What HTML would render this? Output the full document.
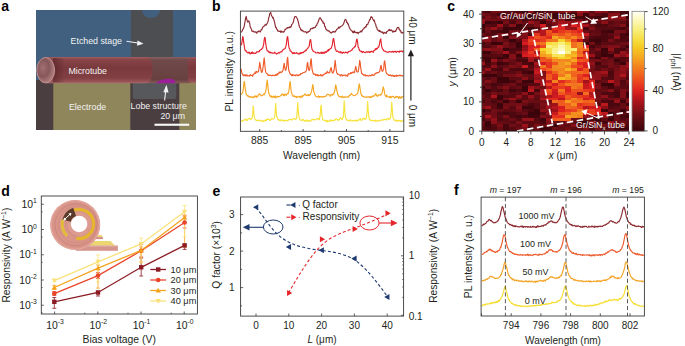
<!DOCTYPE html><html><head><meta charset="utf-8"><style>html,body{margin:0;padding:0;background:#fff;width:685px;height:346px;overflow:hidden}svg{display:block}text{font-family:"Liberation Sans",sans-serif}</style></head><body><svg width="685" height="346" viewBox="0 0 685 346" font-family='"Liberation Sans", sans-serif'>
<rect width="685" height="346" fill="#fff"/>
<text x="1.2" y="10.5" font-size="14" font-weight="bold" fill="#000">a</text>
<text x="212.0" y="10.5" font-size="14" font-weight="bold" fill="#000">b</text>
<text x="447.3" y="10.6" font-size="14" font-weight="bold" fill="#000">c</text>
<text x="1.2" y="196.1" font-size="14" font-weight="bold" fill="#000">d</text>
<text x="212.4" y="195.6" font-size="14" font-weight="bold" fill="#000">e</text>
<text x="454.1" y="195.2" font-size="14" font-weight="bold" fill="#000">f</text>
<defs><clipPath id="cpa"><rect x="36" y="10" width="160" height="120"/></clipPath></defs>
<g id="pa" clip-path="url(#cpa)">
<defs><linearGradient id="tg" x1="0" y1="0" x2="0" y2="1"><stop offset="0" stop-color="#a25e60"/><stop offset="0.1" stop-color="#874548"/><stop offset="0.4" stop-color="#7a393d"/><stop offset="0.8" stop-color="#834044"/><stop offset="0.95" stop-color="#9a5658"/><stop offset="1" stop-color="#b07074"/></linearGradient><linearGradient id="tg2" x1="0" y1="0" x2="0" y2="1"><stop offset="0" stop-color="#8a6062"/><stop offset="0.12" stop-color="#70494b"/><stop offset="0.85" stop-color="#67403f"/><stop offset="1" stop-color="#885a5a"/></linearGradient><radialGradient id="cap" cx="0.35" cy="0.4" r="0.7"><stop offset="0" stop-color="#a07072"/><stop offset="0.5" stop-color="#86575a"/><stop offset="1" stop-color="#b98788"/></radialGradient><linearGradient id="shd" x1="0" y1="0" x2="1" y2="0"><stop offset="0" stop-color="#4a1c20" stop-opacity="0.55"/><stop offset="1" stop-color="#4a1c20" stop-opacity="0"/></linearGradient></defs>
<rect x="36" y="10" width="160" height="120" fill="#41607f"/>
<path d="M131,10 L142,10 C143,15 145.5,17.8 151,17.8 C156.5,17.8 159,15 160,10 L173,10 L173,60 L131,60 Z" fill="#4d4e51"/>
<rect x="36" y="80" width="160" height="50" fill="#4a3e41"/>
<rect x="53.3" y="82" width="77" height="48" fill="#8f865c"/>
<rect x="179.3" y="82" width="16.7" height="48" fill="#8f865c"/>
<path d="M132.8,82 L176.3,82 L176.3,97 Q176.3,99 174.3,99 L134.8,99 Q132.8,99 132.8,97 Z" fill="#56585c"/>
<rect x="143" y="57" width="51" height="26.3" rx="5" fill="url(#tg2)"/>
<path d="M45.7,57 L146,57 C151,57 152.5,63 152.5,70 C152.5,77 151,83.3 146,83.3 L45.7,83.3 Z" fill="url(#tg)"/>
<rect x="187.8" y="57" width="12" height="26.3" rx="5" fill="url(#tg)"/>
<rect x="53" y="58" width="12" height="24.5" fill="url(#shd)"/>
<ellipse cx="45.7" cy="70.2" rx="8.9" ry="12.7" fill="url(#cap)" stroke="#c09090" stroke-width="1"/>
<path d="M155.3,83.3 C158,81 162,79.5 166,78.9 C170,78.3 173.5,78.8 174.8,80.5 C175.5,81.8 175.2,83 174.8,83.3 Z" fill="#9b1f98"/>
<text x="70.6" y="44.3" font-size="8.8" text-anchor="start" fill="#f2f2f2" >Etched stage</text>
<text x="68.4" y="74.2" font-size="8.8" text-anchor="start" fill="#f2f2f2" >Microtube</text>
<text x="69.0" y="109.6" font-size="8.8" text-anchor="start" fill="#f2f2f2" >Electrode</text>
<text x="130.6" y="109.4" font-size="8.8" text-anchor="start" fill="#f2f2f2" >Lobe structure</text>
<text x="160.4" y="119.0" font-size="8.8" text-anchor="start" fill="#f2f2f2" >20 μm</text>
<line x1="126.5" y1="41.2" x2="139.5" y2="43.2" stroke="#f2f2f2" stroke-width="1.1"/>
<path d="M143.5,43.8 L137.5,40.4 L137.0,45.8 Z" fill="#f2f2f2"/>
<line x1="164.6" y1="100.5" x2="165.7" y2="91" stroke="#f2f2f2" stroke-width="1.1"/>
<path d="M166.4,84.8 L163.3,92.3 L168.6,92.6 Z" fill="#f2f2f2"/>
<rect x="154.5" y="123.7" width="34.7" height="2.1" fill="#f8f8f8"/>
</g>
<polyline points="241.20,32.53 241.70,31.49 242.20,30.85 242.70,29.22 243.20,29.12 243.70,27.82 244.20,26.16 244.70,23.38 245.20,20.58 245.70,17.62 246.20,16.45 246.70,18.93 247.20,20.75 247.70,22.11 248.20,21.23 248.70,20.84 249.20,21.80 249.70,23.48 250.20,26.96 250.70,27.63 251.20,28.78 251.70,30.10 252.20,31.53 252.70,31.32 253.20,31.00 253.70,31.38 254.20,32.22 254.70,31.95 255.20,31.75 255.70,32.09 256.20,32.62 256.70,33.27 257.20,31.67 257.70,31.97 258.20,31.84 258.70,30.95 259.20,31.56 259.70,31.28 260.20,32.00 260.70,30.88 261.20,29.49 261.70,29.88 262.20,28.57 262.70,27.08 263.20,26.95 263.70,26.39 264.20,25.81 264.70,25.91 265.20,24.42 265.70,24.99 266.20,25.07 266.70,24.24 267.20,23.40 267.70,22.18 268.20,20.85 268.70,17.74 269.20,16.74 269.70,13.57 270.20,13.06 270.70,12.34 271.20,14.71 271.70,16.09 272.20,16.37 272.70,18.04 273.20,17.51 273.70,19.15 274.20,21.04 274.70,22.58 275.20,25.29 275.70,27.63 276.20,27.38 276.70,29.27 277.20,29.46 277.70,30.97 278.20,30.76 278.70,31.20 279.20,31.45 279.70,31.47 280.20,30.83 280.70,32.36 281.20,31.09 281.70,31.98 282.20,32.21 282.70,31.48 283.20,31.90 283.70,32.26 284.20,31.39 284.70,30.55 285.20,29.01 285.70,29.37 286.20,28.93 286.70,28.38 287.20,27.70 287.70,28.06 288.20,27.40 288.70,27.52 289.20,27.80 289.70,26.83 290.20,26.79 290.70,27.56 291.20,26.32 291.70,24.50 292.20,24.22 292.70,23.48 293.20,22.51 293.70,20.42 294.20,18.37 294.70,16.76 295.20,16.63 295.70,16.54 296.20,16.79 296.70,17.74 297.20,18.46 297.70,20.26 298.20,21.34 298.70,23.97 299.20,26.05 299.70,27.41 300.20,27.94 300.70,29.93 301.20,29.59 301.70,30.67 302.20,30.48 302.70,30.29 303.20,31.52 303.70,31.75 304.20,31.73 304.70,32.03 305.20,31.67 305.70,31.70 306.20,32.04 306.70,33.11 307.20,32.55 307.70,31.82 308.20,32.22 308.70,31.47 309.20,31.12 309.70,31.29 310.20,30.01 310.70,28.81 311.20,28.59 311.70,28.58 312.20,28.25 312.70,28.59 313.20,27.50 313.70,28.13 314.20,27.83 314.70,27.28 315.20,27.37 315.70,26.65 316.20,25.30 316.70,25.48 317.20,23.42 317.70,23.00 318.20,21.73 318.70,20.57 319.20,18.66 319.70,18.03 320.20,17.75 320.70,18.92 321.20,19.09 321.70,20.57 322.20,21.11 322.70,20.96 323.20,23.32 323.70,22.76 324.20,23.41 324.70,26.43 325.20,26.65 325.70,28.55 326.20,29.71 326.70,29.65 327.20,30.29 327.70,30.65 328.20,31.17 328.70,30.68 329.20,31.08 329.70,31.79 330.20,32.51 330.70,32.41 331.20,33.05 331.70,32.60 332.20,32.05 332.70,32.27 333.20,31.32 333.70,31.81 334.20,31.68 334.70,32.14 335.20,32.02 335.70,30.98 336.20,30.38 336.70,29.21 337.20,29.18 337.70,28.66 338.20,28.15 338.70,27.09 339.20,28.18 339.70,27.60 340.20,26.82 340.70,26.44 341.20,26.30 341.70,26.18 342.20,25.60 342.70,25.17 343.20,24.42 343.70,23.56 344.20,22.06 344.70,20.09 345.20,19.59 345.70,19.42 346.20,20.25 346.70,22.51 347.20,22.09 347.70,24.00 348.20,23.78 348.70,25.41 349.20,27.29 349.70,28.07 350.20,29.31 350.70,29.79 351.20,30.28 351.70,30.89 352.20,30.99 352.70,32.40 353.20,31.70 353.70,32.81 354.20,30.73 354.70,32.18 355.20,32.53 355.70,32.16 356.20,32.90 356.70,32.71 357.20,32.27 357.70,32.63 358.20,33.81 358.70,32.50 359.20,32.46 359.70,31.97 360.20,32.06 360.70,31.04 361.20,31.15 361.70,31.90 362.20,30.52 362.70,29.55 363.20,29.04 363.70,28.77 364.20,27.61 364.70,27.96 365.20,27.17 365.70,26.46 366.20,26.92 366.70,24.47 367.20,24.79 367.70,24.49 368.20,23.00 368.70,22.31 369.20,20.82 369.70,19.41 370.20,19.68 370.70,17.48 371.20,16.56 371.70,17.42 372.20,17.43 372.70,18.99 373.20,19.60 373.70,20.92 374.20,20.10 374.70,22.22 375.20,23.33 375.70,24.29 376.20,26.91 376.70,27.22 377.20,29.48 377.70,29.72 378.20,30.44 378.70,30.63 379.20,31.43 379.70,30.36 380.20,31.59 380.70,31.45 381.20,32.08 381.70,32.06 382.20,32.52 382.70,31.90 383.20,33.33 383.70,33.64 384.20,32.44 384.70,32.57 385.20,32.73 385.70,33.18 386.20,33.40 386.70,31.66 387.20,31.65 387.70,31.03 388.20,30.54 388.70,29.79 389.20,30.39 389.70,29.38 390.20,30.67 390.70,30.54 391.20,29.90 391.70,30.32 392.20,30.94 392.70,32.27 393.20,31.35 393.70,31.09 394.20,31.72 394.70,31.70 395.20,30.79 395.70,31.36 396.20,29.92 396.70,29.13 397.20,27.62 397.70,27.58 398.20,27.74 398.70,27.43 399.20,29.65 399.70,29.45 400.20,31.01 400.70,30.79 401.20,32.92 401.70,32.36 402.20,32.85 402.70,33.04 403.20,32.05" fill="none" stroke="#8f2d35" stroke-width="1.15" stroke-linejoin="round"/>
<polyline points="241.20,45.28 241.70,43.84 242.20,40.65 242.70,36.54 243.20,37.74 243.70,42.47 244.20,45.37 244.70,48.69 245.20,50.98 245.70,50.81 246.20,50.79 246.70,52.04 247.20,52.24 247.70,52.85 248.20,52.42 248.70,52.98 249.20,52.02 249.70,53.47 250.20,53.85 250.70,53.76 251.20,52.52 251.70,53.36 252.20,51.89 252.70,53.36 253.20,53.20 253.70,52.77 254.20,53.34 254.70,53.19 255.20,53.48 255.70,53.01 256.20,52.92 256.70,51.75 257.20,51.87 257.70,51.90 258.20,51.93 258.70,51.43 259.20,51.72 259.70,50.24 260.20,50.12 260.70,49.92 261.20,49.28 261.70,49.15 262.20,48.08 262.70,48.12 263.20,45.91 263.70,44.06 264.20,39.69 264.70,37.30 265.20,37.96 265.70,43.46 266.20,46.61 266.70,49.13 267.20,50.92 267.70,50.74 268.20,51.23 268.70,51.78 269.20,52.62 269.70,51.85 270.20,52.89 270.70,52.38 271.20,52.52 271.70,52.93 272.20,53.31 272.70,52.90 273.20,52.98 273.70,53.21 274.20,53.12 274.70,52.05 275.20,53.06 275.70,53.29 276.20,53.73 276.70,54.12 277.20,53.46 277.70,53.13 278.20,52.57 278.70,52.91 279.20,53.05 279.70,53.06 280.20,51.83 280.70,52.02 281.20,51.94 281.70,52.02 282.20,50.90 282.70,50.12 283.20,49.64 283.70,49.36 284.20,48.78 284.70,48.90 285.20,48.27 285.70,46.92 286.20,45.06 286.70,40.86 287.20,37.17 287.70,36.54 288.20,41.07 288.70,45.90 289.20,48.12 289.70,48.98 290.20,50.77 290.70,51.26 291.20,51.37 291.70,52.03 292.20,53.05 292.70,53.54 293.20,52.69 293.70,53.45 294.20,53.60 294.70,52.61 295.20,53.15 295.70,53.19 296.20,53.31 296.70,52.53 297.20,53.11 297.70,53.75 298.20,53.84 298.70,54.10 299.20,53.10 299.70,54.07 300.20,53.48 300.70,52.49 301.20,53.34 301.70,52.70 302.20,52.91 302.70,52.41 303.20,52.72 303.70,51.98 304.20,51.39 304.70,51.57 305.20,50.86 305.70,50.16 306.20,50.53 306.70,49.39 307.20,48.90 307.70,48.49 308.20,47.44 308.70,46.84 309.20,46.14 309.70,42.00 310.20,39.52 310.70,39.77 311.20,43.72 311.70,47.88 312.20,49.62 312.70,50.18 313.20,51.25 313.70,51.39 314.20,51.76 314.70,51.95 315.20,52.12 315.70,52.80 316.20,53.00 316.70,53.02 317.20,52.77 317.70,52.26 318.20,52.87 318.70,52.49 319.20,53.32 319.70,53.17 320.20,53.26 320.70,52.76 321.20,52.09 321.70,53.32 322.20,53.42 322.70,52.16 323.20,52.84 323.70,53.24 324.20,52.11 324.70,53.26 325.20,52.13 325.70,51.58 326.20,52.42 326.70,51.63 327.20,50.85 327.70,51.16 328.20,49.49 328.70,50.79 329.20,49.21 329.70,49.31 330.20,48.60 330.70,48.52 331.20,48.12 331.70,46.38 332.20,45.43 332.70,42.13 333.20,38.64 333.70,38.66 334.20,41.93 334.70,45.60 335.20,48.71 335.70,49.64 336.20,51.11 336.70,51.38 337.20,51.12 337.70,51.00 338.20,51.73 338.70,52.29 339.20,52.28 339.70,51.97 340.20,52.85 340.70,51.64 341.20,51.89 341.70,52.53 342.20,53.47 342.70,52.68 343.20,52.04 343.70,52.76 344.20,52.79 344.70,52.90 345.20,52.27 345.70,52.07 346.20,52.44 346.70,52.52 347.20,52.98 347.70,53.09 348.20,51.68 348.70,51.59 349.20,51.58 349.70,51.22 350.20,51.24 350.70,50.89 351.20,50.41 351.70,50.51 352.20,49.45 352.70,48.67 353.20,48.07 353.70,47.94 354.20,47.50 354.70,46.54 355.20,46.74 355.70,44.87 356.20,41.89 356.70,38.98 357.20,39.40 357.70,43.21 358.20,47.47 358.70,47.56 359.20,49.79 359.70,50.81 360.20,51.03 360.70,51.16 361.20,51.88 361.70,51.20 362.20,52.07 362.70,52.54 363.20,51.49 363.70,51.63 364.20,52.09 364.70,52.49 365.20,52.67 365.70,52.38 366.20,51.78 366.70,51.58 367.20,52.19 367.70,52.25 368.20,51.56 368.70,52.07 369.20,52.16 369.70,52.45 370.20,51.48 370.70,52.10 371.20,51.23 371.70,51.43 372.20,51.41 372.70,51.92 373.20,52.46 373.70,50.78 374.20,50.55 374.70,50.41 375.20,48.96 375.70,49.53 376.20,48.26 376.70,49.19 377.20,48.75 377.70,47.93 378.20,46.82 378.70,47.13 379.20,45.09 379.70,42.64 380.20,40.04 380.70,38.89 381.20,43.01 381.70,46.38 382.20,48.12 382.70,49.28 383.20,49.57 383.70,50.81 384.20,50.96 384.70,51.12 385.20,51.03 385.70,51.79 386.20,52.05 386.70,51.73 387.20,52.00 387.70,52.23 388.20,52.37 388.70,51.78 389.20,51.59 389.70,51.51 390.20,51.71 390.70,51.96 391.20,52.13 391.70,51.52 392.20,51.78 392.70,51.26 393.20,52.28 393.70,51.53 394.20,51.86 394.70,51.38 395.20,51.56 395.70,51.38 396.20,52.45 396.70,51.84 397.20,51.60 397.70,51.24 398.20,51.38 398.70,51.91 399.20,52.39 399.70,50.99 400.20,51.22 400.70,51.54 401.20,51.33 401.70,50.86 402.20,51.61 402.70,51.93 403.20,50.87" fill="none" stroke="#e3242f" stroke-width="1.15" stroke-linejoin="round"/>
<polyline points="241.20,68.81 241.70,72.34 242.20,73.91 242.70,74.07 243.20,75.74 243.70,75.22 244.20,74.77 244.70,75.70 245.20,74.83 245.70,75.79 246.20,74.86 246.70,75.82 247.20,75.22 247.70,76.01 248.20,75.84 248.70,75.71 249.20,75.53 249.70,75.97 250.20,74.63 250.70,75.57 251.20,75.45 251.70,75.35 252.20,75.24 252.70,76.24 253.20,74.27 253.70,74.18 254.20,73.48 254.70,73.75 255.20,71.84 255.70,73.31 256.20,72.15 256.70,71.41 257.20,71.93 257.70,72.18 258.20,71.82 258.70,70.27 259.20,67.20 259.70,62.26 260.20,64.81 260.70,68.39 261.20,71.64 261.70,72.46 262.20,71.44 262.70,69.32 263.20,66.22 263.70,61.61 264.20,57.73 264.70,63.37 265.20,68.52 265.70,71.93 266.20,72.78 266.70,73.45 267.20,73.65 267.70,74.60 268.20,75.31 268.70,74.94 269.20,75.52 269.70,75.28 270.20,75.33 270.70,75.39 271.20,75.37 271.70,75.84 272.20,75.62 272.70,75.15 273.20,75.48 273.70,75.38 274.20,75.61 274.70,75.42 275.20,75.45 275.70,74.47 276.20,75.12 276.70,75.29 277.20,73.77 277.70,74.72 278.20,73.73 278.70,73.11 279.20,72.05 279.70,73.10 280.20,72.02 280.70,72.17 281.20,72.64 281.70,71.89 282.20,71.68 282.70,70.88 283.20,69.43 283.70,65.67 284.20,63.23 284.70,67.20 285.20,69.63 285.70,70.35 286.20,68.66 286.70,66.15 287.20,59.13 287.70,57.27 288.20,64.11 288.70,70.09 289.20,71.22 289.70,72.94 290.20,74.07 290.70,73.85 291.20,75.12 291.70,75.61 292.20,74.63 292.70,75.62 293.20,74.79 293.70,74.80 294.20,75.41 294.70,75.45 295.20,75.10 295.70,75.77 296.20,74.74 296.70,75.02 297.20,74.91 297.70,75.71 298.20,75.68 298.70,75.53 299.20,74.51 299.70,74.95 300.20,74.83 300.70,73.57 301.20,73.54 301.70,73.80 302.20,73.44 302.70,72.90 303.20,72.79 303.70,72.55 304.20,72.42 304.70,72.29 305.20,71.85 305.70,71.78 306.20,70.70 306.70,69.39 307.20,63.61 307.70,62.55 308.20,67.22 308.70,69.94 309.20,70.36 309.70,69.51 310.20,65.76 310.70,60.30 311.20,58.80 311.70,65.35 312.20,70.10 312.70,71.52 313.20,73.34 313.70,74.09 314.20,74.26 314.70,74.48 315.20,74.06 315.70,75.55 316.20,74.72 316.70,74.66 317.20,75.58 317.70,74.51 318.20,75.80 318.70,75.60 319.20,75.69 319.70,75.36 320.20,74.90 320.70,74.59 321.20,76.07 321.70,75.16 322.20,75.05 322.70,75.86 323.20,74.68 323.70,74.59 324.20,74.27 324.70,73.95 325.20,73.15 325.70,73.00 326.20,73.53 326.70,73.09 327.20,71.31 327.70,71.79 328.20,72.90 328.70,72.77 329.20,72.58 329.70,72.74 330.20,70.04 330.70,68.51 331.20,67.55 331.70,70.78 332.20,72.42 332.70,73.23 333.20,72.50 333.70,71.32 334.20,69.51 334.70,64.61 335.20,60.28 335.70,65.25 336.20,69.95 336.70,72.66 337.20,73.38 337.70,74.24 338.20,74.35 338.70,74.36 339.20,75.02 339.70,75.20 340.20,74.92 340.70,76.11 341.20,74.62 341.70,75.02 342.20,75.12 342.70,76.03 343.20,75.35 343.70,75.33 344.20,75.09 344.70,75.15 345.20,74.90 345.70,75.92 346.20,75.70 346.70,75.80 347.20,74.94 347.70,76.19 348.20,74.38 348.70,73.60 349.20,74.03 349.70,73.84 350.20,73.73 350.70,72.59 351.20,73.06 351.70,73.41 352.20,72.22 352.70,72.31 353.20,71.93 353.70,72.76 354.20,72.67 354.70,71.48 355.20,68.77 355.70,66.41 356.20,68.53 356.70,71.68 357.20,71.89 357.70,71.98 358.20,71.57 358.70,68.88 359.20,65.00 359.70,60.40 360.20,62.68 360.70,67.71 361.20,70.94 361.70,73.54 362.20,73.46 362.70,74.39 363.20,74.56 363.70,74.92 364.20,75.55 364.70,74.93 365.20,74.62 365.70,75.97 366.20,75.47 366.70,75.73 367.20,75.43 367.70,75.81 368.20,76.05 368.70,76.11 369.20,75.38 369.70,75.35 370.20,75.68 370.70,75.58 371.20,75.71 371.70,75.09 372.20,74.27 372.70,75.38 373.20,75.33 373.70,75.00 374.20,75.13 374.70,74.39 375.20,73.43 375.70,73.67 376.20,72.87 376.70,73.25 377.20,72.68 377.70,72.76 378.20,72.68 378.70,72.60 379.20,71.68 379.70,71.64 380.20,68.61 380.70,66.01 381.20,65.51 381.70,69.84 382.20,71.25 382.70,71.17 383.20,69.86 383.70,68.74 384.20,62.18 384.70,60.82 385.20,64.29 385.70,69.81 386.20,72.51 386.70,73.58 387.20,74.11 387.70,74.18 388.20,74.42 388.70,75.48 389.20,75.35 389.70,75.19 390.20,75.43 390.70,74.98 391.20,75.90 391.70,76.05 392.20,75.16 392.70,75.58 393.20,76.03 393.70,75.29 394.20,76.51 394.70,76.29 395.20,75.50 395.70,76.07 396.20,76.39 396.70,75.09 397.20,75.94 397.70,75.60 398.20,75.57 398.70,76.00 399.20,75.47 399.70,75.06 400.20,75.05 400.70,75.69 401.20,75.98 401.70,75.69 402.20,75.64 402.70,75.69 403.20,76.29" fill="none" stroke="#ef5b2b" stroke-width="1.15" stroke-linejoin="round"/>
<polyline points="241.20,94.66 241.70,93.64 242.20,93.15 242.70,92.57 243.20,89.39 243.70,85.26 244.20,81.42 244.70,83.26 245.20,89.22 245.70,91.19 246.20,94.69 246.70,94.90 247.20,95.17 247.70,96.27 248.20,95.64 248.70,96.84 249.20,97.07 249.70,96.56 250.20,96.71 250.70,97.36 251.20,96.67 251.70,97.01 252.20,97.17 252.70,97.72 253.20,96.79 253.70,97.02 254.20,97.49 254.70,95.80 255.20,96.77 255.70,95.96 256.20,95.88 256.70,97.41 257.20,96.36 257.70,96.52 258.20,95.12 258.70,94.70 259.20,93.79 259.70,94.00 260.20,94.77 260.70,95.26 261.20,96.06 261.70,95.28 262.20,95.42 262.70,94.95 263.20,94.90 263.70,93.97 264.20,94.69 264.70,93.45 265.20,92.85 265.70,91.21 266.20,88.82 266.70,83.72 267.20,80.11 267.70,83.92 268.20,89.23 268.70,92.63 269.20,94.29 269.70,95.66 270.20,96.43 270.70,96.38 271.20,95.78 271.70,97.35 272.20,97.66 272.70,96.62 273.20,96.67 273.70,95.98 274.20,97.30 274.70,96.52 275.20,97.81 275.70,95.88 276.20,97.03 276.70,97.29 277.20,96.78 277.70,96.57 278.20,96.98 278.70,96.55 279.20,96.52 279.70,96.47 280.20,95.95 280.70,95.65 281.20,95.43 281.70,94.15 282.20,94.07 282.70,94.03 283.20,95.34 283.70,94.70 284.20,95.84 284.70,94.03 285.20,94.87 285.70,94.39 286.20,95.34 286.70,94.74 287.20,93.69 287.70,93.53 288.20,93.57 288.70,91.40 289.20,88.77 289.70,83.31 290.20,81.46 290.70,86.56 291.20,91.69 291.70,92.96 292.20,94.88 292.70,95.01 293.20,96.51 293.70,96.07 294.20,96.30 294.70,95.80 295.20,96.58 295.70,96.92 296.20,97.52 296.70,96.41 297.20,97.41 297.70,96.83 298.20,96.87 298.70,96.57 299.20,96.23 299.70,96.43 300.20,97.68 300.70,96.36 301.20,96.63 301.70,97.22 302.20,95.62 302.70,96.53 303.20,95.73 303.70,95.46 304.20,95.01 304.70,93.98 305.20,94.09 305.70,95.07 306.20,95.48 306.70,95.09 307.20,95.38 307.70,94.79 308.20,95.84 308.70,94.53 309.20,94.95 309.70,95.40 310.20,94.64 310.70,93.61 311.20,92.45 311.70,90.64 312.20,88.02 312.70,84.61 313.20,86.33 313.70,91.59 314.20,92.75 314.70,94.40 315.20,95.31 315.70,96.10 316.20,96.48 316.70,96.43 317.20,97.04 317.70,97.06 318.20,96.75 318.70,95.84 319.20,97.34 319.70,96.58 320.20,96.73 320.70,96.97 321.20,96.48 321.70,96.67 322.20,97.05 322.70,96.84 323.20,97.11 323.70,96.53 324.20,96.75 324.70,96.28 325.20,96.48 325.70,96.52 326.20,95.93 326.70,94.87 327.20,94.69 327.70,94.18 328.20,94.60 328.70,94.60 329.20,94.93 329.70,94.85 330.20,96.35 330.70,94.97 331.20,94.76 331.70,95.03 332.20,94.07 332.70,95.13 333.20,94.40 333.70,94.05 334.20,92.51 334.70,91.05 335.20,88.58 335.70,84.93 336.20,86.58 336.70,90.00 337.20,91.74 337.70,94.36 338.20,95.13 338.70,96.37 339.20,96.21 339.70,96.72 340.20,96.52 340.70,97.06 341.20,97.52 341.70,96.65 342.20,96.05 342.70,96.54 343.20,97.73 343.70,97.14 344.20,96.92 344.70,96.62 345.20,97.52 345.70,97.16 346.20,96.96 346.70,96.73 347.20,96.86 347.70,96.71 348.20,97.01 348.70,97.17 349.20,95.47 349.70,95.32 350.20,95.35 350.70,94.67 351.20,93.36 351.70,93.91 352.20,94.57 352.70,95.00 353.20,95.21 353.70,95.42 354.20,95.79 354.70,95.58 355.20,95.32 355.70,94.96 356.20,94.25 356.70,93.99 357.20,93.94 357.70,92.65 358.20,90.97 358.70,87.19 359.20,83.74 359.70,85.89 360.20,89.33 360.70,92.82 361.20,94.22 361.70,95.78 362.20,95.64 362.70,96.40 363.20,96.34 363.70,96.91 364.20,97.13 364.70,96.80 365.20,97.00 365.70,97.07 366.20,97.38 366.70,96.90 367.20,97.09 367.70,96.89 368.20,96.65 368.70,97.16 369.20,97.27 369.70,96.70 370.20,97.75 370.70,96.68 371.20,97.30 371.70,97.07 372.20,96.04 372.70,96.65 373.20,95.74 373.70,96.05 374.20,95.88 374.70,95.67 375.20,94.53 375.70,93.48 376.20,94.54 376.70,95.87 377.20,95.55 377.70,96.35 378.20,95.19 378.70,95.15 379.20,94.64 379.70,94.90 380.20,95.44 380.70,94.20 381.20,94.61 381.70,93.76 382.20,92.58 382.70,89.64 383.20,86.82 383.70,88.44 384.20,90.36 384.70,93.80 385.20,95.57 385.70,95.90 386.20,96.93 386.70,95.16 387.20,96.56 387.70,96.32 388.20,96.76 388.70,96.97 389.20,97.29 389.70,96.73 390.20,97.54 390.70,96.47 391.20,97.63 391.70,97.10 392.20,96.43 392.70,96.44 393.20,96.45 393.70,96.82 394.20,97.32 394.70,97.87 395.20,97.64 395.70,96.69 396.20,96.26 396.70,97.16 397.20,96.66 397.70,97.23 398.20,97.00 398.70,98.47 399.20,96.54 399.70,97.46 400.20,98.15 400.70,97.13 401.20,96.97 401.70,98.08 402.20,96.37 402.70,96.55 403.20,96.77" fill="none" stroke="#f5a623" stroke-width="1.15" stroke-linejoin="round"/>
<polyline points="241.20,120.79 241.70,120.91 242.20,120.50 242.70,121.37 243.20,120.31 243.70,120.23 244.20,119.82 244.70,119.98 245.20,119.06 245.70,119.06 246.20,120.32 246.70,120.41 247.20,120.35 247.70,119.32 248.20,119.08 248.70,118.83 249.20,118.27 249.70,118.41 250.20,119.03 250.70,119.65 251.20,118.91 251.70,118.93 252.20,117.33 252.70,113.45 253.20,105.78 253.70,111.00 254.20,116.66 254.70,118.35 255.20,119.67 255.70,120.02 256.20,120.37 256.70,120.24 257.20,120.84 257.70,120.66 258.20,120.09 258.70,120.07 259.20,120.05 259.70,120.79 260.20,120.36 260.70,120.51 261.20,120.63 261.70,121.15 262.20,121.53 262.70,120.60 263.20,121.43 263.70,120.84 264.20,121.07 264.70,120.43 265.20,119.98 265.70,120.57 266.20,120.71 266.70,119.25 267.20,119.36 267.70,119.13 268.20,119.55 268.70,119.27 269.20,119.69 269.70,120.30 270.20,120.50 270.70,119.44 271.20,119.16 271.70,118.38 272.20,118.82 272.70,118.98 273.20,119.21 273.70,118.87 274.20,118.42 274.70,116.89 275.20,111.00 275.70,103.21 276.20,110.73 276.70,116.87 277.20,117.35 277.70,118.91 278.20,119.78 278.70,119.43 279.20,120.54 279.70,120.50 280.20,120.12 280.70,120.57 281.20,119.96 281.70,120.23 282.20,120.46 282.70,119.98 283.20,121.05 283.70,120.37 284.20,121.05 284.70,120.57 285.20,120.74 285.70,120.24 286.20,120.45 286.70,120.37 287.20,120.57 287.70,120.93 288.20,119.99 288.70,119.87 289.20,119.62 289.70,119.40 290.20,119.16 290.70,119.48 291.20,119.64 291.70,119.93 292.20,119.91 292.70,119.21 293.20,118.77 293.70,118.63 294.20,118.50 294.70,118.79 295.20,119.53 295.70,119.39 296.20,118.72 296.70,117.07 297.20,111.89 297.70,102.58 298.20,108.54 298.70,115.65 299.20,117.50 299.70,119.27 300.20,119.94 300.70,120.29 301.20,120.15 301.70,120.40 302.20,119.74 302.70,119.92 303.20,119.37 303.70,120.50 304.20,121.26 304.70,121.33 305.20,120.19 305.70,120.91 306.20,121.16 306.70,120.53 307.20,119.87 307.70,121.22 308.20,120.50 308.70,120.47 309.20,121.29 309.70,120.76 310.20,120.85 310.70,121.08 311.20,120.25 311.70,119.69 312.20,120.01 312.70,119.19 313.20,119.38 313.70,119.65 314.20,119.52 314.70,119.96 315.20,119.77 315.70,119.57 316.20,119.17 316.70,118.66 317.20,118.46 317.70,118.37 318.20,119.51 318.70,118.71 319.20,119.80 319.70,117.54 320.20,114.90 320.70,107.54 321.20,104.96 321.70,113.44 322.20,117.08 322.70,119.17 323.20,119.87 323.70,120.38 324.20,120.36 324.70,120.19 325.20,120.66 325.70,121.11 326.20,120.25 326.70,122.04 327.20,120.46 327.70,121.15 328.20,121.42 328.70,121.04 329.20,120.80 329.70,120.97 330.20,121.21 330.70,119.61 331.20,120.85 331.70,120.49 332.20,120.35 332.70,120.65 333.20,120.63 333.70,120.70 334.20,120.17 334.70,120.69 335.20,119.12 335.70,119.10 336.20,118.57 336.70,119.26 337.20,119.44 337.70,120.09 338.20,119.61 338.70,120.32 339.20,119.78 339.70,118.68 340.20,117.64 340.70,118.02 341.20,118.38 341.70,119.72 342.20,119.37 342.70,117.89 343.20,117.41 343.70,111.60 344.20,100.90 344.70,108.38 345.20,115.93 345.70,118.11 346.20,118.86 346.70,120.26 347.20,119.86 347.70,120.24 348.20,120.56 348.70,120.58 349.20,120.33 349.70,120.14 350.20,120.89 350.70,119.73 351.20,120.76 351.70,120.75 352.20,120.86 352.70,120.51 353.20,120.75 353.70,120.98 354.20,120.24 354.70,120.67 355.20,120.78 355.70,120.11 356.20,120.20 356.70,121.17 357.20,120.89 357.70,120.07 358.20,120.48 358.70,120.03 359.20,119.94 359.70,119.49 360.20,118.33 360.70,119.58 361.20,120.46 361.70,120.58 362.20,119.52 362.70,118.90 363.20,118.86 363.70,118.04 364.20,118.62 364.70,118.64 365.20,119.56 365.70,119.26 366.20,118.45 366.70,115.78 367.20,109.69 367.70,101.40 368.20,110.62 368.70,115.64 369.20,118.77 369.70,120.13 370.20,119.63 370.70,120.07 371.20,120.70 371.70,120.78 372.20,120.24 372.70,120.47 373.20,120.63 373.70,120.50 374.20,120.86 374.70,120.78 375.20,121.19 375.70,119.99 376.20,121.15 376.70,121.01 377.20,120.63 377.70,120.85 378.20,121.07 378.70,120.79 379.20,120.55 379.70,120.75 380.20,120.33 380.70,120.04 381.20,120.15 381.70,120.10 382.20,120.32 382.70,120.28 383.20,119.60 383.70,119.66 384.20,119.19 384.70,119.39 385.20,119.61 385.70,119.59 386.20,119.71 386.70,120.05 387.20,118.32 387.70,118.56 388.20,118.52 388.70,119.37 389.20,119.06 389.70,119.39 390.20,118.24 390.70,116.95 391.20,110.98 391.70,102.04 392.20,108.28 392.70,114.81 393.20,118.50 393.70,118.82 394.20,120.21 394.70,120.12 395.20,120.58 395.70,120.58 396.20,120.04 396.70,121.20 397.20,121.11 397.70,120.26 398.20,120.92 398.70,120.90 399.20,120.46 399.70,120.33 400.20,121.28 400.70,120.62 401.20,121.15 401.70,121.55 402.20,120.99 402.70,120.45 403.20,121.21" fill="none" stroke="#f7e33c" stroke-width="1.15" stroke-linejoin="round"/>
<rect x="240.4" y="11.1" width="163.4" height="120.20000000000002" fill="none" stroke="#3a3a3a" stroke-width="0.9"/>
<line x1="259.70" y1="131.3" x2="259.70" y2="129.10000000000002" stroke="#3a3a3a" stroke-width="0.9"/>
<text x="259.70" y="144.3" font-size="10.4" text-anchor="middle" fill="#231f20" >885</text>
<line x1="281.40" y1="131.3" x2="281.40" y2="130.10000000000002" stroke="#3a3a3a" stroke-width="0.9"/>
<line x1="303.10" y1="131.3" x2="303.10" y2="129.10000000000002" stroke="#3a3a3a" stroke-width="0.9"/>
<text x="303.10" y="144.3" font-size="10.4" text-anchor="middle" fill="#231f20" >895</text>
<line x1="324.80" y1="131.3" x2="324.80" y2="130.10000000000002" stroke="#3a3a3a" stroke-width="0.9"/>
<line x1="346.50" y1="131.3" x2="346.50" y2="129.10000000000002" stroke="#3a3a3a" stroke-width="0.9"/>
<text x="346.50" y="144.3" font-size="10.4" text-anchor="middle" fill="#231f20" >905</text>
<line x1="368.20" y1="131.3" x2="368.20" y2="130.10000000000002" stroke="#3a3a3a" stroke-width="0.9"/>
<line x1="389.90" y1="131.3" x2="389.90" y2="129.10000000000002" stroke="#3a3a3a" stroke-width="0.9"/>
<text x="389.90" y="144.3" font-size="10.4" text-anchor="middle" fill="#231f20" >915</text>
<text x="321.6" y="158.7" font-size="10.2" text-anchor="middle" fill="#231f20" >Wavelength (nm)</text>
<text transform="translate(233.4,71.35) rotate(-90)" font-size="10.4" text-anchor="middle" fill="#231f20">PL intensity (a.u.)</text>
<text transform="translate(409.2,16.6) rotate(90)" font-size="10" fill="#231f20">40 μm</text>
<text transform="translate(409.2,104.7) rotate(90)" font-size="10" fill="#231f20">0 μm</text>
<line x1="410.9" y1="55" x2="410.9" y2="100.4" stroke="#231f20" stroke-width="1.2"/>
<path d="M410.9,49.6 L407.8,56.2 L414.0,56.2 Z" fill="#231f20"/>
<g shape-rendering="crispEdges">
<rect x="481.8" y="10.8" width="147.2" height="120.50000000000001" fill="#4a0a0e"/>
<rect x="481.80" y="129.64" width="3.12" height="1.71" fill="rgb(151,18,26)"/>
<rect x="481.80" y="126.71" width="3.12" height="2.97" fill="rgb(81,8,15)"/>
<rect x="481.80" y="123.79" width="3.12" height="2.97" fill="rgb(95,10,18)"/>
<rect x="481.80" y="120.86" width="3.12" height="2.97" fill="rgb(105,12,20)"/>
<rect x="481.80" y="117.94" width="3.12" height="2.97" fill="rgb(72,6,13)"/>
<rect x="481.80" y="115.01" width="3.12" height="2.97" fill="rgb(94,10,18)"/>
<rect x="481.80" y="112.09" width="3.12" height="2.97" fill="rgb(94,10,18)"/>
<rect x="481.80" y="109.16" width="3.12" height="2.97" fill="rgb(58,4,10)"/>
<rect x="481.80" y="106.24" width="3.12" height="2.97" fill="rgb(127,15,23)"/>
<rect x="481.80" y="103.31" width="3.12" height="2.97" fill="rgb(112,13,21)"/>
<rect x="481.80" y="100.39" width="3.12" height="2.97" fill="rgb(77,7,14)"/>
<rect x="481.80" y="97.46" width="3.12" height="2.97" fill="rgb(89,9,17)"/>
<rect x="481.80" y="94.54" width="3.12" height="2.97" fill="rgb(109,12,20)"/>
<rect x="481.80" y="91.61" width="3.12" height="2.97" fill="rgb(87,9,16)"/>
<rect x="481.80" y="88.69" width="3.12" height="2.97" fill="rgb(87,9,16)"/>
<rect x="481.80" y="85.76" width="3.12" height="2.97" fill="rgb(58,4,10)"/>
<rect x="481.80" y="82.84" width="3.12" height="2.97" fill="rgb(110,13,21)"/>
<rect x="481.80" y="79.91" width="3.12" height="2.97" fill="rgb(97,11,18)"/>
<rect x="481.80" y="76.99" width="3.12" height="2.97" fill="rgb(102,11,19)"/>
<rect x="481.80" y="74.06" width="3.12" height="2.97" fill="rgb(58,4,10)"/>
<rect x="481.80" y="71.14" width="3.12" height="2.97" fill="rgb(149,17,25)"/>
<rect x="481.80" y="68.21" width="3.12" height="2.97" fill="rgb(98,11,19)"/>
<rect x="481.80" y="65.29" width="3.12" height="2.97" fill="rgb(83,8,15)"/>
<rect x="481.80" y="62.36" width="3.12" height="2.97" fill="rgb(163,19,27)"/>
<rect x="481.80" y="59.44" width="3.12" height="2.97" fill="rgb(93,10,17)"/>
<rect x="481.80" y="56.51" width="3.12" height="2.97" fill="rgb(58,4,10)"/>
<rect x="481.80" y="53.59" width="3.12" height="2.97" fill="rgb(83,8,15)"/>
<rect x="481.80" y="50.66" width="3.12" height="2.97" fill="rgb(58,4,10)"/>
<rect x="481.80" y="47.74" width="3.12" height="2.97" fill="rgb(128,15,23)"/>
<rect x="481.80" y="44.81" width="3.12" height="2.97" fill="rgb(82,8,15)"/>
<rect x="481.80" y="41.89" width="3.12" height="2.97" fill="rgb(73,7,13)"/>
<rect x="481.80" y="38.96" width="3.12" height="2.97" fill="rgb(129,15,23)"/>
<rect x="481.80" y="36.04" width="3.12" height="2.97" fill="rgb(58,4,10)"/>
<rect x="481.80" y="33.11" width="3.12" height="2.97" fill="rgb(110,13,21)"/>
<rect x="481.80" y="30.19" width="3.12" height="2.97" fill="rgb(58,4,10)"/>
<rect x="481.80" y="27.26" width="3.12" height="2.97" fill="rgb(76,7,14)"/>
<rect x="481.80" y="24.34" width="3.12" height="2.97" fill="rgb(60,4,11)"/>
<rect x="481.80" y="21.41" width="3.12" height="2.97" fill="rgb(143,17,25)"/>
<rect x="481.80" y="18.49" width="3.12" height="2.97" fill="rgb(153,18,26)"/>
<rect x="481.80" y="15.56" width="3.12" height="2.97" fill="rgb(85,9,16)"/>
<rect x="481.80" y="12.64" width="3.12" height="2.97" fill="rgb(121,14,22)"/>
<rect x="481.80" y="10.80" width="3.12" height="1.89" fill="rgb(89,9,17)"/>
<rect x="484.87" y="129.64" width="6.18" height="1.71" fill="rgb(111,13,21)"/>
<rect x="484.87" y="126.71" width="6.18" height="2.97" fill="rgb(73,7,13)"/>
<rect x="484.87" y="123.79" width="6.18" height="2.97" fill="rgb(58,4,10)"/>
<rect x="484.87" y="120.86" width="6.18" height="2.97" fill="rgb(58,4,10)"/>
<rect x="484.87" y="117.94" width="6.18" height="2.97" fill="rgb(105,12,20)"/>
<rect x="484.87" y="115.01" width="6.18" height="2.97" fill="rgb(171,20,28)"/>
<rect x="484.87" y="112.09" width="6.18" height="2.97" fill="rgb(101,11,19)"/>
<rect x="484.87" y="109.16" width="6.18" height="2.97" fill="rgb(79,8,15)"/>
<rect x="484.87" y="106.24" width="6.18" height="2.97" fill="rgb(159,19,27)"/>
<rect x="484.87" y="103.31" width="6.18" height="2.97" fill="rgb(100,11,19)"/>
<rect x="484.87" y="100.39" width="6.18" height="2.97" fill="rgb(97,11,18)"/>
<rect x="484.87" y="97.46" width="6.18" height="2.97" fill="rgb(101,11,19)"/>
<rect x="484.87" y="94.54" width="6.18" height="2.97" fill="rgb(90,9,17)"/>
<rect x="484.87" y="91.61" width="6.18" height="2.97" fill="rgb(85,9,16)"/>
<rect x="484.87" y="88.69" width="6.18" height="2.97" fill="rgb(58,4,10)"/>
<rect x="484.87" y="85.76" width="6.18" height="2.97" fill="rgb(109,12,20)"/>
<rect x="484.87" y="82.84" width="6.18" height="2.97" fill="rgb(91,10,17)"/>
<rect x="484.87" y="79.91" width="6.18" height="2.97" fill="rgb(133,15,23)"/>
<rect x="484.87" y="76.99" width="6.18" height="2.97" fill="rgb(84,8,15)"/>
<rect x="484.87" y="74.06" width="6.18" height="2.97" fill="rgb(58,4,10)"/>
<rect x="484.87" y="71.14" width="6.18" height="2.97" fill="rgb(91,10,17)"/>
<rect x="484.87" y="68.21" width="6.18" height="2.97" fill="rgb(151,18,26)"/>
<rect x="484.87" y="65.29" width="6.18" height="2.97" fill="rgb(83,8,15)"/>
<rect x="484.87" y="62.36" width="6.18" height="2.97" fill="rgb(69,6,12)"/>
<rect x="484.87" y="59.44" width="6.18" height="2.97" fill="rgb(61,4,11)"/>
<rect x="484.87" y="56.51" width="6.18" height="2.97" fill="rgb(65,5,11)"/>
<rect x="484.87" y="53.59" width="6.18" height="2.97" fill="rgb(86,9,16)"/>
<rect x="484.87" y="50.66" width="6.18" height="2.97" fill="rgb(61,5,11)"/>
<rect x="484.87" y="47.74" width="6.18" height="2.97" fill="rgb(144,17,25)"/>
<rect x="484.87" y="44.81" width="6.18" height="2.97" fill="rgb(86,9,16)"/>
<rect x="484.87" y="41.89" width="6.18" height="2.97" fill="rgb(97,11,18)"/>
<rect x="484.87" y="38.96" width="6.18" height="2.97" fill="rgb(142,17,25)"/>
<rect x="484.87" y="36.04" width="6.18" height="2.97" fill="rgb(144,17,25)"/>
<rect x="484.87" y="33.11" width="6.18" height="2.97" fill="rgb(88,9,16)"/>
<rect x="484.87" y="30.19" width="6.18" height="2.97" fill="rgb(103,12,20)"/>
<rect x="484.87" y="27.26" width="6.18" height="2.97" fill="rgb(117,13,21)"/>
<rect x="484.87" y="24.34" width="6.18" height="2.97" fill="rgb(89,9,17)"/>
<rect x="484.87" y="21.41" width="6.18" height="2.97" fill="rgb(58,4,10)"/>
<rect x="484.87" y="18.49" width="6.18" height="2.97" fill="rgb(114,13,21)"/>
<rect x="484.87" y="15.56" width="6.18" height="2.97" fill="rgb(123,14,22)"/>
<rect x="484.87" y="12.64" width="6.18" height="2.97" fill="rgb(106,12,20)"/>
<rect x="484.87" y="10.80" width="6.18" height="1.89" fill="rgb(68,6,12)"/>
<rect x="491.00" y="129.64" width="6.18" height="1.71" fill="rgb(88,9,16)"/>
<rect x="491.00" y="126.71" width="6.18" height="2.97" fill="rgb(78,7,14)"/>
<rect x="491.00" y="123.79" width="6.18" height="2.97" fill="rgb(86,9,16)"/>
<rect x="491.00" y="120.86" width="6.18" height="2.97" fill="rgb(137,16,24)"/>
<rect x="491.00" y="117.94" width="6.18" height="2.97" fill="rgb(145,17,25)"/>
<rect x="491.00" y="115.01" width="6.18" height="2.97" fill="rgb(115,13,21)"/>
<rect x="491.00" y="112.09" width="6.18" height="2.97" fill="rgb(110,13,21)"/>
<rect x="491.00" y="109.16" width="6.18" height="2.97" fill="rgb(115,13,21)"/>
<rect x="491.00" y="106.24" width="6.18" height="2.97" fill="rgb(94,10,18)"/>
<rect x="491.00" y="103.31" width="6.18" height="2.97" fill="rgb(92,10,17)"/>
<rect x="491.00" y="100.39" width="6.18" height="2.97" fill="rgb(75,7,14)"/>
<rect x="491.00" y="97.46" width="6.18" height="2.97" fill="rgb(92,10,17)"/>
<rect x="491.00" y="94.54" width="6.18" height="2.97" fill="rgb(171,20,28)"/>
<rect x="491.00" y="91.61" width="6.18" height="2.97" fill="rgb(122,14,22)"/>
<rect x="491.00" y="88.69" width="6.18" height="2.97" fill="rgb(84,8,16)"/>
<rect x="491.00" y="85.76" width="6.18" height="2.97" fill="rgb(81,8,15)"/>
<rect x="491.00" y="82.84" width="6.18" height="2.97" fill="rgb(70,6,13)"/>
<rect x="491.00" y="79.91" width="6.18" height="2.97" fill="rgb(104,12,20)"/>
<rect x="491.00" y="76.99" width="6.18" height="2.97" fill="rgb(105,12,20)"/>
<rect x="491.00" y="74.06" width="6.18" height="2.97" fill="rgb(58,4,10)"/>
<rect x="491.00" y="71.14" width="6.18" height="2.97" fill="rgb(108,12,20)"/>
<rect x="491.00" y="68.21" width="6.18" height="2.97" fill="rgb(78,7,14)"/>
<rect x="491.00" y="65.29" width="6.18" height="2.97" fill="rgb(141,16,24)"/>
<rect x="491.00" y="62.36" width="6.18" height="2.97" fill="rgb(98,11,19)"/>
<rect x="491.00" y="59.44" width="6.18" height="2.97" fill="rgb(152,18,26)"/>
<rect x="491.00" y="56.51" width="6.18" height="2.97" fill="rgb(81,8,15)"/>
<rect x="491.00" y="53.59" width="6.18" height="2.97" fill="rgb(86,9,16)"/>
<rect x="491.00" y="50.66" width="6.18" height="2.97" fill="rgb(102,12,19)"/>
<rect x="491.00" y="47.74" width="6.18" height="2.97" fill="rgb(128,15,23)"/>
<rect x="491.00" y="44.81" width="6.18" height="2.97" fill="rgb(111,13,21)"/>
<rect x="491.00" y="41.89" width="6.18" height="2.97" fill="rgb(60,4,10)"/>
<rect x="491.00" y="38.96" width="6.18" height="2.97" fill="rgb(99,11,19)"/>
<rect x="491.00" y="36.04" width="6.18" height="2.97" fill="rgb(95,10,18)"/>
<rect x="491.00" y="33.11" width="6.18" height="2.97" fill="rgb(82,8,15)"/>
<rect x="491.00" y="30.19" width="6.18" height="2.97" fill="rgb(76,7,14)"/>
<rect x="491.00" y="27.26" width="6.18" height="2.97" fill="rgb(153,18,26)"/>
<rect x="491.00" y="24.34" width="6.18" height="2.97" fill="rgb(83,8,15)"/>
<rect x="491.00" y="21.41" width="6.18" height="2.97" fill="rgb(70,6,13)"/>
<rect x="491.00" y="18.49" width="6.18" height="2.97" fill="rgb(113,13,21)"/>
<rect x="491.00" y="15.56" width="6.18" height="2.97" fill="rgb(98,11,18)"/>
<rect x="491.00" y="12.64" width="6.18" height="2.97" fill="rgb(92,10,17)"/>
<rect x="491.00" y="10.80" width="6.18" height="1.89" fill="rgb(119,14,22)"/>
<rect x="497.13" y="129.64" width="6.18" height="1.71" fill="rgb(108,12,20)"/>
<rect x="497.13" y="126.71" width="6.18" height="2.97" fill="rgb(104,12,20)"/>
<rect x="497.13" y="123.79" width="6.18" height="2.97" fill="rgb(125,14,22)"/>
<rect x="497.13" y="120.86" width="6.18" height="2.97" fill="rgb(102,11,19)"/>
<rect x="497.13" y="117.94" width="6.18" height="2.97" fill="rgb(77,7,14)"/>
<rect x="497.13" y="115.01" width="6.18" height="2.97" fill="rgb(84,8,16)"/>
<rect x="497.13" y="112.09" width="6.18" height="2.97" fill="rgb(79,8,15)"/>
<rect x="497.13" y="109.16" width="6.18" height="2.97" fill="rgb(100,11,19)"/>
<rect x="497.13" y="106.24" width="6.18" height="2.97" fill="rgb(64,5,11)"/>
<rect x="497.13" y="103.31" width="6.18" height="2.97" fill="rgb(58,4,10)"/>
<rect x="497.13" y="100.39" width="6.18" height="2.97" fill="rgb(96,11,18)"/>
<rect x="497.13" y="97.46" width="6.18" height="2.97" fill="rgb(58,4,10)"/>
<rect x="497.13" y="94.54" width="6.18" height="2.97" fill="rgb(58,4,10)"/>
<rect x="497.13" y="91.61" width="6.18" height="2.97" fill="rgb(104,12,20)"/>
<rect x="497.13" y="88.69" width="6.18" height="2.97" fill="rgb(74,7,13)"/>
<rect x="497.13" y="85.76" width="6.18" height="2.97" fill="rgb(108,12,20)"/>
<rect x="497.13" y="82.84" width="6.18" height="2.97" fill="rgb(79,8,15)"/>
<rect x="497.13" y="79.91" width="6.18" height="2.97" fill="rgb(63,5,11)"/>
<rect x="497.13" y="76.99" width="6.18" height="2.97" fill="rgb(59,4,10)"/>
<rect x="497.13" y="74.06" width="6.18" height="2.97" fill="rgb(80,8,15)"/>
<rect x="497.13" y="71.14" width="6.18" height="2.97" fill="rgb(86,9,16)"/>
<rect x="497.13" y="68.21" width="6.18" height="2.97" fill="rgb(71,6,13)"/>
<rect x="497.13" y="65.29" width="6.18" height="2.97" fill="rgb(86,9,16)"/>
<rect x="497.13" y="62.36" width="6.18" height="2.97" fill="rgb(58,4,10)"/>
<rect x="497.13" y="59.44" width="6.18" height="2.97" fill="rgb(94,10,18)"/>
<rect x="497.13" y="56.51" width="6.18" height="2.97" fill="rgb(58,4,10)"/>
<rect x="497.13" y="53.59" width="6.18" height="2.97" fill="rgb(89,9,16)"/>
<rect x="497.13" y="50.66" width="6.18" height="2.97" fill="rgb(116,13,21)"/>
<rect x="497.13" y="47.74" width="6.18" height="2.97" fill="rgb(130,15,23)"/>
<rect x="497.13" y="44.81" width="6.18" height="2.97" fill="rgb(152,18,26)"/>
<rect x="497.13" y="41.89" width="6.18" height="2.97" fill="rgb(58,4,10)"/>
<rect x="497.13" y="38.96" width="6.18" height="2.97" fill="rgb(118,14,22)"/>
<rect x="497.13" y="36.04" width="6.18" height="2.97" fill="rgb(134,16,24)"/>
<rect x="497.13" y="33.11" width="6.18" height="2.97" fill="rgb(126,15,23)"/>
<rect x="497.13" y="30.19" width="6.18" height="2.97" fill="rgb(68,6,12)"/>
<rect x="497.13" y="27.26" width="6.18" height="2.97" fill="rgb(105,12,20)"/>
<rect x="497.13" y="24.34" width="6.18" height="2.97" fill="rgb(157,18,26)"/>
<rect x="497.13" y="21.41" width="6.18" height="2.97" fill="rgb(58,4,10)"/>
<rect x="497.13" y="18.49" width="6.18" height="2.97" fill="rgb(108,12,20)"/>
<rect x="497.13" y="15.56" width="6.18" height="2.97" fill="rgb(130,15,23)"/>
<rect x="497.13" y="12.64" width="6.18" height="2.97" fill="rgb(75,7,14)"/>
<rect x="497.13" y="10.80" width="6.18" height="1.89" fill="rgb(111,13,21)"/>
<rect x="503.27" y="129.64" width="6.18" height="1.71" fill="rgb(64,5,11)"/>
<rect x="503.27" y="126.71" width="6.18" height="2.97" fill="rgb(71,6,13)"/>
<rect x="503.27" y="123.79" width="6.18" height="2.97" fill="rgb(71,6,13)"/>
<rect x="503.27" y="120.86" width="6.18" height="2.97" fill="rgb(99,11,19)"/>
<rect x="503.27" y="117.94" width="6.18" height="2.97" fill="rgb(91,10,17)"/>
<rect x="503.27" y="115.01" width="6.18" height="2.97" fill="rgb(125,14,22)"/>
<rect x="503.27" y="112.09" width="6.18" height="2.97" fill="rgb(68,6,12)"/>
<rect x="503.27" y="109.16" width="6.18" height="2.97" fill="rgb(90,9,17)"/>
<rect x="503.27" y="106.24" width="6.18" height="2.97" fill="rgb(125,14,22)"/>
<rect x="503.27" y="103.31" width="6.18" height="2.97" fill="rgb(111,13,21)"/>
<rect x="503.27" y="100.39" width="6.18" height="2.97" fill="rgb(58,4,10)"/>
<rect x="503.27" y="97.46" width="6.18" height="2.97" fill="rgb(114,13,21)"/>
<rect x="503.27" y="94.54" width="6.18" height="2.97" fill="rgb(81,8,15)"/>
<rect x="503.27" y="91.61" width="6.18" height="2.97" fill="rgb(105,12,20)"/>
<rect x="503.27" y="88.69" width="6.18" height="2.97" fill="rgb(102,12,19)"/>
<rect x="503.27" y="85.76" width="6.18" height="2.97" fill="rgb(134,16,24)"/>
<rect x="503.27" y="82.84" width="6.18" height="2.97" fill="rgb(97,11,18)"/>
<rect x="503.27" y="79.91" width="6.18" height="2.97" fill="rgb(58,4,10)"/>
<rect x="503.27" y="76.99" width="6.18" height="2.97" fill="rgb(58,4,10)"/>
<rect x="503.27" y="74.06" width="6.18" height="2.97" fill="rgb(117,13,21)"/>
<rect x="503.27" y="71.14" width="6.18" height="2.97" fill="rgb(87,9,16)"/>
<rect x="503.27" y="68.21" width="6.18" height="2.97" fill="rgb(131,15,23)"/>
<rect x="503.27" y="65.29" width="6.18" height="2.97" fill="rgb(101,11,19)"/>
<rect x="503.27" y="62.36" width="6.18" height="2.97" fill="rgb(73,7,13)"/>
<rect x="503.27" y="59.44" width="6.18" height="2.97" fill="rgb(129,15,23)"/>
<rect x="503.27" y="56.51" width="6.18" height="2.97" fill="rgb(72,6,13)"/>
<rect x="503.27" y="53.59" width="6.18" height="2.97" fill="rgb(58,4,10)"/>
<rect x="503.27" y="50.66" width="6.18" height="2.97" fill="rgb(164,19,27)"/>
<rect x="503.27" y="47.74" width="6.18" height="2.97" fill="rgb(58,4,10)"/>
<rect x="503.27" y="44.81" width="6.18" height="2.97" fill="rgb(113,13,21)"/>
<rect x="503.27" y="41.89" width="6.18" height="2.97" fill="rgb(124,14,22)"/>
<rect x="503.27" y="38.96" width="6.18" height="2.97" fill="rgb(98,11,19)"/>
<rect x="503.27" y="36.04" width="6.18" height="2.97" fill="rgb(58,4,10)"/>
<rect x="503.27" y="33.11" width="6.18" height="2.97" fill="rgb(127,15,23)"/>
<rect x="503.27" y="30.19" width="6.18" height="2.97" fill="rgb(58,4,10)"/>
<rect x="503.27" y="27.26" width="6.18" height="2.97" fill="rgb(58,4,10)"/>
<rect x="503.27" y="24.34" width="6.18" height="2.97" fill="rgb(84,8,16)"/>
<rect x="503.27" y="21.41" width="6.18" height="2.97" fill="rgb(119,14,22)"/>
<rect x="503.27" y="18.49" width="6.18" height="2.97" fill="rgb(102,12,19)"/>
<rect x="503.27" y="15.56" width="6.18" height="2.97" fill="rgb(120,14,22)"/>
<rect x="503.27" y="12.64" width="6.18" height="2.97" fill="rgb(82,8,15)"/>
<rect x="503.27" y="10.80" width="6.18" height="1.89" fill="rgb(89,9,17)"/>
<rect x="509.40" y="129.64" width="6.18" height="1.71" fill="rgb(62,5,11)"/>
<rect x="509.40" y="126.71" width="6.18" height="2.97" fill="rgb(85,9,16)"/>
<rect x="509.40" y="123.79" width="6.18" height="2.97" fill="rgb(112,13,21)"/>
<rect x="509.40" y="120.86" width="6.18" height="2.97" fill="rgb(86,9,16)"/>
<rect x="509.40" y="117.94" width="6.18" height="2.97" fill="rgb(108,12,20)"/>
<rect x="509.40" y="115.01" width="6.18" height="2.97" fill="rgb(78,7,14)"/>
<rect x="509.40" y="112.09" width="6.18" height="2.97" fill="rgb(77,7,14)"/>
<rect x="509.40" y="109.16" width="6.18" height="2.97" fill="rgb(95,10,18)"/>
<rect x="509.40" y="106.24" width="6.18" height="2.97" fill="rgb(88,9,16)"/>
<rect x="509.40" y="103.31" width="6.18" height="2.97" fill="rgb(112,13,21)"/>
<rect x="509.40" y="100.39" width="6.18" height="2.97" fill="rgb(99,11,19)"/>
<rect x="509.40" y="97.46" width="6.18" height="2.97" fill="rgb(152,18,26)"/>
<rect x="509.40" y="94.54" width="6.18" height="2.97" fill="rgb(88,9,16)"/>
<rect x="509.40" y="91.61" width="6.18" height="2.97" fill="rgb(88,9,16)"/>
<rect x="509.40" y="88.69" width="6.18" height="2.97" fill="rgb(65,5,11)"/>
<rect x="509.40" y="85.76" width="6.18" height="2.97" fill="rgb(95,10,18)"/>
<rect x="509.40" y="82.84" width="6.18" height="2.97" fill="rgb(115,13,21)"/>
<rect x="509.40" y="79.91" width="6.18" height="2.97" fill="rgb(73,7,13)"/>
<rect x="509.40" y="76.99" width="6.18" height="2.97" fill="rgb(93,10,17)"/>
<rect x="509.40" y="74.06" width="6.18" height="2.97" fill="rgb(116,13,21)"/>
<rect x="509.40" y="71.14" width="6.18" height="2.97" fill="rgb(90,10,17)"/>
<rect x="509.40" y="68.21" width="6.18" height="2.97" fill="rgb(80,8,15)"/>
<rect x="509.40" y="65.29" width="6.18" height="2.97" fill="rgb(125,14,22)"/>
<rect x="509.40" y="62.36" width="6.18" height="2.97" fill="rgb(97,11,18)"/>
<rect x="509.40" y="59.44" width="6.18" height="2.97" fill="rgb(105,12,20)"/>
<rect x="509.40" y="56.51" width="6.18" height="2.97" fill="rgb(132,15,23)"/>
<rect x="509.40" y="53.59" width="6.18" height="2.97" fill="rgb(131,15,23)"/>
<rect x="509.40" y="50.66" width="6.18" height="2.97" fill="rgb(84,8,16)"/>
<rect x="509.40" y="47.74" width="6.18" height="2.97" fill="rgb(79,8,15)"/>
<rect x="509.40" y="44.81" width="6.18" height="2.97" fill="rgb(102,11,19)"/>
<rect x="509.40" y="41.89" width="6.18" height="2.97" fill="rgb(90,9,17)"/>
<rect x="509.40" y="38.96" width="6.18" height="2.97" fill="rgb(58,4,10)"/>
<rect x="509.40" y="36.04" width="6.18" height="2.97" fill="rgb(136,16,24)"/>
<rect x="509.40" y="33.11" width="6.18" height="2.97" fill="rgb(94,10,18)"/>
<rect x="509.40" y="30.19" width="6.18" height="2.97" fill="rgb(117,13,21)"/>
<rect x="509.40" y="27.26" width="6.18" height="2.97" fill="rgb(61,5,11)"/>
<rect x="509.40" y="24.34" width="6.18" height="2.97" fill="rgb(136,16,24)"/>
<rect x="509.40" y="21.41" width="6.18" height="2.97" fill="rgb(78,7,14)"/>
<rect x="509.40" y="18.49" width="6.18" height="2.97" fill="rgb(91,10,17)"/>
<rect x="509.40" y="15.56" width="6.18" height="2.97" fill="rgb(58,4,10)"/>
<rect x="509.40" y="12.64" width="6.18" height="2.97" fill="rgb(89,9,17)"/>
<rect x="509.40" y="10.80" width="6.18" height="1.89" fill="rgb(88,9,16)"/>
<rect x="515.53" y="129.64" width="6.18" height="1.71" fill="rgb(89,9,17)"/>
<rect x="515.53" y="126.71" width="6.18" height="2.97" fill="rgb(106,12,20)"/>
<rect x="515.53" y="123.79" width="6.18" height="2.97" fill="rgb(96,10,18)"/>
<rect x="515.53" y="120.86" width="6.18" height="2.97" fill="rgb(125,15,23)"/>
<rect x="515.53" y="117.94" width="6.18" height="2.97" fill="rgb(81,8,15)"/>
<rect x="515.53" y="115.01" width="6.18" height="2.97" fill="rgb(66,5,12)"/>
<rect x="515.53" y="112.09" width="6.18" height="2.97" fill="rgb(93,10,18)"/>
<rect x="515.53" y="109.16" width="6.18" height="2.97" fill="rgb(113,13,21)"/>
<rect x="515.53" y="106.24" width="6.18" height="2.97" fill="rgb(135,16,24)"/>
<rect x="515.53" y="103.31" width="6.18" height="2.97" fill="rgb(120,14,22)"/>
<rect x="515.53" y="100.39" width="6.18" height="2.97" fill="rgb(58,4,10)"/>
<rect x="515.53" y="97.46" width="6.18" height="2.97" fill="rgb(104,12,20)"/>
<rect x="515.53" y="94.54" width="6.18" height="2.97" fill="rgb(143,17,25)"/>
<rect x="515.53" y="91.61" width="6.18" height="2.97" fill="rgb(96,10,18)"/>
<rect x="515.53" y="88.69" width="6.18" height="2.97" fill="rgb(80,8,15)"/>
<rect x="515.53" y="85.76" width="6.18" height="2.97" fill="rgb(102,12,19)"/>
<rect x="515.53" y="82.84" width="6.18" height="2.97" fill="rgb(80,8,15)"/>
<rect x="515.53" y="79.91" width="6.18" height="2.97" fill="rgb(113,13,21)"/>
<rect x="515.53" y="76.99" width="6.18" height="2.97" fill="rgb(94,10,18)"/>
<rect x="515.53" y="74.06" width="6.18" height="2.97" fill="rgb(140,16,24)"/>
<rect x="515.53" y="71.14" width="6.18" height="2.97" fill="rgb(109,12,20)"/>
<rect x="515.53" y="68.21" width="6.18" height="2.97" fill="rgb(74,7,13)"/>
<rect x="515.53" y="65.29" width="6.18" height="2.97" fill="rgb(112,13,21)"/>
<rect x="515.53" y="62.36" width="6.18" height="2.97" fill="rgb(124,14,22)"/>
<rect x="515.53" y="59.44" width="6.18" height="2.97" fill="rgb(78,7,14)"/>
<rect x="515.53" y="56.51" width="6.18" height="2.97" fill="rgb(82,8,15)"/>
<rect x="515.53" y="53.59" width="6.18" height="2.97" fill="rgb(58,4,10)"/>
<rect x="515.53" y="50.66" width="6.18" height="2.97" fill="rgb(123,14,22)"/>
<rect x="515.53" y="47.74" width="6.18" height="2.97" fill="rgb(78,7,14)"/>
<rect x="515.53" y="44.81" width="6.18" height="2.97" fill="rgb(58,4,10)"/>
<rect x="515.53" y="41.89" width="6.18" height="2.97" fill="rgb(58,4,10)"/>
<rect x="515.53" y="38.96" width="6.18" height="2.97" fill="rgb(88,9,16)"/>
<rect x="515.53" y="36.04" width="6.18" height="2.97" fill="rgb(118,14,22)"/>
<rect x="515.53" y="33.11" width="6.18" height="2.97" fill="rgb(91,10,17)"/>
<rect x="515.53" y="30.19" width="6.18" height="2.97" fill="rgb(108,12,20)"/>
<rect x="515.53" y="27.26" width="6.18" height="2.97" fill="rgb(63,5,11)"/>
<rect x="515.53" y="24.34" width="6.18" height="2.97" fill="rgb(58,4,10)"/>
<rect x="515.53" y="21.41" width="6.18" height="2.97" fill="rgb(122,14,22)"/>
<rect x="515.53" y="18.49" width="6.18" height="2.97" fill="rgb(108,12,20)"/>
<rect x="515.53" y="15.56" width="6.18" height="2.97" fill="rgb(93,10,17)"/>
<rect x="515.53" y="12.64" width="6.18" height="2.97" fill="rgb(136,16,24)"/>
<rect x="515.53" y="10.80" width="6.18" height="1.89" fill="rgb(68,6,12)"/>
<rect x="521.67" y="129.64" width="6.18" height="1.71" fill="rgb(82,8,15)"/>
<rect x="521.67" y="126.71" width="6.18" height="2.97" fill="rgb(127,15,23)"/>
<rect x="521.67" y="123.79" width="6.18" height="2.97" fill="rgb(156,18,26)"/>
<rect x="521.67" y="120.86" width="6.18" height="2.97" fill="rgb(94,10,18)"/>
<rect x="521.67" y="117.94" width="6.18" height="2.97" fill="rgb(150,18,26)"/>
<rect x="521.67" y="115.01" width="6.18" height="2.97" fill="rgb(77,7,14)"/>
<rect x="521.67" y="112.09" width="6.18" height="2.97" fill="rgb(103,12,20)"/>
<rect x="521.67" y="109.16" width="6.18" height="2.97" fill="rgb(89,9,17)"/>
<rect x="521.67" y="106.24" width="6.18" height="2.97" fill="rgb(58,4,10)"/>
<rect x="521.67" y="103.31" width="6.18" height="2.97" fill="rgb(101,11,19)"/>
<rect x="521.67" y="100.39" width="6.18" height="2.97" fill="rgb(124,14,22)"/>
<rect x="521.67" y="97.46" width="6.18" height="2.97" fill="rgb(90,9,17)"/>
<rect x="521.67" y="94.54" width="6.18" height="2.97" fill="rgb(92,10,17)"/>
<rect x="521.67" y="91.61" width="6.18" height="2.97" fill="rgb(140,16,24)"/>
<rect x="521.67" y="88.69" width="6.18" height="2.97" fill="rgb(59,4,10)"/>
<rect x="521.67" y="85.76" width="6.18" height="2.97" fill="rgb(58,4,10)"/>
<rect x="521.67" y="82.84" width="6.18" height="2.97" fill="rgb(76,7,14)"/>
<rect x="521.67" y="79.91" width="6.18" height="2.97" fill="rgb(61,4,11)"/>
<rect x="521.67" y="76.99" width="6.18" height="2.97" fill="rgb(139,16,24)"/>
<rect x="521.67" y="74.06" width="6.18" height="2.97" fill="rgb(102,12,19)"/>
<rect x="521.67" y="71.14" width="6.18" height="2.97" fill="rgb(70,6,13)"/>
<rect x="521.67" y="68.21" width="6.18" height="2.97" fill="rgb(77,7,14)"/>
<rect x="521.67" y="65.29" width="6.18" height="2.97" fill="rgb(199,26,30)"/>
<rect x="521.67" y="62.36" width="6.18" height="2.97" fill="rgb(77,7,14)"/>
<rect x="521.67" y="59.44" width="6.18" height="2.97" fill="rgb(73,7,13)"/>
<rect x="521.67" y="56.51" width="6.18" height="2.97" fill="rgb(102,12,19)"/>
<rect x="521.67" y="53.59" width="6.18" height="2.97" fill="rgb(216,29,32)"/>
<rect x="521.67" y="50.66" width="6.18" height="2.97" fill="rgb(196,25,30)"/>
<rect x="521.67" y="47.74" width="6.18" height="2.97" fill="rgb(150,18,26)"/>
<rect x="521.67" y="44.81" width="6.18" height="2.97" fill="rgb(141,16,24)"/>
<rect x="521.67" y="41.89" width="6.18" height="2.97" fill="rgb(214,28,31)"/>
<rect x="521.67" y="38.96" width="6.18" height="2.97" fill="rgb(184,23,29)"/>
<rect x="521.67" y="36.04" width="6.18" height="2.97" fill="rgb(124,14,22)"/>
<rect x="521.67" y="33.11" width="6.18" height="2.97" fill="rgb(132,15,23)"/>
<rect x="521.67" y="30.19" width="6.18" height="2.97" fill="rgb(118,14,22)"/>
<rect x="521.67" y="27.26" width="6.18" height="2.97" fill="rgb(87,9,16)"/>
<rect x="521.67" y="24.34" width="6.18" height="2.97" fill="rgb(87,9,16)"/>
<rect x="521.67" y="21.41" width="6.18" height="2.97" fill="rgb(100,11,19)"/>
<rect x="521.67" y="18.49" width="6.18" height="2.97" fill="rgb(75,7,14)"/>
<rect x="521.67" y="15.56" width="6.18" height="2.97" fill="rgb(58,4,10)"/>
<rect x="521.67" y="12.64" width="6.18" height="2.97" fill="rgb(103,12,20)"/>
<rect x="521.67" y="10.80" width="6.18" height="1.89" fill="rgb(58,4,10)"/>
<rect x="527.80" y="129.64" width="6.18" height="1.71" fill="rgb(105,12,20)"/>
<rect x="527.80" y="126.71" width="6.18" height="2.97" fill="rgb(58,4,10)"/>
<rect x="527.80" y="123.79" width="6.18" height="2.97" fill="rgb(91,10,17)"/>
<rect x="527.80" y="120.86" width="6.18" height="2.97" fill="rgb(90,9,17)"/>
<rect x="527.80" y="117.94" width="6.18" height="2.97" fill="rgb(154,18,26)"/>
<rect x="527.80" y="115.01" width="6.18" height="2.97" fill="rgb(64,5,11)"/>
<rect x="527.80" y="112.09" width="6.18" height="2.97" fill="rgb(58,4,10)"/>
<rect x="527.80" y="109.16" width="6.18" height="2.97" fill="rgb(76,7,14)"/>
<rect x="527.80" y="106.24" width="6.18" height="2.97" fill="rgb(63,5,11)"/>
<rect x="527.80" y="103.31" width="6.18" height="2.97" fill="rgb(78,7,14)"/>
<rect x="527.80" y="100.39" width="6.18" height="2.97" fill="rgb(106,12,20)"/>
<rect x="527.80" y="97.46" width="6.18" height="2.97" fill="rgb(118,14,22)"/>
<rect x="527.80" y="94.54" width="6.18" height="2.97" fill="rgb(150,17,25)"/>
<rect x="527.80" y="91.61" width="6.18" height="2.97" fill="rgb(73,7,13)"/>
<rect x="527.80" y="88.69" width="6.18" height="2.97" fill="rgb(189,24,29)"/>
<rect x="527.80" y="85.76" width="6.18" height="2.97" fill="rgb(161,19,27)"/>
<rect x="527.80" y="82.84" width="6.18" height="2.97" fill="rgb(88,9,16)"/>
<rect x="527.80" y="79.91" width="6.18" height="2.97" fill="rgb(58,4,10)"/>
<rect x="527.80" y="76.99" width="6.18" height="2.97" fill="rgb(92,10,17)"/>
<rect x="527.80" y="74.06" width="6.18" height="2.97" fill="rgb(96,10,18)"/>
<rect x="527.80" y="71.14" width="6.18" height="2.97" fill="rgb(58,4,10)"/>
<rect x="527.80" y="68.21" width="6.18" height="2.97" fill="rgb(96,10,18)"/>
<rect x="527.80" y="65.29" width="6.18" height="2.97" fill="rgb(88,9,16)"/>
<rect x="527.80" y="62.36" width="6.18" height="2.97" fill="rgb(72,6,13)"/>
<rect x="527.80" y="59.44" width="6.18" height="2.97" fill="rgb(163,19,27)"/>
<rect x="527.80" y="56.51" width="6.18" height="2.97" fill="rgb(178,22,29)"/>
<rect x="527.80" y="53.59" width="6.18" height="2.97" fill="rgb(224,35,32)"/>
<rect x="527.80" y="50.66" width="6.18" height="2.97" fill="rgb(231,60,31)"/>
<rect x="527.80" y="47.74" width="6.18" height="2.97" fill="rgb(221,30,32)"/>
<rect x="527.80" y="44.81" width="6.18" height="2.97" fill="rgb(215,29,31)"/>
<rect x="527.80" y="41.89" width="6.18" height="2.97" fill="rgb(230,54,31)"/>
<rect x="527.80" y="38.96" width="6.18" height="2.97" fill="rgb(234,70,31)"/>
<rect x="527.80" y="36.04" width="6.18" height="2.97" fill="rgb(223,32,32)"/>
<rect x="527.80" y="33.11" width="6.18" height="2.97" fill="rgb(72,6,13)"/>
<rect x="527.80" y="30.19" width="6.18" height="2.97" fill="rgb(112,13,21)"/>
<rect x="527.80" y="27.26" width="6.18" height="2.97" fill="rgb(58,4,10)"/>
<rect x="527.80" y="24.34" width="6.18" height="2.97" fill="rgb(97,11,18)"/>
<rect x="527.80" y="21.41" width="6.18" height="2.97" fill="rgb(154,18,26)"/>
<rect x="527.80" y="18.49" width="6.18" height="2.97" fill="rgb(93,10,18)"/>
<rect x="527.80" y="15.56" width="6.18" height="2.97" fill="rgb(61,4,11)"/>
<rect x="527.80" y="12.64" width="6.18" height="2.97" fill="rgb(58,4,10)"/>
<rect x="527.80" y="10.80" width="6.18" height="1.89" fill="rgb(132,15,23)"/>
<rect x="533.93" y="129.64" width="6.18" height="1.71" fill="rgb(93,10,18)"/>
<rect x="533.93" y="126.71" width="6.18" height="2.97" fill="rgb(110,13,21)"/>
<rect x="533.93" y="123.79" width="6.18" height="2.97" fill="rgb(124,14,22)"/>
<rect x="533.93" y="120.86" width="6.18" height="2.97" fill="rgb(93,10,17)"/>
<rect x="533.93" y="117.94" width="6.18" height="2.97" fill="rgb(85,9,16)"/>
<rect x="533.93" y="115.01" width="6.18" height="2.97" fill="rgb(68,6,12)"/>
<rect x="533.93" y="112.09" width="6.18" height="2.97" fill="rgb(58,4,10)"/>
<rect x="533.93" y="109.16" width="6.18" height="2.97" fill="rgb(58,4,10)"/>
<rect x="533.93" y="106.24" width="6.18" height="2.97" fill="rgb(92,10,17)"/>
<rect x="533.93" y="103.31" width="6.18" height="2.97" fill="rgb(89,9,17)"/>
<rect x="533.93" y="100.39" width="6.18" height="2.97" fill="rgb(105,12,20)"/>
<rect x="533.93" y="97.46" width="6.18" height="2.97" fill="rgb(90,10,17)"/>
<rect x="533.93" y="94.54" width="6.18" height="2.97" fill="rgb(98,11,19)"/>
<rect x="533.93" y="91.61" width="6.18" height="2.97" fill="rgb(119,14,22)"/>
<rect x="533.93" y="88.69" width="6.18" height="2.97" fill="rgb(69,6,12)"/>
<rect x="533.93" y="85.76" width="6.18" height="2.97" fill="rgb(131,15,23)"/>
<rect x="533.93" y="82.84" width="6.18" height="2.97" fill="rgb(88,9,16)"/>
<rect x="533.93" y="79.91" width="6.18" height="2.97" fill="rgb(177,21,29)"/>
<rect x="533.93" y="76.99" width="6.18" height="2.97" fill="rgb(142,17,25)"/>
<rect x="533.93" y="74.06" width="6.18" height="2.97" fill="rgb(158,19,27)"/>
<rect x="533.93" y="71.14" width="6.18" height="2.97" fill="rgb(203,26,31)"/>
<rect x="533.93" y="68.21" width="6.18" height="2.97" fill="rgb(182,22,29)"/>
<rect x="533.93" y="65.29" width="6.18" height="2.97" fill="rgb(139,16,24)"/>
<rect x="533.93" y="62.36" width="6.18" height="2.97" fill="rgb(169,20,28)"/>
<rect x="533.93" y="59.44" width="6.18" height="2.97" fill="rgb(93,10,18)"/>
<rect x="533.93" y="56.51" width="6.18" height="2.97" fill="rgb(156,18,26)"/>
<rect x="533.93" y="53.59" width="6.18" height="2.97" fill="rgb(230,57,31)"/>
<rect x="533.93" y="50.66" width="6.18" height="2.97" fill="rgb(177,21,29)"/>
<rect x="533.93" y="47.74" width="6.18" height="2.97" fill="rgb(241,97,30)"/>
<rect x="533.93" y="44.81" width="6.18" height="2.97" fill="rgb(219,29,32)"/>
<rect x="533.93" y="41.89" width="6.18" height="2.97" fill="rgb(241,106,31)"/>
<rect x="533.93" y="38.96" width="6.18" height="2.97" fill="rgb(226,44,32)"/>
<rect x="533.93" y="36.04" width="6.18" height="2.97" fill="rgb(238,82,30)"/>
<rect x="533.93" y="33.11" width="6.18" height="2.97" fill="rgb(229,53,31)"/>
<rect x="533.93" y="30.19" width="6.18" height="2.97" fill="rgb(154,18,26)"/>
<rect x="533.93" y="27.26" width="6.18" height="2.97" fill="rgb(84,8,16)"/>
<rect x="533.93" y="24.34" width="6.18" height="2.97" fill="rgb(128,15,23)"/>
<rect x="533.93" y="21.41" width="6.18" height="2.97" fill="rgb(121,14,22)"/>
<rect x="533.93" y="18.49" width="6.18" height="2.97" fill="rgb(84,8,15)"/>
<rect x="533.93" y="15.56" width="6.18" height="2.97" fill="rgb(77,7,14)"/>
<rect x="533.93" y="12.64" width="6.18" height="2.97" fill="rgb(108,12,20)"/>
<rect x="533.93" y="10.80" width="6.18" height="1.89" fill="rgb(58,4,10)"/>
<rect x="540.07" y="129.64" width="6.18" height="1.71" fill="rgb(75,7,14)"/>
<rect x="540.07" y="126.71" width="6.18" height="2.97" fill="rgb(58,4,10)"/>
<rect x="540.07" y="123.79" width="6.18" height="2.97" fill="rgb(102,12,19)"/>
<rect x="540.07" y="120.86" width="6.18" height="2.97" fill="rgb(73,7,13)"/>
<rect x="540.07" y="117.94" width="6.18" height="2.97" fill="rgb(63,5,11)"/>
<rect x="540.07" y="115.01" width="6.18" height="2.97" fill="rgb(128,15,23)"/>
<rect x="540.07" y="112.09" width="6.18" height="2.97" fill="rgb(92,10,17)"/>
<rect x="540.07" y="109.16" width="6.18" height="2.97" fill="rgb(140,16,24)"/>
<rect x="540.07" y="106.24" width="6.18" height="2.97" fill="rgb(117,13,21)"/>
<rect x="540.07" y="103.31" width="6.18" height="2.97" fill="rgb(127,15,23)"/>
<rect x="540.07" y="100.39" width="6.18" height="2.97" fill="rgb(115,13,21)"/>
<rect x="540.07" y="97.46" width="6.18" height="2.97" fill="rgb(174,21,28)"/>
<rect x="540.07" y="94.54" width="6.18" height="2.97" fill="rgb(137,16,24)"/>
<rect x="540.07" y="91.61" width="6.18" height="2.97" fill="rgb(159,19,27)"/>
<rect x="540.07" y="88.69" width="6.18" height="2.97" fill="rgb(158,19,27)"/>
<rect x="540.07" y="85.76" width="6.18" height="2.97" fill="rgb(112,13,21)"/>
<rect x="540.07" y="82.84" width="6.18" height="2.97" fill="rgb(161,19,27)"/>
<rect x="540.07" y="79.91" width="6.18" height="2.97" fill="rgb(153,18,26)"/>
<rect x="540.07" y="76.99" width="6.18" height="2.97" fill="rgb(152,18,26)"/>
<rect x="540.07" y="74.06" width="6.18" height="2.97" fill="rgb(127,15,23)"/>
<rect x="540.07" y="71.14" width="6.18" height="2.97" fill="rgb(126,15,23)"/>
<rect x="540.07" y="68.21" width="6.18" height="2.97" fill="rgb(233,66,31)"/>
<rect x="540.07" y="65.29" width="6.18" height="2.97" fill="rgb(242,121,31)"/>
<rect x="540.07" y="62.36" width="6.18" height="2.97" fill="rgb(210,28,31)"/>
<rect x="540.07" y="59.44" width="6.18" height="2.97" fill="rgb(240,87,30)"/>
<rect x="540.07" y="56.51" width="6.18" height="2.97" fill="rgb(238,81,30)"/>
<rect x="540.07" y="53.59" width="6.18" height="2.97" fill="rgb(245,157,32)"/>
<rect x="540.07" y="50.66" width="6.18" height="2.97" fill="rgb(245,177,33)"/>
<rect x="540.07" y="47.74" width="6.18" height="2.97" fill="rgb(246,213,40)"/>
<rect x="540.07" y="44.81" width="6.18" height="2.97" fill="rgb(236,74,30)"/>
<rect x="540.07" y="41.89" width="6.18" height="2.97" fill="rgb(242,115,31)"/>
<rect x="540.07" y="38.96" width="6.18" height="2.97" fill="rgb(231,60,31)"/>
<rect x="540.07" y="36.04" width="6.18" height="2.97" fill="rgb(233,67,31)"/>
<rect x="540.07" y="33.11" width="6.18" height="2.97" fill="rgb(180,22,29)"/>
<rect x="540.07" y="30.19" width="6.18" height="2.97" fill="rgb(182,22,29)"/>
<rect x="540.07" y="27.26" width="6.18" height="2.97" fill="rgb(157,18,26)"/>
<rect x="540.07" y="24.34" width="6.18" height="2.97" fill="rgb(209,27,31)"/>
<rect x="540.07" y="21.41" width="6.18" height="2.97" fill="rgb(58,4,10)"/>
<rect x="540.07" y="18.49" width="6.18" height="2.97" fill="rgb(85,9,16)"/>
<rect x="540.07" y="15.56" width="6.18" height="2.97" fill="rgb(103,12,19)"/>
<rect x="540.07" y="12.64" width="6.18" height="2.97" fill="rgb(94,10,18)"/>
<rect x="540.07" y="10.80" width="6.18" height="1.89" fill="rgb(84,8,16)"/>
<rect x="546.20" y="129.64" width="6.18" height="1.71" fill="rgb(58,4,10)"/>
<rect x="546.20" y="126.71" width="6.18" height="2.97" fill="rgb(68,6,12)"/>
<rect x="546.20" y="123.79" width="6.18" height="2.97" fill="rgb(117,13,21)"/>
<rect x="546.20" y="120.86" width="6.18" height="2.97" fill="rgb(129,15,23)"/>
<rect x="546.20" y="117.94" width="6.18" height="2.97" fill="rgb(144,17,25)"/>
<rect x="546.20" y="115.01" width="6.18" height="2.97" fill="rgb(111,13,21)"/>
<rect x="546.20" y="112.09" width="6.18" height="2.97" fill="rgb(144,17,25)"/>
<rect x="546.20" y="109.16" width="6.18" height="2.97" fill="rgb(132,15,23)"/>
<rect x="546.20" y="106.24" width="6.18" height="2.97" fill="rgb(160,19,27)"/>
<rect x="546.20" y="103.31" width="6.18" height="2.97" fill="rgb(145,17,25)"/>
<rect x="546.20" y="100.39" width="6.18" height="2.97" fill="rgb(119,14,22)"/>
<rect x="546.20" y="97.46" width="6.18" height="2.97" fill="rgb(225,41,32)"/>
<rect x="546.20" y="94.54" width="6.18" height="2.97" fill="rgb(173,21,28)"/>
<rect x="546.20" y="91.61" width="6.18" height="2.97" fill="rgb(234,68,31)"/>
<rect x="546.20" y="88.69" width="6.18" height="2.97" fill="rgb(239,84,30)"/>
<rect x="546.20" y="85.76" width="6.18" height="2.97" fill="rgb(182,22,29)"/>
<rect x="546.20" y="82.84" width="6.18" height="2.97" fill="rgb(232,61,31)"/>
<rect x="546.20" y="79.91" width="6.18" height="2.97" fill="rgb(199,26,30)"/>
<rect x="546.20" y="76.99" width="6.18" height="2.97" fill="rgb(240,91,30)"/>
<rect x="546.20" y="74.06" width="6.18" height="2.97" fill="rgb(240,88,30)"/>
<rect x="546.20" y="71.14" width="6.18" height="2.97" fill="rgb(228,50,31)"/>
<rect x="546.20" y="68.21" width="6.18" height="2.97" fill="rgb(241,98,30)"/>
<rect x="546.20" y="65.29" width="6.18" height="2.97" fill="rgb(229,51,31)"/>
<rect x="546.20" y="62.36" width="6.18" height="2.97" fill="rgb(230,55,31)"/>
<rect x="546.20" y="59.44" width="6.18" height="2.97" fill="rgb(237,80,30)"/>
<rect x="546.20" y="56.51" width="6.18" height="2.97" fill="rgb(243,133,31)"/>
<rect x="546.20" y="53.59" width="6.18" height="2.97" fill="rgb(245,174,33)"/>
<rect x="546.20" y="50.66" width="6.18" height="2.97" fill="rgb(247,223,71)"/>
<rect x="546.20" y="47.74" width="6.18" height="2.97" fill="rgb(247,223,72)"/>
<rect x="546.20" y="44.81" width="6.18" height="2.97" fill="rgb(248,240,125)"/>
<rect x="546.20" y="41.89" width="6.18" height="2.97" fill="rgb(246,219,57)"/>
<rect x="546.20" y="38.96" width="6.18" height="2.97" fill="rgb(242,116,31)"/>
<rect x="546.20" y="36.04" width="6.18" height="2.97" fill="rgb(226,44,32)"/>
<rect x="546.20" y="33.11" width="6.18" height="2.97" fill="rgb(235,71,31)"/>
<rect x="546.20" y="30.19" width="6.18" height="2.97" fill="rgb(239,83,30)"/>
<rect x="546.20" y="27.26" width="6.18" height="2.97" fill="rgb(127,15,23)"/>
<rect x="546.20" y="24.34" width="6.18" height="2.97" fill="rgb(91,10,17)"/>
<rect x="546.20" y="21.41" width="6.18" height="2.97" fill="rgb(101,11,19)"/>
<rect x="546.20" y="18.49" width="6.18" height="2.97" fill="rgb(145,17,25)"/>
<rect x="546.20" y="15.56" width="6.18" height="2.97" fill="rgb(58,4,10)"/>
<rect x="546.20" y="12.64" width="6.18" height="2.97" fill="rgb(108,12,20)"/>
<rect x="546.20" y="10.80" width="6.18" height="1.89" fill="rgb(85,9,16)"/>
<rect x="552.33" y="129.64" width="6.18" height="1.71" fill="rgb(70,6,13)"/>
<rect x="552.33" y="126.71" width="6.18" height="2.97" fill="rgb(108,12,20)"/>
<rect x="552.33" y="123.79" width="6.18" height="2.97" fill="rgb(58,4,10)"/>
<rect x="552.33" y="120.86" width="6.18" height="2.97" fill="rgb(102,12,19)"/>
<rect x="552.33" y="117.94" width="6.18" height="2.97" fill="rgb(240,89,30)"/>
<rect x="552.33" y="115.01" width="6.18" height="2.97" fill="rgb(229,51,31)"/>
<rect x="552.33" y="112.09" width="6.18" height="2.97" fill="rgb(201,26,30)"/>
<rect x="552.33" y="109.16" width="6.18" height="2.97" fill="rgb(160,19,27)"/>
<rect x="552.33" y="106.24" width="6.18" height="2.97" fill="rgb(182,22,29)"/>
<rect x="552.33" y="103.31" width="6.18" height="2.97" fill="rgb(161,19,27)"/>
<rect x="552.33" y="100.39" width="6.18" height="2.97" fill="rgb(241,109,31)"/>
<rect x="552.33" y="97.46" width="6.18" height="2.97" fill="rgb(226,44,32)"/>
<rect x="552.33" y="94.54" width="6.18" height="2.97" fill="rgb(205,27,31)"/>
<rect x="552.33" y="91.61" width="6.18" height="2.97" fill="rgb(196,25,30)"/>
<rect x="552.33" y="88.69" width="6.18" height="2.97" fill="rgb(211,28,31)"/>
<rect x="552.33" y="85.76" width="6.18" height="2.97" fill="rgb(229,52,31)"/>
<rect x="552.33" y="82.84" width="6.18" height="2.97" fill="rgb(210,28,31)"/>
<rect x="552.33" y="79.91" width="6.18" height="2.97" fill="rgb(243,132,31)"/>
<rect x="552.33" y="76.99" width="6.18" height="2.97" fill="rgb(228,48,31)"/>
<rect x="552.33" y="74.06" width="6.18" height="2.97" fill="rgb(228,51,31)"/>
<rect x="552.33" y="71.14" width="6.18" height="2.97" fill="rgb(240,94,30)"/>
<rect x="552.33" y="68.21" width="6.18" height="2.97" fill="rgb(243,138,31)"/>
<rect x="552.33" y="65.29" width="6.18" height="2.97" fill="rgb(244,139,31)"/>
<rect x="552.33" y="62.36" width="6.18" height="2.97" fill="rgb(239,86,30)"/>
<rect x="552.33" y="59.44" width="6.18" height="2.97" fill="rgb(243,138,31)"/>
<rect x="552.33" y="56.51" width="6.18" height="2.97" fill="rgb(245,177,33)"/>
<rect x="552.33" y="53.59" width="6.18" height="2.97" fill="rgb(247,228,86)"/>
<rect x="552.33" y="50.66" width="6.18" height="2.97" fill="rgb(250,244,160)"/>
<rect x="552.33" y="47.74" width="6.18" height="2.97" fill="rgb(249,242,144)"/>
<rect x="552.33" y="44.81" width="6.18" height="2.97" fill="rgb(248,233,104)"/>
<rect x="552.33" y="41.89" width="6.18" height="2.97" fill="rgb(247,225,78)"/>
<rect x="552.33" y="38.96" width="6.18" height="2.97" fill="rgb(242,122,31)"/>
<rect x="552.33" y="36.04" width="6.18" height="2.97" fill="rgb(245,167,33)"/>
<rect x="552.33" y="33.11" width="6.18" height="2.97" fill="rgb(241,102,30)"/>
<rect x="552.33" y="30.19" width="6.18" height="2.97" fill="rgb(212,28,31)"/>
<rect x="552.33" y="27.26" width="6.18" height="2.97" fill="rgb(228,49,31)"/>
<rect x="552.33" y="24.34" width="6.18" height="2.97" fill="rgb(115,13,21)"/>
<rect x="552.33" y="21.41" width="6.18" height="2.97" fill="rgb(128,15,23)"/>
<rect x="552.33" y="18.49" width="6.18" height="2.97" fill="rgb(124,14,22)"/>
<rect x="552.33" y="15.56" width="6.18" height="2.97" fill="rgb(58,4,10)"/>
<rect x="552.33" y="12.64" width="6.18" height="2.97" fill="rgb(58,4,10)"/>
<rect x="552.33" y="10.80" width="6.18" height="1.89" fill="rgb(103,12,20)"/>
<rect x="558.47" y="129.64" width="6.18" height="1.71" fill="rgb(89,9,17)"/>
<rect x="558.47" y="126.71" width="6.18" height="2.97" fill="rgb(98,11,19)"/>
<rect x="558.47" y="123.79" width="6.18" height="2.97" fill="rgb(107,12,20)"/>
<rect x="558.47" y="120.86" width="6.18" height="2.97" fill="rgb(89,9,17)"/>
<rect x="558.47" y="117.94" width="6.18" height="2.97" fill="rgb(241,96,30)"/>
<rect x="558.47" y="115.01" width="6.18" height="2.97" fill="rgb(227,47,31)"/>
<rect x="558.47" y="112.09" width="6.18" height="2.97" fill="rgb(237,78,30)"/>
<rect x="558.47" y="109.16" width="6.18" height="2.97" fill="rgb(224,37,32)"/>
<rect x="558.47" y="106.24" width="6.18" height="2.97" fill="rgb(215,29,31)"/>
<rect x="558.47" y="103.31" width="6.18" height="2.97" fill="rgb(240,90,30)"/>
<rect x="558.47" y="100.39" width="6.18" height="2.97" fill="rgb(240,90,30)"/>
<rect x="558.47" y="97.46" width="6.18" height="2.97" fill="rgb(183,23,29)"/>
<rect x="558.47" y="94.54" width="6.18" height="2.97" fill="rgb(223,33,32)"/>
<rect x="558.47" y="91.61" width="6.18" height="2.97" fill="rgb(240,87,30)"/>
<rect x="558.47" y="88.69" width="6.18" height="2.97" fill="rgb(242,119,31)"/>
<rect x="558.47" y="85.76" width="6.18" height="2.97" fill="rgb(231,60,31)"/>
<rect x="558.47" y="82.84" width="6.18" height="2.97" fill="rgb(238,82,30)"/>
<rect x="558.47" y="79.91" width="6.18" height="2.97" fill="rgb(226,43,32)"/>
<rect x="558.47" y="76.99" width="6.18" height="2.97" fill="rgb(246,186,34)"/>
<rect x="558.47" y="74.06" width="6.18" height="2.97" fill="rgb(242,120,31)"/>
<rect x="558.47" y="71.14" width="6.18" height="2.97" fill="rgb(244,139,31)"/>
<rect x="558.47" y="68.21" width="6.18" height="2.97" fill="rgb(243,133,31)"/>
<rect x="558.47" y="65.29" width="6.18" height="2.97" fill="rgb(244,148,32)"/>
<rect x="558.47" y="62.36" width="6.18" height="2.97" fill="rgb(244,148,32)"/>
<rect x="558.47" y="59.44" width="6.18" height="2.97" fill="rgb(243,138,31)"/>
<rect x="558.47" y="56.51" width="6.18" height="2.97" fill="rgb(246,213,40)"/>
<rect x="558.47" y="53.59" width="6.18" height="2.97" fill="rgb(247,229,90)"/>
<rect x="558.47" y="50.66" width="6.18" height="2.97" fill="rgb(255,255,245)"/>
<rect x="558.47" y="47.74" width="6.18" height="2.97" fill="rgb(252,248,187)"/>
<rect x="558.47" y="44.81" width="6.18" height="2.97" fill="rgb(251,246,173)"/>
<rect x="558.47" y="41.89" width="6.18" height="2.97" fill="rgb(248,240,124)"/>
<rect x="558.47" y="38.96" width="6.18" height="2.97" fill="rgb(246,214,43)"/>
<rect x="558.47" y="36.04" width="6.18" height="2.97" fill="rgb(243,131,31)"/>
<rect x="558.47" y="33.11" width="6.18" height="2.97" fill="rgb(237,79,30)"/>
<rect x="558.47" y="30.19" width="6.18" height="2.97" fill="rgb(230,56,31)"/>
<rect x="558.47" y="27.26" width="6.18" height="2.97" fill="rgb(225,40,32)"/>
<rect x="558.47" y="24.34" width="6.18" height="2.97" fill="rgb(209,27,31)"/>
<rect x="558.47" y="21.41" width="6.18" height="2.97" fill="rgb(164,19,27)"/>
<rect x="558.47" y="18.49" width="6.18" height="2.97" fill="rgb(136,16,24)"/>
<rect x="558.47" y="15.56" width="6.18" height="2.97" fill="rgb(102,12,19)"/>
<rect x="558.47" y="12.64" width="6.18" height="2.97" fill="rgb(79,7,14)"/>
<rect x="558.47" y="10.80" width="6.18" height="1.89" fill="rgb(132,15,23)"/>
<rect x="564.60" y="129.64" width="6.18" height="1.71" fill="rgb(149,17,25)"/>
<rect x="564.60" y="126.71" width="6.18" height="2.97" fill="rgb(111,13,21)"/>
<rect x="564.60" y="123.79" width="6.18" height="2.97" fill="rgb(93,10,17)"/>
<rect x="564.60" y="120.86" width="6.18" height="2.97" fill="rgb(129,15,23)"/>
<rect x="564.60" y="117.94" width="6.18" height="2.97" fill="rgb(240,90,30)"/>
<rect x="564.60" y="115.01" width="6.18" height="2.97" fill="rgb(245,161,32)"/>
<rect x="564.60" y="112.09" width="6.18" height="2.97" fill="rgb(241,95,30)"/>
<rect x="564.60" y="109.16" width="6.18" height="2.97" fill="rgb(231,58,31)"/>
<rect x="564.60" y="106.24" width="6.18" height="2.97" fill="rgb(241,105,30)"/>
<rect x="564.60" y="103.31" width="6.18" height="2.97" fill="rgb(241,98,30)"/>
<rect x="564.60" y="100.39" width="6.18" height="2.97" fill="rgb(245,156,32)"/>
<rect x="564.60" y="97.46" width="6.18" height="2.97" fill="rgb(238,80,30)"/>
<rect x="564.60" y="94.54" width="6.18" height="2.97" fill="rgb(240,94,30)"/>
<rect x="564.60" y="91.61" width="6.18" height="2.97" fill="rgb(230,55,31)"/>
<rect x="564.60" y="88.69" width="6.18" height="2.97" fill="rgb(223,32,32)"/>
<rect x="564.60" y="85.76" width="6.18" height="2.97" fill="rgb(225,40,32)"/>
<rect x="564.60" y="82.84" width="6.18" height="2.97" fill="rgb(243,127,31)"/>
<rect x="564.60" y="79.91" width="6.18" height="2.97" fill="rgb(236,74,30)"/>
<rect x="564.60" y="76.99" width="6.18" height="2.97" fill="rgb(245,162,32)"/>
<rect x="564.60" y="74.06" width="6.18" height="2.97" fill="rgb(245,176,33)"/>
<rect x="564.60" y="71.14" width="6.18" height="2.97" fill="rgb(242,116,31)"/>
<rect x="564.60" y="68.21" width="6.18" height="2.97" fill="rgb(245,181,34)"/>
<rect x="564.60" y="65.29" width="6.18" height="2.97" fill="rgb(243,131,31)"/>
<rect x="564.60" y="62.36" width="6.18" height="2.97" fill="rgb(245,167,33)"/>
<rect x="564.60" y="59.44" width="6.18" height="2.97" fill="rgb(243,135,31)"/>
<rect x="564.60" y="56.51" width="6.18" height="2.97" fill="rgb(246,204,35)"/>
<rect x="564.60" y="53.59" width="6.18" height="2.97" fill="rgb(245,182,34)"/>
<rect x="564.60" y="50.66" width="6.18" height="2.97" fill="rgb(249,241,134)"/>
<rect x="564.60" y="47.74" width="6.18" height="2.97" fill="rgb(248,236,111)"/>
<rect x="564.60" y="44.81" width="6.18" height="2.97" fill="rgb(248,234,106)"/>
<rect x="564.60" y="41.89" width="6.18" height="2.97" fill="rgb(246,219,58)"/>
<rect x="564.60" y="38.96" width="6.18" height="2.97" fill="rgb(244,151,32)"/>
<rect x="564.60" y="36.04" width="6.18" height="2.97" fill="rgb(241,101,30)"/>
<rect x="564.60" y="33.11" width="6.18" height="2.97" fill="rgb(242,111,31)"/>
<rect x="564.60" y="30.19" width="6.18" height="2.97" fill="rgb(235,72,31)"/>
<rect x="564.60" y="27.26" width="6.18" height="2.97" fill="rgb(168,20,28)"/>
<rect x="564.60" y="24.34" width="6.18" height="2.97" fill="rgb(152,18,26)"/>
<rect x="564.60" y="21.41" width="6.18" height="2.97" fill="rgb(156,18,26)"/>
<rect x="564.60" y="18.49" width="6.18" height="2.97" fill="rgb(73,7,13)"/>
<rect x="564.60" y="15.56" width="6.18" height="2.97" fill="rgb(105,12,20)"/>
<rect x="564.60" y="12.64" width="6.18" height="2.97" fill="rgb(58,4,10)"/>
<rect x="564.60" y="10.80" width="6.18" height="1.89" fill="rgb(142,17,25)"/>
<rect x="570.73" y="129.64" width="6.18" height="1.71" fill="rgb(87,9,16)"/>
<rect x="570.73" y="126.71" width="6.18" height="2.97" fill="rgb(92,10,17)"/>
<rect x="570.73" y="123.79" width="6.18" height="2.97" fill="rgb(133,15,23)"/>
<rect x="570.73" y="120.86" width="6.18" height="2.97" fill="rgb(90,9,17)"/>
<rect x="570.73" y="117.94" width="6.18" height="2.97" fill="rgb(112,13,21)"/>
<rect x="570.73" y="115.01" width="6.18" height="2.97" fill="rgb(244,144,32)"/>
<rect x="570.73" y="112.09" width="6.18" height="2.97" fill="rgb(244,141,31)"/>
<rect x="570.73" y="109.16" width="6.18" height="2.97" fill="rgb(233,67,31)"/>
<rect x="570.73" y="106.24" width="6.18" height="2.97" fill="rgb(241,96,30)"/>
<rect x="570.73" y="103.31" width="6.18" height="2.97" fill="rgb(244,141,31)"/>
<rect x="570.73" y="100.39" width="6.18" height="2.97" fill="rgb(242,111,31)"/>
<rect x="570.73" y="97.46" width="6.18" height="2.97" fill="rgb(243,133,31)"/>
<rect x="570.73" y="94.54" width="6.18" height="2.97" fill="rgb(232,63,31)"/>
<rect x="570.73" y="91.61" width="6.18" height="2.97" fill="rgb(234,68,31)"/>
<rect x="570.73" y="88.69" width="6.18" height="2.97" fill="rgb(238,83,30)"/>
<rect x="570.73" y="85.76" width="6.18" height="2.97" fill="rgb(242,121,31)"/>
<rect x="570.73" y="82.84" width="6.18" height="2.97" fill="rgb(242,115,31)"/>
<rect x="570.73" y="79.91" width="6.18" height="2.97" fill="rgb(241,102,30)"/>
<rect x="570.73" y="76.99" width="6.18" height="2.97" fill="rgb(243,126,31)"/>
<rect x="570.73" y="74.06" width="6.18" height="2.97" fill="rgb(241,98,30)"/>
<rect x="570.73" y="71.14" width="6.18" height="2.97" fill="rgb(241,101,30)"/>
<rect x="570.73" y="68.21" width="6.18" height="2.97" fill="rgb(244,147,32)"/>
<rect x="570.73" y="65.29" width="6.18" height="2.97" fill="rgb(237,77,30)"/>
<rect x="570.73" y="62.36" width="6.18" height="2.97" fill="rgb(241,107,31)"/>
<rect x="570.73" y="59.44" width="6.18" height="2.97" fill="rgb(245,167,33)"/>
<rect x="570.73" y="56.51" width="6.18" height="2.97" fill="rgb(243,134,31)"/>
<rect x="570.73" y="53.59" width="6.18" height="2.97" fill="rgb(245,183,34)"/>
<rect x="570.73" y="50.66" width="6.18" height="2.97" fill="rgb(245,167,33)"/>
<rect x="570.73" y="47.74" width="6.18" height="2.97" fill="rgb(248,238,118)"/>
<rect x="570.73" y="44.81" width="6.18" height="2.97" fill="rgb(242,113,31)"/>
<rect x="570.73" y="41.89" width="6.18" height="2.97" fill="rgb(242,111,31)"/>
<rect x="570.73" y="38.96" width="6.18" height="2.97" fill="rgb(234,69,31)"/>
<rect x="570.73" y="36.04" width="6.18" height="2.97" fill="rgb(243,137,31)"/>
<rect x="570.73" y="33.11" width="6.18" height="2.97" fill="rgb(237,78,30)"/>
<rect x="570.73" y="30.19" width="6.18" height="2.97" fill="rgb(229,51,31)"/>
<rect x="570.73" y="27.26" width="6.18" height="2.97" fill="rgb(154,18,26)"/>
<rect x="570.73" y="24.34" width="6.18" height="2.97" fill="rgb(223,33,32)"/>
<rect x="570.73" y="21.41" width="6.18" height="2.97" fill="rgb(137,16,24)"/>
<rect x="570.73" y="18.49" width="6.18" height="2.97" fill="rgb(108,12,20)"/>
<rect x="570.73" y="15.56" width="6.18" height="2.97" fill="rgb(58,4,10)"/>
<rect x="570.73" y="12.64" width="6.18" height="2.97" fill="rgb(63,5,11)"/>
<rect x="570.73" y="10.80" width="6.18" height="1.89" fill="rgb(100,11,19)"/>
<rect x="576.87" y="129.64" width="6.18" height="1.71" fill="rgb(103,12,19)"/>
<rect x="576.87" y="126.71" width="6.18" height="2.97" fill="rgb(96,10,18)"/>
<rect x="576.87" y="123.79" width="6.18" height="2.97" fill="rgb(90,9,17)"/>
<rect x="576.87" y="120.86" width="6.18" height="2.97" fill="rgb(58,4,10)"/>
<rect x="576.87" y="117.94" width="6.18" height="2.97" fill="rgb(95,10,18)"/>
<rect x="576.87" y="115.01" width="6.18" height="2.97" fill="rgb(243,126,31)"/>
<rect x="576.87" y="112.09" width="6.18" height="2.97" fill="rgb(244,145,32)"/>
<rect x="576.87" y="109.16" width="6.18" height="2.97" fill="rgb(242,120,31)"/>
<rect x="576.87" y="106.24" width="6.18" height="2.97" fill="rgb(233,64,31)"/>
<rect x="576.87" y="103.31" width="6.18" height="2.97" fill="rgb(228,49,31)"/>
<rect x="576.87" y="100.39" width="6.18" height="2.97" fill="rgb(242,120,31)"/>
<rect x="576.87" y="97.46" width="6.18" height="2.97" fill="rgb(241,95,30)"/>
<rect x="576.87" y="94.54" width="6.18" height="2.97" fill="rgb(231,58,31)"/>
<rect x="576.87" y="91.61" width="6.18" height="2.97" fill="rgb(150,18,26)"/>
<rect x="576.87" y="88.69" width="6.18" height="2.97" fill="rgb(237,78,30)"/>
<rect x="576.87" y="85.76" width="6.18" height="2.97" fill="rgb(241,103,30)"/>
<rect x="576.87" y="82.84" width="6.18" height="2.97" fill="rgb(242,121,31)"/>
<rect x="576.87" y="79.91" width="6.18" height="2.97" fill="rgb(230,56,31)"/>
<rect x="576.87" y="76.99" width="6.18" height="2.97" fill="rgb(230,57,31)"/>
<rect x="576.87" y="74.06" width="6.18" height="2.97" fill="rgb(232,63,31)"/>
<rect x="576.87" y="71.14" width="6.18" height="2.97" fill="rgb(241,108,31)"/>
<rect x="576.87" y="68.21" width="6.18" height="2.97" fill="rgb(223,33,32)"/>
<rect x="576.87" y="65.29" width="6.18" height="2.97" fill="rgb(234,69,31)"/>
<rect x="576.87" y="62.36" width="6.18" height="2.97" fill="rgb(225,40,32)"/>
<rect x="576.87" y="59.44" width="6.18" height="2.97" fill="rgb(240,88,30)"/>
<rect x="576.87" y="56.51" width="6.18" height="2.97" fill="rgb(223,32,32)"/>
<rect x="576.87" y="53.59" width="6.18" height="2.97" fill="rgb(242,117,31)"/>
<rect x="576.87" y="50.66" width="6.18" height="2.97" fill="rgb(241,102,30)"/>
<rect x="576.87" y="47.74" width="6.18" height="2.97" fill="rgb(242,119,31)"/>
<rect x="576.87" y="44.81" width="6.18" height="2.97" fill="rgb(244,139,31)"/>
<rect x="576.87" y="41.89" width="6.18" height="2.97" fill="rgb(243,138,31)"/>
<rect x="576.87" y="38.96" width="6.18" height="2.97" fill="rgb(194,25,30)"/>
<rect x="576.87" y="36.04" width="6.18" height="2.97" fill="rgb(240,90,30)"/>
<rect x="576.87" y="33.11" width="6.18" height="2.97" fill="rgb(233,66,31)"/>
<rect x="576.87" y="30.19" width="6.18" height="2.97" fill="rgb(223,32,32)"/>
<rect x="576.87" y="27.26" width="6.18" height="2.97" fill="rgb(230,55,31)"/>
<rect x="576.87" y="24.34" width="6.18" height="2.97" fill="rgb(194,25,30)"/>
<rect x="576.87" y="21.41" width="6.18" height="2.97" fill="rgb(181,22,29)"/>
<rect x="576.87" y="18.49" width="6.18" height="2.97" fill="rgb(112,13,21)"/>
<rect x="576.87" y="15.56" width="6.18" height="2.97" fill="rgb(70,6,13)"/>
<rect x="576.87" y="12.64" width="6.18" height="2.97" fill="rgb(134,16,24)"/>
<rect x="576.87" y="10.80" width="6.18" height="1.89" fill="rgb(167,20,28)"/>
<rect x="583.00" y="129.64" width="6.18" height="1.71" fill="rgb(113,13,21)"/>
<rect x="583.00" y="126.71" width="6.18" height="2.97" fill="rgb(122,14,22)"/>
<rect x="583.00" y="123.79" width="6.18" height="2.97" fill="rgb(81,8,15)"/>
<rect x="583.00" y="120.86" width="6.18" height="2.97" fill="rgb(58,4,10)"/>
<rect x="583.00" y="117.94" width="6.18" height="2.97" fill="rgb(88,9,16)"/>
<rect x="583.00" y="115.01" width="6.18" height="2.97" fill="rgb(144,17,25)"/>
<rect x="583.00" y="112.09" width="6.18" height="2.97" fill="rgb(220,30,32)"/>
<rect x="583.00" y="109.16" width="6.18" height="2.97" fill="rgb(231,59,31)"/>
<rect x="583.00" y="106.24" width="6.18" height="2.97" fill="rgb(182,22,29)"/>
<rect x="583.00" y="103.31" width="6.18" height="2.97" fill="rgb(235,71,31)"/>
<rect x="583.00" y="100.39" width="6.18" height="2.97" fill="rgb(241,97,30)"/>
<rect x="583.00" y="97.46" width="6.18" height="2.97" fill="rgb(207,27,31)"/>
<rect x="583.00" y="94.54" width="6.18" height="2.97" fill="rgb(228,48,31)"/>
<rect x="583.00" y="91.61" width="6.18" height="2.97" fill="rgb(241,109,31)"/>
<rect x="583.00" y="88.69" width="6.18" height="2.97" fill="rgb(230,57,31)"/>
<rect x="583.00" y="85.76" width="6.18" height="2.97" fill="rgb(202,26,30)"/>
<rect x="583.00" y="82.84" width="6.18" height="2.97" fill="rgb(197,25,30)"/>
<rect x="583.00" y="79.91" width="6.18" height="2.97" fill="rgb(164,19,27)"/>
<rect x="583.00" y="76.99" width="6.18" height="2.97" fill="rgb(239,85,30)"/>
<rect x="583.00" y="74.06" width="6.18" height="2.97" fill="rgb(220,30,32)"/>
<rect x="583.00" y="71.14" width="6.18" height="2.97" fill="rgb(240,92,30)"/>
<rect x="583.00" y="68.21" width="6.18" height="2.97" fill="rgb(238,83,30)"/>
<rect x="583.00" y="65.29" width="6.18" height="2.97" fill="rgb(215,29,31)"/>
<rect x="583.00" y="62.36" width="6.18" height="2.97" fill="rgb(220,30,32)"/>
<rect x="583.00" y="59.44" width="6.18" height="2.97" fill="rgb(237,77,30)"/>
<rect x="583.00" y="56.51" width="6.18" height="2.97" fill="rgb(231,58,31)"/>
<rect x="583.00" y="53.59" width="6.18" height="2.97" fill="rgb(234,69,31)"/>
<rect x="583.00" y="50.66" width="6.18" height="2.97" fill="rgb(190,24,30)"/>
<rect x="583.00" y="47.74" width="6.18" height="2.97" fill="rgb(241,101,30)"/>
<rect x="583.00" y="44.81" width="6.18" height="2.97" fill="rgb(223,33,32)"/>
<rect x="583.00" y="41.89" width="6.18" height="2.97" fill="rgb(58,4,10)"/>
<rect x="583.00" y="38.96" width="6.18" height="2.97" fill="rgb(96,11,18)"/>
<rect x="583.00" y="36.04" width="6.18" height="2.97" fill="rgb(131,15,23)"/>
<rect x="583.00" y="33.11" width="6.18" height="2.97" fill="rgb(196,25,30)"/>
<rect x="583.00" y="30.19" width="6.18" height="2.97" fill="rgb(103,12,20)"/>
<rect x="583.00" y="27.26" width="6.18" height="2.97" fill="rgb(77,7,14)"/>
<rect x="583.00" y="24.34" width="6.18" height="2.97" fill="rgb(166,20,28)"/>
<rect x="583.00" y="21.41" width="6.18" height="2.97" fill="rgb(98,11,19)"/>
<rect x="583.00" y="18.49" width="6.18" height="2.97" fill="rgb(87,9,16)"/>
<rect x="583.00" y="15.56" width="6.18" height="2.97" fill="rgb(64,5,11)"/>
<rect x="583.00" y="12.64" width="6.18" height="2.97" fill="rgb(66,5,12)"/>
<rect x="583.00" y="10.80" width="6.18" height="1.89" fill="rgb(143,17,25)"/>
<rect x="589.13" y="129.64" width="6.18" height="1.71" fill="rgb(86,9,16)"/>
<rect x="589.13" y="126.71" width="6.18" height="2.97" fill="rgb(79,8,14)"/>
<rect x="589.13" y="123.79" width="6.18" height="2.97" fill="rgb(80,8,15)"/>
<rect x="589.13" y="120.86" width="6.18" height="2.97" fill="rgb(146,17,25)"/>
<rect x="589.13" y="117.94" width="6.18" height="2.97" fill="rgb(78,7,14)"/>
<rect x="589.13" y="115.01" width="6.18" height="2.97" fill="rgb(113,13,21)"/>
<rect x="589.13" y="112.09" width="6.18" height="2.97" fill="rgb(234,69,31)"/>
<rect x="589.13" y="109.16" width="6.18" height="2.97" fill="rgb(232,63,31)"/>
<rect x="589.13" y="106.24" width="6.18" height="2.97" fill="rgb(207,27,31)"/>
<rect x="589.13" y="103.31" width="6.18" height="2.97" fill="rgb(235,73,31)"/>
<rect x="589.13" y="100.39" width="6.18" height="2.97" fill="rgb(241,105,30)"/>
<rect x="589.13" y="97.46" width="6.18" height="2.97" fill="rgb(226,44,32)"/>
<rect x="589.13" y="94.54" width="6.18" height="2.97" fill="rgb(196,25,30)"/>
<rect x="589.13" y="91.61" width="6.18" height="2.97" fill="rgb(176,21,28)"/>
<rect x="589.13" y="88.69" width="6.18" height="2.97" fill="rgb(227,48,31)"/>
<rect x="589.13" y="85.76" width="6.18" height="2.97" fill="rgb(221,30,32)"/>
<rect x="589.13" y="82.84" width="6.18" height="2.97" fill="rgb(223,34,32)"/>
<rect x="589.13" y="79.91" width="6.18" height="2.97" fill="rgb(224,36,32)"/>
<rect x="589.13" y="76.99" width="6.18" height="2.97" fill="rgb(158,19,27)"/>
<rect x="589.13" y="74.06" width="6.18" height="2.97" fill="rgb(144,17,25)"/>
<rect x="589.13" y="71.14" width="6.18" height="2.97" fill="rgb(124,14,22)"/>
<rect x="589.13" y="68.21" width="6.18" height="2.97" fill="rgb(113,13,21)"/>
<rect x="589.13" y="65.29" width="6.18" height="2.97" fill="rgb(124,14,22)"/>
<rect x="589.13" y="62.36" width="6.18" height="2.97" fill="rgb(149,17,25)"/>
<rect x="589.13" y="59.44" width="6.18" height="2.97" fill="rgb(118,14,22)"/>
<rect x="589.13" y="56.51" width="6.18" height="2.97" fill="rgb(90,9,17)"/>
<rect x="589.13" y="53.59" width="6.18" height="2.97" fill="rgb(157,18,26)"/>
<rect x="589.13" y="50.66" width="6.18" height="2.97" fill="rgb(101,11,19)"/>
<rect x="589.13" y="47.74" width="6.18" height="2.97" fill="rgb(93,10,18)"/>
<rect x="589.13" y="44.81" width="6.18" height="2.97" fill="rgb(70,6,13)"/>
<rect x="589.13" y="41.89" width="6.18" height="2.97" fill="rgb(116,13,21)"/>
<rect x="589.13" y="38.96" width="6.18" height="2.97" fill="rgb(65,5,11)"/>
<rect x="589.13" y="36.04" width="6.18" height="2.97" fill="rgb(80,8,15)"/>
<rect x="589.13" y="33.11" width="6.18" height="2.97" fill="rgb(107,12,20)"/>
<rect x="589.13" y="30.19" width="6.18" height="2.97" fill="rgb(95,10,18)"/>
<rect x="589.13" y="27.26" width="6.18" height="2.97" fill="rgb(127,15,23)"/>
<rect x="589.13" y="24.34" width="6.18" height="2.97" fill="rgb(102,12,19)"/>
<rect x="589.13" y="21.41" width="6.18" height="2.97" fill="rgb(83,8,15)"/>
<rect x="589.13" y="18.49" width="6.18" height="2.97" fill="rgb(85,9,16)"/>
<rect x="589.13" y="15.56" width="6.18" height="2.97" fill="rgb(80,8,15)"/>
<rect x="589.13" y="12.64" width="6.18" height="2.97" fill="rgb(114,13,21)"/>
<rect x="589.13" y="10.80" width="6.18" height="1.89" fill="rgb(94,10,18)"/>
<rect x="595.27" y="129.64" width="6.18" height="1.71" fill="rgb(83,8,15)"/>
<rect x="595.27" y="126.71" width="6.18" height="2.97" fill="rgb(121,14,22)"/>
<rect x="595.27" y="123.79" width="6.18" height="2.97" fill="rgb(97,11,18)"/>
<rect x="595.27" y="120.86" width="6.18" height="2.97" fill="rgb(81,8,15)"/>
<rect x="595.27" y="117.94" width="6.18" height="2.97" fill="rgb(58,4,10)"/>
<rect x="595.27" y="115.01" width="6.18" height="2.97" fill="rgb(106,12,20)"/>
<rect x="595.27" y="112.09" width="6.18" height="2.97" fill="rgb(227,45,31)"/>
<rect x="595.27" y="109.16" width="6.18" height="2.97" fill="rgb(224,36,32)"/>
<rect x="595.27" y="106.24" width="6.18" height="2.97" fill="rgb(204,26,31)"/>
<rect x="595.27" y="103.31" width="6.18" height="2.97" fill="rgb(90,10,17)"/>
<rect x="595.27" y="100.39" width="6.18" height="2.97" fill="rgb(108,12,20)"/>
<rect x="595.27" y="97.46" width="6.18" height="2.97" fill="rgb(124,14,22)"/>
<rect x="595.27" y="94.54" width="6.18" height="2.97" fill="rgb(111,13,21)"/>
<rect x="595.27" y="91.61" width="6.18" height="2.97" fill="rgb(111,13,21)"/>
<rect x="595.27" y="88.69" width="6.18" height="2.97" fill="rgb(100,11,19)"/>
<rect x="595.27" y="85.76" width="6.18" height="2.97" fill="rgb(128,15,23)"/>
<rect x="595.27" y="82.84" width="6.18" height="2.97" fill="rgb(124,14,22)"/>
<rect x="595.27" y="79.91" width="6.18" height="2.97" fill="rgb(93,10,17)"/>
<rect x="595.27" y="76.99" width="6.18" height="2.97" fill="rgb(143,17,25)"/>
<rect x="595.27" y="74.06" width="6.18" height="2.97" fill="rgb(144,17,25)"/>
<rect x="595.27" y="71.14" width="6.18" height="2.97" fill="rgb(145,17,25)"/>
<rect x="595.27" y="68.21" width="6.18" height="2.97" fill="rgb(90,9,17)"/>
<rect x="595.27" y="65.29" width="6.18" height="2.97" fill="rgb(89,9,16)"/>
<rect x="595.27" y="62.36" width="6.18" height="2.97" fill="rgb(62,5,11)"/>
<rect x="595.27" y="59.44" width="6.18" height="2.97" fill="rgb(118,14,22)"/>
<rect x="595.27" y="56.51" width="6.18" height="2.97" fill="rgb(58,4,10)"/>
<rect x="595.27" y="53.59" width="6.18" height="2.97" fill="rgb(83,8,15)"/>
<rect x="595.27" y="50.66" width="6.18" height="2.97" fill="rgb(84,9,16)"/>
<rect x="595.27" y="47.74" width="6.18" height="2.97" fill="rgb(121,14,22)"/>
<rect x="595.27" y="44.81" width="6.18" height="2.97" fill="rgb(94,10,18)"/>
<rect x="595.27" y="41.89" width="6.18" height="2.97" fill="rgb(67,6,12)"/>
<rect x="595.27" y="38.96" width="6.18" height="2.97" fill="rgb(58,4,10)"/>
<rect x="595.27" y="36.04" width="6.18" height="2.97" fill="rgb(74,7,13)"/>
<rect x="595.27" y="33.11" width="6.18" height="2.97" fill="rgb(97,11,18)"/>
<rect x="595.27" y="30.19" width="6.18" height="2.97" fill="rgb(95,10,18)"/>
<rect x="595.27" y="27.26" width="6.18" height="2.97" fill="rgb(88,9,16)"/>
<rect x="595.27" y="24.34" width="6.18" height="2.97" fill="rgb(75,7,14)"/>
<rect x="595.27" y="21.41" width="6.18" height="2.97" fill="rgb(88,9,16)"/>
<rect x="595.27" y="18.49" width="6.18" height="2.97" fill="rgb(126,15,23)"/>
<rect x="595.27" y="15.56" width="6.18" height="2.97" fill="rgb(63,5,11)"/>
<rect x="595.27" y="12.64" width="6.18" height="2.97" fill="rgb(95,10,18)"/>
<rect x="595.27" y="10.80" width="6.18" height="1.89" fill="rgb(148,17,25)"/>
<rect x="601.40" y="129.64" width="6.18" height="1.71" fill="rgb(110,13,21)"/>
<rect x="601.40" y="126.71" width="6.18" height="2.97" fill="rgb(81,8,15)"/>
<rect x="601.40" y="123.79" width="6.18" height="2.97" fill="rgb(114,13,21)"/>
<rect x="601.40" y="120.86" width="6.18" height="2.97" fill="rgb(73,7,13)"/>
<rect x="601.40" y="117.94" width="6.18" height="2.97" fill="rgb(94,10,18)"/>
<rect x="601.40" y="115.01" width="6.18" height="2.97" fill="rgb(146,17,25)"/>
<rect x="601.40" y="112.09" width="6.18" height="2.97" fill="rgb(187,23,29)"/>
<rect x="601.40" y="109.16" width="6.18" height="2.97" fill="rgb(66,5,12)"/>
<rect x="601.40" y="106.24" width="6.18" height="2.97" fill="rgb(141,16,24)"/>
<rect x="601.40" y="103.31" width="6.18" height="2.97" fill="rgb(189,24,29)"/>
<rect x="601.40" y="100.39" width="6.18" height="2.97" fill="rgb(79,8,14)"/>
<rect x="601.40" y="97.46" width="6.18" height="2.97" fill="rgb(101,11,19)"/>
<rect x="601.40" y="94.54" width="6.18" height="2.97" fill="rgb(144,17,25)"/>
<rect x="601.40" y="91.61" width="6.18" height="2.97" fill="rgb(80,8,15)"/>
<rect x="601.40" y="88.69" width="6.18" height="2.97" fill="rgb(107,12,20)"/>
<rect x="601.40" y="85.76" width="6.18" height="2.97" fill="rgb(92,10,17)"/>
<rect x="601.40" y="82.84" width="6.18" height="2.97" fill="rgb(58,4,10)"/>
<rect x="601.40" y="79.91" width="6.18" height="2.97" fill="rgb(104,12,20)"/>
<rect x="601.40" y="76.99" width="6.18" height="2.97" fill="rgb(89,9,17)"/>
<rect x="601.40" y="74.06" width="6.18" height="2.97" fill="rgb(124,14,22)"/>
<rect x="601.40" y="71.14" width="6.18" height="2.97" fill="rgb(165,19,27)"/>
<rect x="601.40" y="68.21" width="6.18" height="2.97" fill="rgb(115,13,21)"/>
<rect x="601.40" y="65.29" width="6.18" height="2.97" fill="rgb(84,8,15)"/>
<rect x="601.40" y="62.36" width="6.18" height="2.97" fill="rgb(107,12,20)"/>
<rect x="601.40" y="59.44" width="6.18" height="2.97" fill="rgb(100,11,19)"/>
<rect x="601.40" y="56.51" width="6.18" height="2.97" fill="rgb(127,15,23)"/>
<rect x="601.40" y="53.59" width="6.18" height="2.97" fill="rgb(58,4,10)"/>
<rect x="601.40" y="50.66" width="6.18" height="2.97" fill="rgb(62,5,11)"/>
<rect x="601.40" y="47.74" width="6.18" height="2.97" fill="rgb(58,4,10)"/>
<rect x="601.40" y="44.81" width="6.18" height="2.97" fill="rgb(112,13,21)"/>
<rect x="601.40" y="41.89" width="6.18" height="2.97" fill="rgb(93,10,18)"/>
<rect x="601.40" y="38.96" width="6.18" height="2.97" fill="rgb(76,7,14)"/>
<rect x="601.40" y="36.04" width="6.18" height="2.97" fill="rgb(74,7,13)"/>
<rect x="601.40" y="33.11" width="6.18" height="2.97" fill="rgb(78,7,14)"/>
<rect x="601.40" y="30.19" width="6.18" height="2.97" fill="rgb(68,6,12)"/>
<rect x="601.40" y="27.26" width="6.18" height="2.97" fill="rgb(85,9,16)"/>
<rect x="601.40" y="24.34" width="6.18" height="2.97" fill="rgb(80,8,15)"/>
<rect x="601.40" y="21.41" width="6.18" height="2.97" fill="rgb(140,16,24)"/>
<rect x="601.40" y="18.49" width="6.18" height="2.97" fill="rgb(103,12,20)"/>
<rect x="601.40" y="15.56" width="6.18" height="2.97" fill="rgb(71,6,13)"/>
<rect x="601.40" y="12.64" width="6.18" height="2.97" fill="rgb(78,7,14)"/>
<rect x="601.40" y="10.80" width="6.18" height="1.89" fill="rgb(133,15,23)"/>
<rect x="607.53" y="129.64" width="6.18" height="1.71" fill="rgb(107,12,20)"/>
<rect x="607.53" y="126.71" width="6.18" height="2.97" fill="rgb(102,12,19)"/>
<rect x="607.53" y="123.79" width="6.18" height="2.97" fill="rgb(116,13,21)"/>
<rect x="607.53" y="120.86" width="6.18" height="2.97" fill="rgb(147,17,25)"/>
<rect x="607.53" y="117.94" width="6.18" height="2.97" fill="rgb(60,4,10)"/>
<rect x="607.53" y="115.01" width="6.18" height="2.97" fill="rgb(73,7,13)"/>
<rect x="607.53" y="112.09" width="6.18" height="2.97" fill="rgb(58,4,10)"/>
<rect x="607.53" y="109.16" width="6.18" height="2.97" fill="rgb(108,12,20)"/>
<rect x="607.53" y="106.24" width="6.18" height="2.97" fill="rgb(83,8,15)"/>
<rect x="607.53" y="103.31" width="6.18" height="2.97" fill="rgb(75,7,14)"/>
<rect x="607.53" y="100.39" width="6.18" height="2.97" fill="rgb(73,7,13)"/>
<rect x="607.53" y="97.46" width="6.18" height="2.97" fill="rgb(115,13,21)"/>
<rect x="607.53" y="94.54" width="6.18" height="2.97" fill="rgb(90,9,17)"/>
<rect x="607.53" y="91.61" width="6.18" height="2.97" fill="rgb(79,8,15)"/>
<rect x="607.53" y="88.69" width="6.18" height="2.97" fill="rgb(135,16,24)"/>
<rect x="607.53" y="85.76" width="6.18" height="2.97" fill="rgb(65,5,11)"/>
<rect x="607.53" y="82.84" width="6.18" height="2.97" fill="rgb(59,4,10)"/>
<rect x="607.53" y="79.91" width="6.18" height="2.97" fill="rgb(187,23,29)"/>
<rect x="607.53" y="76.99" width="6.18" height="2.97" fill="rgb(84,8,15)"/>
<rect x="607.53" y="74.06" width="6.18" height="2.97" fill="rgb(79,8,14)"/>
<rect x="607.53" y="71.14" width="6.18" height="2.97" fill="rgb(74,7,13)"/>
<rect x="607.53" y="68.21" width="6.18" height="2.97" fill="rgb(90,9,17)"/>
<rect x="607.53" y="65.29" width="6.18" height="2.97" fill="rgb(119,14,22)"/>
<rect x="607.53" y="62.36" width="6.18" height="2.97" fill="rgb(118,14,22)"/>
<rect x="607.53" y="59.44" width="6.18" height="2.97" fill="rgb(110,13,21)"/>
<rect x="607.53" y="56.51" width="6.18" height="2.97" fill="rgb(86,9,16)"/>
<rect x="607.53" y="53.59" width="6.18" height="2.97" fill="rgb(58,4,10)"/>
<rect x="607.53" y="50.66" width="6.18" height="2.97" fill="rgb(102,11,19)"/>
<rect x="607.53" y="47.74" width="6.18" height="2.97" fill="rgb(145,17,25)"/>
<rect x="607.53" y="44.81" width="6.18" height="2.97" fill="rgb(129,15,23)"/>
<rect x="607.53" y="41.89" width="6.18" height="2.97" fill="rgb(89,9,17)"/>
<rect x="607.53" y="38.96" width="6.18" height="2.97" fill="rgb(119,14,22)"/>
<rect x="607.53" y="36.04" width="6.18" height="2.97" fill="rgb(83,8,15)"/>
<rect x="607.53" y="33.11" width="6.18" height="2.97" fill="rgb(92,10,17)"/>
<rect x="607.53" y="30.19" width="6.18" height="2.97" fill="rgb(60,4,10)"/>
<rect x="607.53" y="27.26" width="6.18" height="2.97" fill="rgb(85,9,16)"/>
<rect x="607.53" y="24.34" width="6.18" height="2.97" fill="rgb(98,11,18)"/>
<rect x="607.53" y="21.41" width="6.18" height="2.97" fill="rgb(89,9,17)"/>
<rect x="607.53" y="18.49" width="6.18" height="2.97" fill="rgb(118,14,22)"/>
<rect x="607.53" y="15.56" width="6.18" height="2.97" fill="rgb(158,18,26)"/>
<rect x="607.53" y="12.64" width="6.18" height="2.97" fill="rgb(138,16,24)"/>
<rect x="607.53" y="10.80" width="6.18" height="1.89" fill="rgb(85,9,16)"/>
<rect x="613.67" y="129.64" width="6.18" height="1.71" fill="rgb(74,7,13)"/>
<rect x="613.67" y="126.71" width="6.18" height="2.97" fill="rgb(76,7,14)"/>
<rect x="613.67" y="123.79" width="6.18" height="2.97" fill="rgb(67,5,12)"/>
<rect x="613.67" y="120.86" width="6.18" height="2.97" fill="rgb(95,10,18)"/>
<rect x="613.67" y="117.94" width="6.18" height="2.97" fill="rgb(106,12,20)"/>
<rect x="613.67" y="115.01" width="6.18" height="2.97" fill="rgb(99,11,19)"/>
<rect x="613.67" y="112.09" width="6.18" height="2.97" fill="rgb(99,11,19)"/>
<rect x="613.67" y="109.16" width="6.18" height="2.97" fill="rgb(98,11,19)"/>
<rect x="613.67" y="106.24" width="6.18" height="2.97" fill="rgb(90,9,17)"/>
<rect x="613.67" y="103.31" width="6.18" height="2.97" fill="rgb(73,7,13)"/>
<rect x="613.67" y="100.39" width="6.18" height="2.97" fill="rgb(152,18,26)"/>
<rect x="613.67" y="97.46" width="6.18" height="2.97" fill="rgb(128,15,23)"/>
<rect x="613.67" y="94.54" width="6.18" height="2.97" fill="rgb(69,6,12)"/>
<rect x="613.67" y="91.61" width="6.18" height="2.97" fill="rgb(69,6,12)"/>
<rect x="613.67" y="88.69" width="6.18" height="2.97" fill="rgb(78,7,14)"/>
<rect x="613.67" y="85.76" width="6.18" height="2.97" fill="rgb(95,10,18)"/>
<rect x="613.67" y="82.84" width="6.18" height="2.97" fill="rgb(135,16,24)"/>
<rect x="613.67" y="79.91" width="6.18" height="2.97" fill="rgb(127,15,23)"/>
<rect x="613.67" y="76.99" width="6.18" height="2.97" fill="rgb(129,15,23)"/>
<rect x="613.67" y="74.06" width="6.18" height="2.97" fill="rgb(129,15,23)"/>
<rect x="613.67" y="71.14" width="6.18" height="2.97" fill="rgb(130,15,23)"/>
<rect x="613.67" y="68.21" width="6.18" height="2.97" fill="rgb(117,13,21)"/>
<rect x="613.67" y="65.29" width="6.18" height="2.97" fill="rgb(107,12,20)"/>
<rect x="613.67" y="62.36" width="6.18" height="2.97" fill="rgb(91,10,17)"/>
<rect x="613.67" y="59.44" width="6.18" height="2.97" fill="rgb(58,4,10)"/>
<rect x="613.67" y="56.51" width="6.18" height="2.97" fill="rgb(90,10,17)"/>
<rect x="613.67" y="53.59" width="6.18" height="2.97" fill="rgb(155,18,26)"/>
<rect x="613.67" y="50.66" width="6.18" height="2.97" fill="rgb(79,8,14)"/>
<rect x="613.67" y="47.74" width="6.18" height="2.97" fill="rgb(77,7,14)"/>
<rect x="613.67" y="44.81" width="6.18" height="2.97" fill="rgb(127,15,23)"/>
<rect x="613.67" y="41.89" width="6.18" height="2.97" fill="rgb(96,10,18)"/>
<rect x="613.67" y="38.96" width="6.18" height="2.97" fill="rgb(81,8,15)"/>
<rect x="613.67" y="36.04" width="6.18" height="2.97" fill="rgb(146,17,25)"/>
<rect x="613.67" y="33.11" width="6.18" height="2.97" fill="rgb(113,13,21)"/>
<rect x="613.67" y="30.19" width="6.18" height="2.97" fill="rgb(118,14,22)"/>
<rect x="613.67" y="27.26" width="6.18" height="2.97" fill="rgb(78,7,14)"/>
<rect x="613.67" y="24.34" width="6.18" height="2.97" fill="rgb(108,12,20)"/>
<rect x="613.67" y="21.41" width="6.18" height="2.97" fill="rgb(104,12,20)"/>
<rect x="613.67" y="18.49" width="6.18" height="2.97" fill="rgb(118,14,22)"/>
<rect x="613.67" y="15.56" width="6.18" height="2.97" fill="rgb(132,15,23)"/>
<rect x="613.67" y="12.64" width="6.18" height="2.97" fill="rgb(131,15,23)"/>
<rect x="613.67" y="10.80" width="6.18" height="1.89" fill="rgb(99,11,19)"/>
<rect x="619.80" y="129.64" width="6.18" height="1.71" fill="rgb(115,13,21)"/>
<rect x="619.80" y="126.71" width="6.18" height="2.97" fill="rgb(62,5,11)"/>
<rect x="619.80" y="123.79" width="6.18" height="2.97" fill="rgb(114,13,21)"/>
<rect x="619.80" y="120.86" width="6.18" height="2.97" fill="rgb(115,13,21)"/>
<rect x="619.80" y="117.94" width="6.18" height="2.97" fill="rgb(83,8,15)"/>
<rect x="619.80" y="115.01" width="6.18" height="2.97" fill="rgb(72,6,13)"/>
<rect x="619.80" y="112.09" width="6.18" height="2.97" fill="rgb(92,10,17)"/>
<rect x="619.80" y="109.16" width="6.18" height="2.97" fill="rgb(60,4,10)"/>
<rect x="619.80" y="106.24" width="6.18" height="2.97" fill="rgb(103,12,20)"/>
<rect x="619.80" y="103.31" width="6.18" height="2.97" fill="rgb(102,12,19)"/>
<rect x="619.80" y="100.39" width="6.18" height="2.97" fill="rgb(68,6,12)"/>
<rect x="619.80" y="97.46" width="6.18" height="2.97" fill="rgb(95,10,18)"/>
<rect x="619.80" y="94.54" width="6.18" height="2.97" fill="rgb(129,15,23)"/>
<rect x="619.80" y="91.61" width="6.18" height="2.97" fill="rgb(128,15,23)"/>
<rect x="619.80" y="88.69" width="6.18" height="2.97" fill="rgb(127,15,23)"/>
<rect x="619.80" y="85.76" width="6.18" height="2.97" fill="rgb(90,9,17)"/>
<rect x="619.80" y="82.84" width="6.18" height="2.97" fill="rgb(85,9,16)"/>
<rect x="619.80" y="79.91" width="6.18" height="2.97" fill="rgb(83,8,15)"/>
<rect x="619.80" y="76.99" width="6.18" height="2.97" fill="rgb(112,13,21)"/>
<rect x="619.80" y="74.06" width="6.18" height="2.97" fill="rgb(175,21,28)"/>
<rect x="619.80" y="71.14" width="6.18" height="2.97" fill="rgb(141,16,24)"/>
<rect x="619.80" y="68.21" width="6.18" height="2.97" fill="rgb(147,17,25)"/>
<rect x="619.80" y="65.29" width="6.18" height="2.97" fill="rgb(139,16,24)"/>
<rect x="619.80" y="62.36" width="6.18" height="2.97" fill="rgb(58,4,10)"/>
<rect x="619.80" y="59.44" width="6.18" height="2.97" fill="rgb(88,9,16)"/>
<rect x="619.80" y="56.51" width="6.18" height="2.97" fill="rgb(82,8,15)"/>
<rect x="619.80" y="53.59" width="6.18" height="2.97" fill="rgb(135,16,24)"/>
<rect x="619.80" y="50.66" width="6.18" height="2.97" fill="rgb(151,18,26)"/>
<rect x="619.80" y="47.74" width="6.18" height="2.97" fill="rgb(75,7,14)"/>
<rect x="619.80" y="44.81" width="6.18" height="2.97" fill="rgb(95,10,18)"/>
<rect x="619.80" y="41.89" width="6.18" height="2.97" fill="rgb(111,13,21)"/>
<rect x="619.80" y="38.96" width="6.18" height="2.97" fill="rgb(80,8,15)"/>
<rect x="619.80" y="36.04" width="6.18" height="2.97" fill="rgb(76,7,14)"/>
<rect x="619.80" y="33.11" width="6.18" height="2.97" fill="rgb(75,7,14)"/>
<rect x="619.80" y="30.19" width="6.18" height="2.97" fill="rgb(122,14,22)"/>
<rect x="619.80" y="27.26" width="6.18" height="2.97" fill="rgb(69,6,12)"/>
<rect x="619.80" y="24.34" width="6.18" height="2.97" fill="rgb(131,15,23)"/>
<rect x="619.80" y="21.41" width="6.18" height="2.97" fill="rgb(96,11,18)"/>
<rect x="619.80" y="18.49" width="6.18" height="2.97" fill="rgb(117,14,22)"/>
<rect x="619.80" y="15.56" width="6.18" height="2.97" fill="rgb(146,17,25)"/>
<rect x="619.80" y="12.64" width="6.18" height="2.97" fill="rgb(75,7,14)"/>
<rect x="619.80" y="10.80" width="6.18" height="1.89" fill="rgb(71,6,13)"/>
<rect x="625.93" y="129.64" width="3.12" height="1.71" fill="rgb(106,12,20)"/>
<rect x="625.93" y="126.71" width="3.12" height="2.97" fill="rgb(65,5,12)"/>
<rect x="625.93" y="123.79" width="3.12" height="2.97" fill="rgb(74,7,13)"/>
<rect x="625.93" y="120.86" width="3.12" height="2.97" fill="rgb(91,10,17)"/>
<rect x="625.93" y="117.94" width="3.12" height="2.97" fill="rgb(98,11,19)"/>
<rect x="625.93" y="115.01" width="3.12" height="2.97" fill="rgb(59,4,10)"/>
<rect x="625.93" y="112.09" width="3.12" height="2.97" fill="rgb(83,8,15)"/>
<rect x="625.93" y="109.16" width="3.12" height="2.97" fill="rgb(111,13,21)"/>
<rect x="625.93" y="106.24" width="3.12" height="2.97" fill="rgb(138,16,24)"/>
<rect x="625.93" y="103.31" width="3.12" height="2.97" fill="rgb(58,4,10)"/>
<rect x="625.93" y="100.39" width="3.12" height="2.97" fill="rgb(137,16,24)"/>
<rect x="625.93" y="97.46" width="3.12" height="2.97" fill="rgb(122,14,22)"/>
<rect x="625.93" y="94.54" width="3.12" height="2.97" fill="rgb(64,5,11)"/>
<rect x="625.93" y="91.61" width="3.12" height="2.97" fill="rgb(58,4,10)"/>
<rect x="625.93" y="88.69" width="3.12" height="2.97" fill="rgb(106,12,20)"/>
<rect x="625.93" y="85.76" width="3.12" height="2.97" fill="rgb(82,8,15)"/>
<rect x="625.93" y="82.84" width="3.12" height="2.97" fill="rgb(98,11,18)"/>
<rect x="625.93" y="79.91" width="3.12" height="2.97" fill="rgb(121,14,22)"/>
<rect x="625.93" y="76.99" width="3.12" height="2.97" fill="rgb(84,8,15)"/>
<rect x="625.93" y="74.06" width="3.12" height="2.97" fill="rgb(98,11,19)"/>
<rect x="625.93" y="71.14" width="3.12" height="2.97" fill="rgb(108,12,20)"/>
<rect x="625.93" y="68.21" width="3.12" height="2.97" fill="rgb(122,14,22)"/>
<rect x="625.93" y="65.29" width="3.12" height="2.97" fill="rgb(153,18,26)"/>
<rect x="625.93" y="62.36" width="3.12" height="2.97" fill="rgb(151,18,26)"/>
<rect x="625.93" y="59.44" width="3.12" height="2.97" fill="rgb(101,11,19)"/>
<rect x="625.93" y="56.51" width="3.12" height="2.97" fill="rgb(87,9,16)"/>
<rect x="625.93" y="53.59" width="3.12" height="2.97" fill="rgb(176,21,28)"/>
<rect x="625.93" y="50.66" width="3.12" height="2.97" fill="rgb(113,13,21)"/>
<rect x="625.93" y="47.74" width="3.12" height="2.97" fill="rgb(106,12,20)"/>
<rect x="625.93" y="44.81" width="3.12" height="2.97" fill="rgb(63,5,11)"/>
<rect x="625.93" y="41.89" width="3.12" height="2.97" fill="rgb(118,14,22)"/>
<rect x="625.93" y="38.96" width="3.12" height="2.97" fill="rgb(72,6,13)"/>
<rect x="625.93" y="36.04" width="3.12" height="2.97" fill="rgb(81,8,15)"/>
<rect x="625.93" y="33.11" width="3.12" height="2.97" fill="rgb(58,4,10)"/>
<rect x="625.93" y="30.19" width="3.12" height="2.97" fill="rgb(80,8,15)"/>
<rect x="625.93" y="27.26" width="3.12" height="2.97" fill="rgb(96,10,18)"/>
<rect x="625.93" y="24.34" width="3.12" height="2.97" fill="rgb(58,4,10)"/>
<rect x="625.93" y="21.41" width="3.12" height="2.97" fill="rgb(69,6,12)"/>
<rect x="625.93" y="18.49" width="3.12" height="2.97" fill="rgb(92,10,17)"/>
<rect x="625.93" y="15.56" width="3.12" height="2.97" fill="rgb(59,4,10)"/>
<rect x="625.93" y="12.64" width="3.12" height="2.97" fill="rgb(59,4,10)"/>
<rect x="625.93" y="10.80" width="3.12" height="1.89" fill="rgb(71,6,13)"/>
</g>
<line x1="481.8" y1="38.6" x2="629.0" y2="14.7" stroke="#ffffff" stroke-width="1.7" stroke-dasharray="6.5,3.6" fill="none"/>
<line x1="517" y1="131" x2="629.0" y2="111.8" stroke="#ffffff" stroke-width="1.7" stroke-dasharray="6.5,3.6" fill="none"/>
<line x1="532" y1="30" x2="552.5" y2="123.5" stroke="#ffffff" stroke-width="1.7" stroke-dasharray="6.5,3.6" fill="none"/>
<line x1="580.5" y1="22.5" x2="599" y2="118" stroke="#ffffff" stroke-width="1.7" stroke-dasharray="6.5,3.6" fill="none"/>
<text x="500" y="19.4" font-size="9" text-anchor="start" fill="#f5f5f5" >Gr/Au/Cr/SiN<tspan font-size="6" dy="2.4">x</tspan><tspan dy="-2.4"> tube</tspan></text>
<line x1="527.5" y1="23" x2="519" y2="34.5" stroke="#fff" stroke-width="1"/>
<path d="M516.6,37.8 L517.0,31.8 L521.6,34.8 Z" fill="#fff"/>
<line x1="585.5" y1="16.8" x2="592.5" y2="20.8" stroke="#fff" stroke-width="1"/>
<path d="M597.2,23.4 L590.3,23.9 L593.3,18.2 Z" fill="#fff"/>
<text x="576.0" y="127.9" font-size="8.8" text-anchor="start" fill="#f5f5f5" >Gr/SiN<tspan font-size="6" dy="2.4">x</tspan><tspan dy="-2.4"> tube</tspan></text>
<line x1="599.4" y1="118.7" x2="585" y2="112.3" stroke="#fff" stroke-width="1"/>
<path d="M581.2,111.0 L587.6,109.3 L585.6,115.2 Z" fill="#fff"/>
<line x1="481.80" y1="131.3" x2="481.80" y2="134.5" stroke="#3a3a3a" stroke-width="0.9"/>
<text x="481.80" y="146.2" font-size="10" text-anchor="middle" fill="#231f20" >0</text>
<line x1="494.07" y1="131.3" x2="494.07" y2="133.3" stroke="#3a3a3a" stroke-width="0.9"/>
<line x1="506.33" y1="131.3" x2="506.33" y2="134.5" stroke="#3a3a3a" stroke-width="0.9"/>
<text x="506.33" y="146.2" font-size="10" text-anchor="middle" fill="#231f20" >4</text>
<line x1="518.60" y1="131.3" x2="518.60" y2="133.3" stroke="#3a3a3a" stroke-width="0.9"/>
<line x1="530.87" y1="131.3" x2="530.87" y2="134.5" stroke="#3a3a3a" stroke-width="0.9"/>
<text x="530.87" y="146.2" font-size="10" text-anchor="middle" fill="#231f20" >8</text>
<line x1="543.13" y1="131.3" x2="543.13" y2="133.3" stroke="#3a3a3a" stroke-width="0.9"/>
<line x1="555.40" y1="131.3" x2="555.40" y2="134.5" stroke="#3a3a3a" stroke-width="0.9"/>
<text x="555.40" y="146.2" font-size="10" text-anchor="middle" fill="#231f20" >12</text>
<line x1="567.67" y1="131.3" x2="567.67" y2="133.3" stroke="#3a3a3a" stroke-width="0.9"/>
<line x1="579.93" y1="131.3" x2="579.93" y2="134.5" stroke="#3a3a3a" stroke-width="0.9"/>
<text x="579.93" y="146.2" font-size="10" text-anchor="middle" fill="#231f20" >16</text>
<line x1="592.20" y1="131.3" x2="592.20" y2="133.3" stroke="#3a3a3a" stroke-width="0.9"/>
<line x1="604.47" y1="131.3" x2="604.47" y2="134.5" stroke="#3a3a3a" stroke-width="0.9"/>
<text x="604.47" y="146.2" font-size="10" text-anchor="middle" fill="#231f20" >20</text>
<line x1="616.73" y1="131.3" x2="616.73" y2="133.3" stroke="#3a3a3a" stroke-width="0.9"/>
<line x1="629.00" y1="131.3" x2="629.00" y2="134.5" stroke="#3a3a3a" stroke-width="0.9"/>
<text x="629.00" y="146.2" font-size="10" text-anchor="middle" fill="#231f20" >24</text>
<line x1="481.8" y1="131.10" x2="479.0" y2="131.10" stroke="#3a3a3a" stroke-width="0.9"/>
<text x="474.1" y="134.70" font-size="10" text-anchor="end" fill="#231f20" >0</text>
<line x1="481.8" y1="116.47" x2="480.0" y2="116.47" stroke="#3a3a3a" stroke-width="0.9"/>
<line x1="481.8" y1="101.85" x2="479.0" y2="101.85" stroke="#3a3a3a" stroke-width="0.9"/>
<text x="474.1" y="105.45" font-size="10" text-anchor="end" fill="#231f20" >10</text>
<line x1="481.8" y1="87.22" x2="480.0" y2="87.22" stroke="#3a3a3a" stroke-width="0.9"/>
<line x1="481.8" y1="72.60" x2="479.0" y2="72.60" stroke="#3a3a3a" stroke-width="0.9"/>
<text x="474.1" y="76.20" font-size="10" text-anchor="end" fill="#231f20" >20</text>
<line x1="481.8" y1="57.97" x2="480.0" y2="57.97" stroke="#3a3a3a" stroke-width="0.9"/>
<line x1="481.8" y1="43.35" x2="479.0" y2="43.35" stroke="#3a3a3a" stroke-width="0.9"/>
<text x="474.1" y="46.95" font-size="10" text-anchor="end" fill="#231f20" >30</text>
<line x1="481.8" y1="28.72" x2="480.0" y2="28.72" stroke="#3a3a3a" stroke-width="0.9"/>
<line x1="481.8" y1="14.10" x2="479.0" y2="14.10" stroke="#3a3a3a" stroke-width="0.9"/>
<text x="474.1" y="17.70" font-size="10" text-anchor="end" fill="#231f20" >40</text>
<line x1="481.8" y1="10.8" x2="481.8" y2="131.3" stroke="#3a3a3a" stroke-width="0.8"/>
<line x1="481.8" y1="131.3" x2="629.0" y2="131.3" stroke="#3a3a3a" stroke-width="0.8"/>
<text x="563" y="159" font-size="10" text-anchor="middle" fill="#231f20" ><tspan font-style="italic">x</tspan> (μm)</text>
<text transform="translate(455.8,71.75) rotate(-90)" font-size="10.3" text-anchor="middle" fill="#231f20"><tspan font-style="italic">y</tspan> (μm)</text>
<defs><linearGradient id="cb" x1="0" y1="1" x2="0" y2="0">
<stop offset="0.000" stop-color="rgb(58,4,10)"/>
<stop offset="0.050" stop-color="rgb(78,7,14)"/>
<stop offset="0.100" stop-color="rgb(97,11,18)"/>
<stop offset="0.150" stop-color="rgb(120,14,22)"/>
<stop offset="0.200" stop-color="rgb(145,17,25)"/>
<stop offset="0.250" stop-color="rgb(170,20,28)"/>
<stop offset="0.300" stop-color="rgb(202,26,30)"/>
<stop offset="0.350" stop-color="rgb(225,40,32)"/>
<stop offset="0.400" stop-color="rgb(232,64,31)"/>
<stop offset="0.450" stop-color="rgb(240,88,30)"/>
<stop offset="0.500" stop-color="rgb(242,112,31)"/>
<stop offset="0.550" stop-color="rgb(243,136,31)"/>
<stop offset="0.600" stop-color="rgb(245,160,32)"/>
<stop offset="0.650" stop-color="rgb(245,182,34)"/>
<stop offset="0.700" stop-color="rgb(246,203,35)"/>
<stop offset="0.750" stop-color="rgb(246,218,57)"/>
<stop offset="0.800" stop-color="rgb(247,229,91)"/>
<stop offset="0.850" stop-color="rgb(248,240,125)"/>
<stop offset="0.900" stop-color="rgb(250,245,165)"/>
<stop offset="0.950" stop-color="rgb(253,250,205)"/>
<stop offset="1.000" stop-color="rgb(255,255,245)"/>
</linearGradient></defs>
<rect x="632" y="11.3" width="12.6" height="120" fill="url(#cb)" stroke="#808080" stroke-width="0.8"/>
<line x1="644.6" y1="130.90" x2="647.6" y2="130.90" stroke="#3a3a3a" stroke-width="0.9"/>
<text x="652.5" y="134.10" font-size="10" text-anchor="start" fill="#231f20" >0</text>
<line x1="644.6" y1="110.80" x2="646.4" y2="110.80" stroke="#3a3a3a" stroke-width="0.9"/>
<line x1="644.6" y1="90.60" x2="647.6" y2="90.60" stroke="#3a3a3a" stroke-width="0.9"/>
<text x="652.5" y="93.80" font-size="10" text-anchor="start" fill="#231f20" >40</text>
<line x1="644.6" y1="68.60" x2="646.4" y2="68.60" stroke="#3a3a3a" stroke-width="0.9"/>
<line x1="644.6" y1="48.50" x2="647.6" y2="48.50" stroke="#3a3a3a" stroke-width="0.9"/>
<text x="652.5" y="51.70" font-size="10" text-anchor="start" fill="#231f20" >80</text>
<line x1="644.6" y1="29.00" x2="646.4" y2="29.00" stroke="#3a3a3a" stroke-width="0.9"/>
<line x1="644.6" y1="11.60" x2="647.6" y2="11.60" stroke="#3a3a3a" stroke-width="0.9"/>
<text x="652.5" y="14.80" font-size="10" text-anchor="start" fill="#231f20" >120</text>
<text transform="translate(672.5,53.3) rotate(90)" font-size="10" fill="#231f20">|<tspan font-style="italic">I</tspan><tspan font-size="7" dy="2">ph</tspan><tspan dy="-2">| (nA)</tspan></text>
<g>
<path d="M86,241 L110.5,241 L115.3,245.8 L84.5,245.8 Z" fill="#ecd670"/>
<rect x="76" y="245.6" width="41.9" height="5.2" fill="#d6958c"/>
<line x1="84" y1="246.2" x2="117.5" y2="246.2" stroke="#e6b2aa" stroke-width="0.8"/>
<rect x="90" y="235.2" width="12.3" height="2" fill="#eed36a"/>
<rect x="88" y="237.1" width="14.9" height="2" fill="#d28e86"/>
<circle cx="75.2" cy="225" r="25" fill="#d9958a"/>
<circle cx="75.2" cy="225" r="24.2" fill="none" stroke="#e4aaa0" stroke-width="1.1"/>
<circle cx="76" cy="224.8" r="21" fill="none" stroke="#c98276" stroke-width="0.9"/>
<circle cx="77" cy="224.5" r="18.6" fill="none" stroke="#d08a7f" stroke-width="0.7"/>
<path d="M74.01,210.28 A14.6,14.6 0 1 1 76.46,238.38" fill="none" stroke="#e6b52e" stroke-width="3.2"/>
<path d="M67.12,235.88 A16.8,16.8 0 0 1 62.77,219.65" fill="none" stroke="#e2bd3c" stroke-width="3"/>
<path d="M76.86,236.11 A12.3,12.3 0 0 1 74.79,212.44" fill="none" stroke="#d58f84" stroke-width="2"/>
<circle cx="79" cy="224" r="10" fill="none" stroke="#dc9c90" stroke-width="3.4"/>
<circle cx="79.1" cy="224" r="8.3" fill="#ffffff"/>
<path d="M62.39,219.55 A17.2,17.2 0 0 1 73.12,207.84 L76.06,215.92 A8.6,8.6 0 0 0 70.69,221.77 Z" fill="#5d3b2b"/>
<line x1="64.3" y1="219.6" x2="70.5" y2="213.8" stroke="#fff" stroke-width="1"/>
<path d="M63.4,220.5 L64.1,217.4 L66.4,219.8 Z" fill="#fff"/>
<path d="M71.4,212.9 L68.4,213.6 L70.7,216.0 Z" fill="#fff"/>
</g>
<rect x="41.3" y="196.0" width="156.10000000000002" height="118.0" fill="none" stroke="#3a3a3a" stroke-width="0.9"/>
<line x1="41.3" y1="312.85" x2="42.599999999999994" y2="312.85" stroke="#3a3a3a" stroke-width="0.8"/>
<line x1="41.3" y1="305.25" x2="43.8" y2="305.25" stroke="#3a3a3a" stroke-width="0.8"/>
<text x="36.9" y="308.95" font-size="10.4" text-anchor="end" fill="#231f20" >10<tspan font-size="6.8" dy="-4.6">-3</tspan></text>
<line x1="41.3" y1="287.60" x2="42.599999999999994" y2="287.60" stroke="#3a3a3a" stroke-width="0.8"/>
<line x1="41.3" y1="280.00" x2="43.8" y2="280.00" stroke="#3a3a3a" stroke-width="0.8"/>
<text x="36.9" y="283.70" font-size="10.4" text-anchor="end" fill="#231f20" >10<tspan font-size="6.8" dy="-4.6">-2</tspan></text>
<line x1="41.3" y1="262.35" x2="42.599999999999994" y2="262.35" stroke="#3a3a3a" stroke-width="0.8"/>
<line x1="41.3" y1="254.75" x2="43.8" y2="254.75" stroke="#3a3a3a" stroke-width="0.8"/>
<text x="36.9" y="258.45" font-size="10.4" text-anchor="end" fill="#231f20" >10<tspan font-size="6.8" dy="-4.6">-1</tspan></text>
<line x1="41.3" y1="237.10" x2="42.599999999999994" y2="237.10" stroke="#3a3a3a" stroke-width="0.8"/>
<line x1="41.3" y1="229.50" x2="43.8" y2="229.50" stroke="#3a3a3a" stroke-width="0.8"/>
<text x="36.9" y="233.20" font-size="10.4" text-anchor="end" fill="#231f20" >10<tspan font-size="6.8" dy="-4.6">0</tspan></text>
<line x1="41.3" y1="211.85" x2="42.599999999999994" y2="211.85" stroke="#3a3a3a" stroke-width="0.8"/>
<line x1="41.3" y1="204.25" x2="43.8" y2="204.25" stroke="#3a3a3a" stroke-width="0.8"/>
<text x="36.9" y="207.95" font-size="10.4" text-anchor="end" fill="#231f20" >10<tspan font-size="6.8" dy="-4.6">1</tspan></text>
<line x1="54.60" y1="314.0" x2="54.60" y2="311.5" stroke="#3a3a3a" stroke-width="0.8"/>
<text x="55.10" y="328.8" font-size="10.4" text-anchor="middle" fill="#231f20" >10<tspan font-size="6.8" dy="-4.6">-3</tspan></text>
<line x1="84.80" y1="314.0" x2="84.80" y2="312.7" stroke="#3a3a3a" stroke-width="0.8"/>
<line x1="97.80" y1="314.0" x2="97.80" y2="311.5" stroke="#3a3a3a" stroke-width="0.8"/>
<text x="98.30" y="328.8" font-size="10.4" text-anchor="middle" fill="#231f20" >10<tspan font-size="6.8" dy="-4.6">-2</tspan></text>
<line x1="128.00" y1="314.0" x2="128.00" y2="312.7" stroke="#3a3a3a" stroke-width="0.8"/>
<line x1="141.00" y1="314.0" x2="141.00" y2="311.5" stroke="#3a3a3a" stroke-width="0.8"/>
<text x="141.50" y="328.8" font-size="10.4" text-anchor="middle" fill="#231f20" >10<tspan font-size="6.8" dy="-4.6">-1</tspan></text>
<line x1="171.20" y1="314.0" x2="171.20" y2="312.7" stroke="#3a3a3a" stroke-width="0.8"/>
<line x1="184.20" y1="314.0" x2="184.20" y2="311.5" stroke="#3a3a3a" stroke-width="0.8"/>
<text x="184.70" y="328.8" font-size="10.4" text-anchor="middle" fill="#231f20" >10<tspan font-size="6.8" dy="-4.6">-0</tspan></text>
<text x="119.2" y="343.2" font-size="10.4" text-anchor="middle" fill="#231f20" >Bias voltage (V)</text>
<text transform="translate(9.7,255.1) rotate(-90)" font-size="10.3" text-anchor="middle" fill="#231f20">Responsivity (A W<tspan font-size="7" dy="-3.5">−1</tspan><tspan dy="3.5">)</tspan></text>
<polyline points="54.30,301.80 98.00,292.50 141.20,267.30 184.60,245.40" fill="none" stroke="#8b1c23" stroke-width="1.3"/>
<polyline points="54.30,293.60 98.00,275.60 141.20,250.80 184.60,222.50" fill="none" stroke="#e8452b" stroke-width="1.3"/>
<polyline points="54.30,287.50 98.00,268.20 141.20,250.40 184.60,217.50" fill="none" stroke="#f5a31d" stroke-width="1.3"/>
<polyline points="54.30,280.60 98.00,261.80 141.20,243.90 184.60,211.80" fill="none" stroke="#f9e27a" stroke-width="1.3"/>
<line x1="54.30" y1="297.50" x2="54.30" y2="308.30" stroke="#8b1c23" stroke-width="0.8"/>
<line x1="52.30" y1="297.50" x2="56.30" y2="297.50" stroke="#8b1c23" stroke-width="0.8"/>
<line x1="52.30" y1="308.30" x2="56.30" y2="308.30" stroke="#8b1c23" stroke-width="0.8"/>
<line x1="98.00" y1="291.20" x2="98.00" y2="296.00" stroke="#8b1c23" stroke-width="0.8"/>
<line x1="96.00" y1="291.20" x2="100.00" y2="291.20" stroke="#8b1c23" stroke-width="0.8"/>
<line x1="96.00" y1="296.00" x2="100.00" y2="296.00" stroke="#8b1c23" stroke-width="0.8"/>
<line x1="141.20" y1="258.00" x2="141.20" y2="276.00" stroke="#8b1c23" stroke-width="0.8"/>
<line x1="139.20" y1="258.00" x2="143.20" y2="258.00" stroke="#8b1c23" stroke-width="0.8"/>
<line x1="139.20" y1="276.00" x2="143.20" y2="276.00" stroke="#8b1c23" stroke-width="0.8"/>
<line x1="184.60" y1="244.20" x2="184.60" y2="249.40" stroke="#8b1c23" stroke-width="0.8"/>
<line x1="182.60" y1="244.20" x2="186.60" y2="244.20" stroke="#8b1c23" stroke-width="0.8"/>
<line x1="182.60" y1="249.40" x2="186.60" y2="249.40" stroke="#8b1c23" stroke-width="0.8"/>
<line x1="54.30" y1="291.50" x2="54.30" y2="295.50" stroke="#e8452b" stroke-width="0.8"/>
<line x1="52.30" y1="291.50" x2="56.30" y2="291.50" stroke="#e8452b" stroke-width="0.8"/>
<line x1="52.30" y1="295.50" x2="56.30" y2="295.50" stroke="#e8452b" stroke-width="0.8"/>
<line x1="98.00" y1="272.50" x2="98.00" y2="278.50" stroke="#e8452b" stroke-width="0.8"/>
<line x1="96.00" y1="272.50" x2="100.00" y2="272.50" stroke="#e8452b" stroke-width="0.8"/>
<line x1="96.00" y1="278.50" x2="100.00" y2="278.50" stroke="#e8452b" stroke-width="0.8"/>
<line x1="141.20" y1="244.00" x2="141.20" y2="257.00" stroke="#e8452b" stroke-width="0.8"/>
<line x1="139.20" y1="244.00" x2="143.20" y2="244.00" stroke="#e8452b" stroke-width="0.8"/>
<line x1="139.20" y1="257.00" x2="143.20" y2="257.00" stroke="#e8452b" stroke-width="0.8"/>
<line x1="184.60" y1="216.00" x2="184.60" y2="228.00" stroke="#e8452b" stroke-width="0.8"/>
<line x1="182.60" y1="216.00" x2="186.60" y2="216.00" stroke="#e8452b" stroke-width="0.8"/>
<line x1="182.60" y1="228.00" x2="186.60" y2="228.00" stroke="#e8452b" stroke-width="0.8"/>
<line x1="54.30" y1="285.30" x2="54.30" y2="289.50" stroke="#f5a31d" stroke-width="0.8"/>
<line x1="52.30" y1="285.30" x2="56.30" y2="285.30" stroke="#f5a31d" stroke-width="0.8"/>
<line x1="52.30" y1="289.50" x2="56.30" y2="289.50" stroke="#f5a31d" stroke-width="0.8"/>
<line x1="98.00" y1="265.00" x2="98.00" y2="288.10" stroke="#f5a31d" stroke-width="0.8"/>
<line x1="96.00" y1="265.00" x2="100.00" y2="265.00" stroke="#f5a31d" stroke-width="0.8"/>
<line x1="96.00" y1="288.10" x2="100.00" y2="288.10" stroke="#f5a31d" stroke-width="0.8"/>
<line x1="141.20" y1="247.00" x2="141.20" y2="262.00" stroke="#f5a31d" stroke-width="0.8"/>
<line x1="139.20" y1="247.00" x2="143.20" y2="247.00" stroke="#f5a31d" stroke-width="0.8"/>
<line x1="139.20" y1="262.00" x2="143.20" y2="262.00" stroke="#f5a31d" stroke-width="0.8"/>
<line x1="184.60" y1="215.00" x2="184.60" y2="247.00" stroke="#f5a31d" stroke-width="0.8"/>
<line x1="182.60" y1="215.00" x2="186.60" y2="215.00" stroke="#f5a31d" stroke-width="0.8"/>
<line x1="182.60" y1="247.00" x2="186.60" y2="247.00" stroke="#f5a31d" stroke-width="0.8"/>
<line x1="54.30" y1="279.50" x2="54.30" y2="281.50" stroke="#f9e27a" stroke-width="0.8"/>
<line x1="52.30" y1="279.50" x2="56.30" y2="279.50" stroke="#f9e27a" stroke-width="0.8"/>
<line x1="52.30" y1="281.50" x2="56.30" y2="281.50" stroke="#f9e27a" stroke-width="0.8"/>
<line x1="98.00" y1="254.90" x2="98.00" y2="282.00" stroke="#f9e27a" stroke-width="0.8"/>
<line x1="96.00" y1="254.90" x2="100.00" y2="254.90" stroke="#f9e27a" stroke-width="0.8"/>
<line x1="96.00" y1="282.00" x2="100.00" y2="282.00" stroke="#f9e27a" stroke-width="0.8"/>
<line x1="141.20" y1="238.10" x2="141.20" y2="262.90" stroke="#f9e27a" stroke-width="0.8"/>
<line x1="139.20" y1="238.10" x2="143.20" y2="238.10" stroke="#f9e27a" stroke-width="0.8"/>
<line x1="139.20" y1="262.90" x2="143.20" y2="262.90" stroke="#f9e27a" stroke-width="0.8"/>
<line x1="184.60" y1="205.50" x2="184.60" y2="236.70" stroke="#f9e27a" stroke-width="0.8"/>
<line x1="182.60" y1="205.50" x2="186.60" y2="205.50" stroke="#f9e27a" stroke-width="0.8"/>
<line x1="182.60" y1="236.70" x2="186.60" y2="236.70" stroke="#f9e27a" stroke-width="0.8"/>
<rect x="52.10" y="299.60" width="4.40" height="4.40" fill="#8b1c23"/>
<rect x="95.80" y="290.30" width="4.40" height="4.40" fill="#8b1c23"/>
<rect x="139.00" y="265.10" width="4.40" height="4.40" fill="#8b1c23"/>
<rect x="182.40" y="243.20" width="4.40" height="4.40" fill="#8b1c23"/>
<circle cx="54.30" cy="293.60" r="2.31" fill="#e8452b"/>
<circle cx="98.00" cy="275.60" r="2.31" fill="#e8452b"/>
<circle cx="141.20" cy="250.80" r="2.31" fill="#e8452b"/>
<circle cx="184.60" cy="222.50" r="2.31" fill="#e8452b"/>
<path d="M54.30,284.86 L51.66,289.48 L56.94,289.48 Z" fill="#f5a31d"/>
<path d="M98.00,265.56 L95.36,270.18 L100.64,270.18 Z" fill="#f5a31d"/>
<path d="M141.20,247.76 L138.56,252.38 L143.84,252.38 Z" fill="#f5a31d"/>
<path d="M184.60,214.86 L181.96,219.48 L187.24,219.48 Z" fill="#f5a31d"/>
<path d="M54.30,283.24 L51.66,278.62 L56.94,278.62 Z" fill="#f9e27a"/>
<path d="M98.00,264.44 L95.36,259.82 L100.64,259.82 Z" fill="#f9e27a"/>
<path d="M141.20,246.54 L138.56,241.92 L143.84,241.92 Z" fill="#f9e27a"/>
<path d="M184.60,214.44 L181.96,209.82 L187.24,209.82 Z" fill="#f9e27a"/>
<line x1="150.3" y1="269.5" x2="166" y2="269.5" stroke="#8b1c23" stroke-width="1.3"/>
<rect x="156.00" y="267.30" width="4.40" height="4.40" fill="#8b1c23"/>
<text x="170.6" y="272.70" font-size="9.2" text-anchor="start" fill="#231f20" >10 μm</text>
<line x1="150.3" y1="280.0" x2="166" y2="280.0" stroke="#e8452b" stroke-width="1.3"/>
<circle cx="158.20" cy="280.00" r="2.31" fill="#e8452b"/>
<text x="170.6" y="283.20" font-size="9.2" text-anchor="start" fill="#231f20" >20 μm</text>
<line x1="150.3" y1="290.5" x2="166" y2="290.5" stroke="#f5a31d" stroke-width="1.3"/>
<path d="M158.20,287.86 L155.56,292.48 L160.84,292.48 Z" fill="#f5a31d"/>
<text x="170.6" y="293.70" font-size="9.2" text-anchor="start" fill="#231f20" >30 μm</text>
<line x1="150.3" y1="301.0" x2="166" y2="301.0" stroke="#f9e27a" stroke-width="1.3"/>
<path d="M158.20,303.64 L155.56,299.02 L160.84,299.02 Z" fill="#f9e27a"/>
<text x="170.6" y="304.20" font-size="9.2" text-anchor="start" fill="#231f20" >40 μm</text>
<rect x="240.6" y="197.0" width="163.00000000000003" height="119.10000000000002" fill="none" stroke="#3a3a3a" stroke-width="0.9"/>
<line x1="240.6" y1="305.85" x2="242.1" y2="305.85" stroke="#3a3a3a" stroke-width="0.8"/>
<line x1="240.6" y1="287.60" x2="243.2" y2="287.60" stroke="#3a3a3a" stroke-width="0.8"/>
<text x="234.5" y="291.20" font-size="10" text-anchor="end" fill="#231f20" >1</text>
<line x1="240.6" y1="269.35" x2="242.1" y2="269.35" stroke="#3a3a3a" stroke-width="0.8"/>
<line x1="240.6" y1="251.10" x2="243.2" y2="251.10" stroke="#3a3a3a" stroke-width="0.8"/>
<text x="234.5" y="254.70" font-size="10" text-anchor="end" fill="#231f20" >2</text>
<line x1="240.6" y1="232.85" x2="242.1" y2="232.85" stroke="#3a3a3a" stroke-width="0.8"/>
<line x1="240.6" y1="214.60" x2="243.2" y2="214.60" stroke="#3a3a3a" stroke-width="0.8"/>
<text x="234.5" y="218.20" font-size="10" text-anchor="end" fill="#231f20" >3</text>
<line x1="256.00" y1="316.1" x2="256.00" y2="313.5" stroke="#3a3a3a" stroke-width="0.8"/>
<text x="256.00" y="328.5" font-size="10" text-anchor="middle" fill="#231f20" >0</text>
<line x1="288.80" y1="316.1" x2="288.80" y2="313.5" stroke="#3a3a3a" stroke-width="0.8"/>
<text x="288.80" y="328.5" font-size="10" text-anchor="middle" fill="#231f20" >10</text>
<line x1="321.60" y1="316.1" x2="321.60" y2="313.5" stroke="#3a3a3a" stroke-width="0.8"/>
<text x="321.60" y="328.5" font-size="10" text-anchor="middle" fill="#231f20" >20</text>
<line x1="354.40" y1="316.1" x2="354.40" y2="313.5" stroke="#3a3a3a" stroke-width="0.8"/>
<text x="354.40" y="328.5" font-size="10" text-anchor="middle" fill="#231f20" >30</text>
<line x1="387.20" y1="316.1" x2="387.20" y2="313.5" stroke="#3a3a3a" stroke-width="0.8"/>
<text x="387.20" y="328.5" font-size="10" text-anchor="middle" fill="#231f20" >40</text>
<line x1="403.6" y1="315.30" x2="401.0" y2="315.30" stroke="#3a3a3a" stroke-width="0.8"/>
<line x1="403.6" y1="297.39" x2="402.3" y2="297.39" stroke="#3a3a3a" stroke-width="0.8"/>
<line x1="403.6" y1="286.91" x2="402.3" y2="286.91" stroke="#3a3a3a" stroke-width="0.8"/>
<line x1="403.6" y1="279.48" x2="402.3" y2="279.48" stroke="#3a3a3a" stroke-width="0.8"/>
<line x1="403.6" y1="273.71" x2="402.3" y2="273.71" stroke="#3a3a3a" stroke-width="0.8"/>
<line x1="403.6" y1="269.00" x2="402.3" y2="269.00" stroke="#3a3a3a" stroke-width="0.8"/>
<line x1="403.6" y1="265.02" x2="402.3" y2="265.02" stroke="#3a3a3a" stroke-width="0.8"/>
<line x1="403.6" y1="261.57" x2="402.3" y2="261.57" stroke="#3a3a3a" stroke-width="0.8"/>
<line x1="403.6" y1="258.52" x2="402.3" y2="258.52" stroke="#3a3a3a" stroke-width="0.8"/>
<line x1="403.6" y1="255.80" x2="401.0" y2="255.80" stroke="#3a3a3a" stroke-width="0.8"/>
<line x1="403.6" y1="237.89" x2="402.3" y2="237.89" stroke="#3a3a3a" stroke-width="0.8"/>
<line x1="403.6" y1="227.41" x2="402.3" y2="227.41" stroke="#3a3a3a" stroke-width="0.8"/>
<line x1="403.6" y1="219.98" x2="402.3" y2="219.98" stroke="#3a3a3a" stroke-width="0.8"/>
<line x1="403.6" y1="214.21" x2="402.3" y2="214.21" stroke="#3a3a3a" stroke-width="0.8"/>
<line x1="403.6" y1="209.50" x2="402.3" y2="209.50" stroke="#3a3a3a" stroke-width="0.8"/>
<line x1="403.6" y1="205.52" x2="402.3" y2="205.52" stroke="#3a3a3a" stroke-width="0.8"/>
<line x1="403.6" y1="202.07" x2="402.3" y2="202.07" stroke="#3a3a3a" stroke-width="0.8"/>
<line x1="403.6" y1="199.02" x2="402.3" y2="199.02" stroke="#3a3a3a" stroke-width="0.8"/>
<text x="408.7" y="199.40" font-size="10.1" text-anchor="start" fill="#231f20" >10</text>
<text x="408.7" y="259.40" font-size="10.1" text-anchor="start" fill="#231f20" >1</text>
<text x="408.7" y="319.50" font-size="10.1" text-anchor="start" fill="#231f20" >0.1</text>
<text x="322" y="342.5" font-size="10" text-anchor="middle" fill="#231f20" ><tspan font-style="italic">L</tspan> (μm)</text>
<text transform="translate(219.8,254.8) rotate(-90)" font-size="10.3" text-anchor="middle" fill="#231f20">Q factor (×10<tspan font-size="7" dy="-3.5">3</tspan><tspan dy="3.5">)</tspan></text>
<text transform="translate(436.6,255.8) rotate(-90)" font-size="10.2" text-anchor="middle" fill="#231f20">Responsivity (A W<tspan font-size="7" dy="-3.5">−1</tspan><tspan dy="3.5">)</tspan></text>
<path d="M256,207.5 C266,219 272,232 285,240 C296,247 310,249 322,250.5 C336,252 347,255 355,260 C366,268 378,283 387.3,296.5" fill="none" stroke="#1f3a6e" stroke-width="1.1" stroke-dasharray="3,2.2"/>
<path d="M288.5,293 C296,280 303,268 312,256 C318,248 326,240 335,236 C345,231 352,229 360,226 C370,222 380,218 389,213.3" fill="none" stroke="#e4262b" stroke-width="1.1" stroke-dasharray="3,2.2"/>
<path d="M253.00,207.30 L258.25,204.30 L258.25,210.30 Z" fill="#1f3a6e"/>
<path d="M285.80,247.00 L291.05,244.00 L291.05,250.00 Z" fill="#1f3a6e"/>
<path d="M318.60,250.37 L323.85,247.37 L323.85,253.37 Z" fill="#1f3a6e"/>
<path d="M351.40,258.40 L356.65,255.40 L356.65,261.40 Z" fill="#1f3a6e"/>
<path d="M384.20,297.09 L389.45,294.09 L389.45,300.09 Z" fill="#1f3a6e"/>
<path d="M292.30,293.10 L287.05,290.10 L287.05,296.10 Z" fill="#e4262b"/>
<path d="M325.10,239.30 L319.85,236.30 L319.85,242.30 Z" fill="#e4262b"/>
<path d="M357.90,229.00 L352.65,226.00 L352.65,232.00 Z" fill="#e4262b"/>
<path d="M390.70,213.30 L385.45,210.30 L385.45,216.30 Z" fill="#e4262b"/>
<ellipse cx="273.2" cy="227" rx="9.8" ry="7" fill="none" stroke="#1f3a6e" stroke-width="1"/>
<line x1="263.4" y1="227.3" x2="248" y2="227.3" stroke="#1f3a6e" stroke-width="1.1"/>
<path d="M242.8,227.3 L249.5,224.0 L249.5,230.6 Z" fill="#1f3a6e"/>
<ellipse cx="369.5" cy="223" rx="9.6" ry="7" fill="none" stroke="#e4262b" stroke-width="1"/>
<line x1="379.1" y1="223" x2="392" y2="223" stroke="#e4262b" stroke-width="1.1"/>
<path d="M397.6,223 L390.9,219.7 L390.9,226.3 Z" fill="#e4262b"/>
<line x1="286.4" y1="205" x2="290.5" y2="205" stroke="#1f3a6e" stroke-width="1.1"/>
<path d="M290.20,205.00 L295.45,202.00 L295.45,208.00 Z" fill="#1f3a6e"/>
<circle cx="299.3" cy="205.2" r="0.5" fill="#1f3a6e"/>
<text x="302.2" y="207.6" font-size="10" text-anchor="start" fill="#231f20" >Q factor</text>
<line x1="286.4" y1="217.2" x2="290.5" y2="217.2" stroke="#e4262b" stroke-width="1.1"/>
<path d="M296.50,217.20 L291.25,214.20 L291.25,220.20 Z" fill="#e4262b"/>
<circle cx="299.3" cy="217.4" r="0.5" fill="#e4262b"/>
<text x="302.6" y="219.7" font-size="10" text-anchor="start" fill="#231f20" >Responsivity</text>
<polyline points="481.90,226.22 482.40,225.32 482.90,225.04 483.40,224.03 483.90,224.68 484.40,224.25 484.90,223.80 485.40,223.68 485.90,223.24 486.40,222.19 486.90,221.68 487.40,221.25 487.90,221.09 488.40,220.56 488.90,219.56 489.40,219.45 489.90,220.13 490.40,220.62 490.90,220.39 491.40,220.56 491.90,221.60 492.40,221.49 492.90,222.19 493.40,222.75 493.90,222.62 494.40,222.54 494.90,222.81 495.40,222.28 495.90,222.31 496.40,221.95 496.90,221.76 497.40,221.22 497.90,220.74 498.40,219.91 498.90,219.10 499.40,217.84 499.90,216.36 500.40,214.82 500.90,211.57 501.40,210.25 501.90,207.79 502.40,206.51 502.90,207.35 503.40,209.11 503.90,211.76 504.40,213.40 504.90,215.98 505.40,217.75 505.90,218.58 506.40,219.94 506.90,221.52 507.40,222.34 507.90,223.12 508.40,223.46 508.90,223.86 509.40,224.14 509.90,224.84 510.40,224.40 510.90,224.89 511.40,225.29 511.90,224.78 512.40,225.96 512.90,225.36 513.40,225.74 513.90,226.64 514.40,225.69 514.90,225.89 515.40,226.70 515.90,225.85 516.40,226.14 516.90,226.54 517.40,226.57 517.90,226.67 518.40,226.63 518.90,227.02 519.40,226.94 519.90,226.83 520.40,226.41 520.90,226.43 521.40,226.03 521.90,226.96 522.40,226.11 522.90,227.07 523.40,227.43 523.90,226.42 524.40,226.57 524.90,226.65 525.40,227.12 525.90,226.53 526.40,226.80 526.90,226.67 527.40,226.76 527.90,227.31 528.40,226.52 528.90,226.88 529.40,226.95 529.90,227.15 530.40,226.41 530.90,227.23 531.40,226.99 531.90,227.13 532.40,226.84 532.90,226.23 533.40,226.56 533.90,227.06 534.40,226.77 534.90,226.72 535.40,227.34 535.90,227.46 536.40,226.64 536.90,227.30 537.40,225.89 537.90,225.83 538.40,226.81 538.90,226.36 539.40,226.60 539.90,226.52 540.40,226.24 540.90,226.43 541.40,226.15 541.90,225.47 542.40,225.97 542.90,225.83 543.40,226.25 543.90,225.05 544.40,225.26 544.90,224.88 545.40,224.73 545.90,225.06 546.40,224.28 546.90,223.60 547.40,223.40 547.90,223.17 548.40,222.09 548.90,221.89 549.40,222.13 549.90,221.60 550.40,221.13 550.90,220.97 551.40,221.21 551.90,220.95 552.40,222.09 552.90,222.16 553.40,222.34 553.90,222.04 554.40,222.38 554.90,222.89 555.40,222.80 555.90,222.45 556.40,222.64 556.90,222.54 557.40,221.62 557.90,221.19 558.40,220.45 558.90,219.54 559.40,219.19 559.90,217.77 560.40,216.07 560.90,213.55 561.40,211.32 561.90,209.38 562.40,207.48 562.90,207.00 563.40,207.44 563.90,209.77 564.40,212.52 564.90,214.78 565.40,216.88 565.90,218.06 566.40,219.76 566.90,220.44 567.40,221.81 567.90,222.11 568.40,222.69 568.90,223.15 569.40,224.05 569.90,224.27 570.40,224.55 570.90,224.36 571.40,225.04 571.90,224.69 572.40,225.89 572.90,225.48 573.40,225.74 573.90,225.76 574.40,225.35 574.90,225.52 575.40,226.08 575.90,226.69 576.40,225.85 576.90,226.06 577.40,226.35 577.90,225.83 578.40,225.88 578.90,226.37 579.40,226.54 579.90,226.45 580.40,227.16 580.90,226.60 581.40,226.81 581.90,227.27 582.40,227.33 582.90,226.19 583.40,226.64 583.90,227.19 584.40,226.32 584.90,226.49 585.40,226.37 585.90,226.36 586.40,226.44 586.90,226.91 587.40,227.30 587.90,227.39 588.40,226.86 588.90,226.17 589.40,226.84 589.90,226.74 590.40,226.98 590.90,226.81 591.40,226.22 591.90,226.98 592.40,226.11 592.90,226.58 593.40,226.91 593.90,226.91 594.40,227.32 594.90,225.93 595.40,226.85 595.90,226.95 596.40,226.57 596.90,226.88 597.40,226.24 597.90,226.82 598.40,226.73 598.90,226.16 599.40,226.22 599.90,226.33 600.40,226.10 600.90,226.62 601.40,226.24 601.90,226.54 602.40,226.39 602.90,225.88 603.40,225.66 603.90,225.24 604.40,225.12 604.90,224.92 605.40,225.09 605.90,224.39 606.40,224.42 606.90,224.11 607.40,223.47 607.90,223.13 608.40,223.22 608.90,222.78 609.40,221.46 609.90,221.23 610.40,220.83 610.90,220.68 611.40,221.29 611.90,221.12 612.40,221.57 612.90,222.06 613.40,221.62 613.90,222.02 614.40,222.37 614.90,222.93 615.40,222.67 615.90,223.00 616.40,223.18 616.90,223.10 617.40,222.68 617.90,221.99 618.40,221.36 618.90,221.82 619.40,220.96 619.90,219.66 620.40,218.78 620.90,217.49 621.40,215.42 621.90,214.10 622.40,211.47 622.90,209.36 623.40,207.94 623.90,206.98 624.40,207.94 624.90,209.75 625.40,211.97 625.90,214.33 626.40,217.04 626.90,218.06 627.40,220.09 627.90,220.34 628.40,221.83 628.90,222.39 629.40,222.69 629.90,222.54 630.40,224.46 630.90,223.87 631.40,224.25 631.90,224.90 632.40,225.12 632.90,225.40 633.40,225.40 633.90,225.12 634.40,226.09 634.90,225.60 635.40,226.11 635.90,226.34 636.40,226.64 636.90,226.24 637.40,226.28 637.90,226.38 638.40,225.88 638.90,226.32 639.40,226.28 639.90,226.28 640.40,226.79 640.90,226.66 641.40,227.37 641.90,227.37 642.40,226.22 642.90,226.95 643.40,226.59 643.90,227.16" fill="none" stroke="#8c2a30" stroke-width="1.15" stroke-linejoin="round"/>
<polyline points="481.90,254.28 482.40,254.40 482.90,254.01 483.40,253.97 483.90,253.37 484.40,252.33 484.90,252.49 485.40,252.26 485.90,252.00 486.40,251.39 486.90,251.85 487.40,250.75 487.90,250.80 488.40,249.84 488.90,250.25 489.40,249.12 489.90,249.77 490.40,249.27 490.90,250.17 491.40,250.90 491.90,250.13 492.40,250.73 492.90,251.41 493.40,251.50 493.90,251.27 494.40,252.29 494.90,251.97 495.40,252.42 495.90,252.04 496.40,251.43 496.90,251.51 497.40,251.94 497.90,250.68 498.40,250.62 498.90,250.51 499.40,250.04 499.90,249.20 500.40,247.43 500.90,247.45 501.40,245.13 501.90,243.31 502.40,241.06 502.90,238.54 503.40,236.01 503.90,234.76 504.40,235.21 504.90,235.55 505.40,237.39 505.90,240.92 506.40,243.19 506.90,245.34 507.40,247.34 507.90,247.82 508.40,249.21 508.90,250.20 509.40,251.16 509.90,251.68 510.40,251.52 510.90,251.75 511.40,252.49 511.90,252.32 512.40,253.53 512.90,253.23 513.40,253.44 513.90,253.43 514.40,254.42 514.90,254.12 515.40,254.00 515.90,254.46 516.40,254.32 516.90,254.64 517.40,254.97 517.90,254.48 518.40,254.82 518.90,254.86 519.40,255.14 519.90,255.00 520.40,254.85 520.90,254.65 521.40,255.01 521.90,254.57 522.40,255.20 522.90,255.02 523.40,255.21 523.90,254.86 524.40,254.78 524.90,254.75 525.40,255.48 525.90,255.02 526.40,255.03 526.90,254.49 527.40,255.11 527.90,253.92 528.40,255.62 528.90,255.06 529.40,255.15 529.90,254.64 530.40,254.76 530.90,255.35 531.40,255.06 531.90,255.28 532.40,255.57 532.90,255.34 533.40,254.44 533.90,254.74 534.40,254.67 534.90,254.74 535.40,254.31 535.90,254.29 536.40,254.73 536.90,254.75 537.40,255.11 537.90,254.78 538.40,255.35 538.90,254.17 539.40,254.27 539.90,254.79 540.40,254.54 540.90,254.22 541.40,254.75 541.90,254.77 542.40,254.74 542.90,254.03 543.40,254.03 543.90,253.95 544.40,253.71 544.90,253.84 545.40,253.07 545.90,253.10 546.40,251.88 546.90,252.57 547.40,252.48 547.90,251.48 548.40,251.42 548.90,250.05 549.40,250.16 549.90,249.47 550.40,249.99 550.90,250.08 551.40,249.57 551.90,249.99 552.40,250.38 552.90,251.74 553.40,251.15 553.90,251.47 554.40,251.75 554.90,251.87 555.40,251.78 555.90,251.43 556.40,251.63 556.90,252.36 557.40,251.74 557.90,251.32 558.40,250.70 558.90,250.79 559.40,250.36 559.90,249.54 560.40,249.35 560.90,247.90 561.40,246.88 561.90,245.78 562.40,243.75 562.90,241.89 563.40,238.99 563.90,236.57 564.40,235.20 564.90,234.69 565.40,236.06 565.90,237.86 566.40,240.19 566.90,242.75 567.40,244.91 567.90,246.01 568.40,247.74 568.90,248.80 569.40,250.25 569.90,250.40 570.40,251.56 570.90,251.25 571.40,252.11 571.90,252.86 572.40,252.71 572.90,253.47 573.40,252.59 573.90,253.51 574.40,253.74 574.90,253.79 575.40,253.45 575.90,254.33 576.40,253.39 576.90,254.64 577.40,254.50 577.90,254.82 578.40,254.46 578.90,254.22 579.40,254.49 579.90,254.56 580.40,254.98 580.90,254.71 581.40,255.00 581.90,255.06 582.40,255.42 582.90,254.26 583.40,254.84 583.90,255.25 584.40,255.27 584.90,254.85 585.40,254.97 585.90,255.05 586.40,255.14 586.90,254.91 587.40,254.90 587.90,254.74 588.40,255.00 588.90,255.63 589.40,254.82 589.90,255.49 590.40,255.83 590.90,255.22 591.40,255.98 591.90,255.10 592.40,255.73 592.90,255.12 593.40,254.71 593.90,255.24 594.40,255.77 594.90,254.89 595.40,255.25 595.90,254.72 596.40,254.74 596.90,255.18 597.40,254.94 597.90,255.17 598.40,255.39 598.90,254.49 599.40,254.62 599.90,254.83 600.40,255.58 600.90,254.60 601.40,254.48 601.90,254.73 602.40,255.23 602.90,254.20 603.40,254.19 603.90,254.19 604.40,254.31 604.90,254.65 605.40,253.26 605.90,252.91 606.40,253.31 606.90,253.16 607.40,251.88 607.90,252.08 608.40,252.23 608.90,251.28 609.40,251.18 609.90,250.63 610.40,250.41 610.90,250.04 611.40,249.81 611.90,250.15 612.40,249.64 612.90,250.12 613.40,250.77 613.90,250.50 614.40,250.87 614.90,251.00 615.40,251.15 615.90,252.35 616.40,251.91 616.90,252.44 617.40,252.02 617.90,251.72 618.40,251.45 618.90,251.43 619.40,251.03 619.90,250.99 620.40,249.88 620.90,249.64 621.40,248.97 621.90,247.75 622.40,246.51 622.90,245.24 623.40,243.32 623.90,240.78 624.40,238.24 624.90,235.56 625.40,234.16 625.90,233.47 626.40,234.06 626.90,236.71 627.40,239.67 627.90,242.10 628.40,243.90 628.90,246.30 629.40,247.73 629.90,248.92 630.40,250.21 630.90,250.34 631.40,251.32 631.90,251.56 632.40,252.45 632.90,252.89 633.40,252.99 633.90,253.36 634.40,253.06 634.90,253.78 635.40,253.33 635.90,254.67 636.40,254.46 636.90,253.66 637.40,253.38 637.90,254.87 638.40,254.21 638.90,254.79 639.40,254.22 639.90,254.77 640.40,254.58 640.90,255.08 641.40,254.81 641.90,255.49 642.40,254.75 642.90,255.51 643.40,255.09 643.90,255.32" fill="none" stroke="#ee5b2c" stroke-width="1.15" stroke-linejoin="round"/>
<polyline points="481.90,280.46 482.40,280.31 482.90,281.19 483.40,280.27 483.90,280.45 484.40,280.31 484.90,279.93 485.40,280.12 485.90,279.32 486.40,279.14 486.90,279.58 487.40,278.64 487.90,278.81 488.40,278.37 488.90,278.25 489.40,277.47 489.90,276.30 490.40,276.43 490.90,276.36 491.40,276.91 491.90,276.72 492.40,276.63 492.90,277.22 493.40,277.23 493.90,277.82 494.40,277.92 494.90,278.44 495.40,278.30 495.90,278.62 496.40,278.29 496.90,278.51 497.40,278.11 497.90,278.24 498.40,277.87 498.90,277.45 499.40,276.97 499.90,276.53 500.40,276.16 500.90,274.41 501.40,274.66 501.90,272.15 502.40,271.35 502.90,269.41 503.40,267.60 503.90,265.15 504.40,263.16 504.90,262.29 505.40,263.03 505.90,265.13 506.40,266.68 506.90,268.13 507.40,270.78 507.90,272.81 508.40,275.24 508.90,274.96 509.40,276.03 509.90,277.11 510.40,277.65 510.90,277.59 511.40,278.82 511.90,278.39 512.40,279.07 512.90,279.90 513.40,279.20 513.90,279.75 514.40,280.63 514.90,280.11 515.40,279.97 515.90,280.26 516.40,280.86 516.90,280.12 517.40,280.53 517.90,280.32 518.40,280.50 518.90,281.42 519.40,281.00 519.90,280.92 520.40,281.27 520.90,280.92 521.40,280.79 521.90,281.64 522.40,281.58 522.90,281.01 523.40,281.58 523.90,281.87 524.40,281.55 524.90,281.57 525.40,280.98 525.90,281.38 526.40,280.79 526.90,281.84 527.40,281.40 527.90,281.94 528.40,281.21 528.90,281.79 529.40,280.93 529.90,281.35 530.40,281.69 530.90,281.62 531.40,281.48 531.90,280.92 532.40,281.96 532.90,281.72 533.40,281.88 533.90,281.87 534.40,281.33 534.90,281.59 535.40,282.37 535.90,281.13 536.40,281.55 536.90,281.19 537.40,281.98 537.90,281.40 538.40,280.95 538.90,281.07 539.40,280.75 539.90,280.40 540.40,280.21 540.90,280.86 541.40,280.66 541.90,281.06 542.40,280.64 542.90,280.94 543.40,281.40 543.90,280.25 544.40,280.13 544.90,280.77 545.40,281.10 545.90,279.79 546.40,279.30 546.90,279.57 547.40,279.27 547.90,279.37 548.40,278.41 548.90,278.33 549.40,277.94 549.90,277.11 550.40,276.77 550.90,277.21 551.40,277.08 551.90,276.55 552.40,277.46 552.90,277.40 553.40,277.45 553.90,277.74 554.40,277.88 554.90,278.21 555.40,278.42 555.90,278.24 556.40,277.54 556.90,278.21 557.40,277.91 557.90,277.67 558.40,278.13 558.90,277.03 559.40,277.63 559.90,276.68 560.40,275.93 560.90,275.37 561.40,275.65 561.90,274.25 562.40,272.26 562.90,271.05 563.40,269.28 563.90,266.08 564.40,264.10 564.90,262.96 565.40,262.38 565.90,263.07 566.40,265.72 566.90,267.63 567.40,269.97 567.90,272.48 568.40,273.41 568.90,275.49 569.40,275.70 569.90,276.39 570.40,277.19 570.90,278.04 571.40,278.44 571.90,278.74 572.40,278.42 572.90,278.86 573.40,279.41 573.90,279.98 574.40,280.43 574.90,279.23 575.40,280.18 575.90,280.20 576.40,280.44 576.90,280.66 577.40,280.37 577.90,280.29 578.40,281.20 578.90,281.18 579.40,280.82 579.90,280.98 580.40,280.83 580.90,280.62 581.40,281.40 581.90,280.96 582.40,280.83 582.90,281.05 583.40,281.88 583.90,281.48 584.40,281.43 584.90,281.40 585.40,281.69 585.90,281.66 586.40,280.95 586.90,281.34 587.40,281.21 587.90,281.53 588.40,281.44 588.90,280.75 589.40,281.88 589.90,281.57 590.40,280.86 590.90,281.89 591.40,281.53 591.90,281.65 592.40,281.49 592.90,281.53 593.40,281.29 593.90,280.86 594.40,281.23 594.90,281.50 595.40,281.44 595.90,281.65 596.40,281.36 596.90,280.58 597.40,281.62 597.90,281.04 598.40,280.83 598.90,281.16 599.40,280.76 599.90,281.34 600.40,280.84 600.90,281.81 601.40,280.98 601.90,280.81 602.40,280.71 602.90,280.10 603.40,280.48 603.90,280.43 604.40,280.47 604.90,279.68 605.40,280.35 605.90,280.63 606.40,279.84 606.90,279.76 607.40,279.69 607.90,278.97 608.40,278.78 608.90,278.92 609.40,278.26 609.90,277.34 610.40,276.73 610.90,277.80 611.40,276.82 611.90,275.89 612.40,276.44 612.90,276.70 613.40,276.67 613.90,276.22 614.40,277.82 614.90,277.67 615.40,277.64 615.90,278.17 616.40,278.00 616.90,278.07 617.40,278.56 617.90,277.53 618.40,278.53 618.90,278.19 619.40,278.13 619.90,277.92 620.40,277.81 620.90,277.33 621.40,276.57 621.90,275.41 622.40,274.90 622.90,273.36 623.40,271.77 623.90,270.52 624.40,268.39 624.90,266.34 625.40,262.88 625.90,262.23 626.40,261.85 626.90,262.65 627.40,265.15 627.90,266.72 628.40,269.47 628.90,271.24 629.40,273.04 629.90,274.06 630.40,275.45 630.90,276.62 631.40,277.15 631.90,277.83 632.40,277.94 632.90,279.19 633.40,278.74 633.90,279.30 634.40,279.77 634.90,279.72 635.40,280.26 635.90,280.24 636.40,280.93 636.90,280.66 637.40,280.73 637.90,280.41 638.40,280.96 638.90,281.25 639.40,281.12 639.90,280.71 640.40,280.92 640.90,281.09 641.40,281.24 641.90,280.79 642.40,281.99 642.90,281.34 643.40,281.45 643.90,281.29" fill="none" stroke="#f4a426" stroke-width="1.15" stroke-linejoin="round"/>
<polyline points="481.90,305.35 482.40,305.95 482.90,304.83 483.40,304.87 483.90,304.58 484.40,304.64 484.90,305.27 485.40,304.39 485.90,304.33 486.40,303.74 486.90,304.13 487.40,304.22 487.90,303.85 488.40,303.76 488.90,304.07 489.40,303.86 489.90,303.52 490.40,303.16 490.90,302.79 491.40,303.80 491.90,302.55 492.40,303.21 492.90,302.80 493.40,302.49 493.90,302.94 494.40,302.25 494.90,302.83 495.40,301.88 495.90,302.27 496.40,302.39 496.90,301.42 497.40,302.30 497.90,301.63 498.40,300.28 498.90,301.23 499.40,301.03 499.90,299.80 500.40,299.25 500.90,298.74 501.40,297.06 501.90,296.67 502.40,295.56 502.90,293.35 503.40,291.99 503.90,290.36 504.40,287.22 504.90,286.51 505.40,287.37 505.90,289.39 506.40,291.42 506.90,293.15 507.40,295.05 507.90,296.86 508.40,299.09 508.90,299.28 509.40,300.34 509.90,301.64 510.40,301.85 510.90,302.14 511.40,303.45 511.90,303.46 512.40,303.44 512.90,303.85 513.40,304.58 513.90,304.35 514.40,304.78 514.90,305.18 515.40,305.38 515.90,304.53 516.40,305.14 516.90,305.31 517.40,305.57 517.90,305.89 518.40,306.12 518.90,305.62 519.40,305.46 519.90,305.98 520.40,305.75 520.90,306.61 521.40,306.17 521.90,306.10 522.40,306.46 522.90,305.90 523.40,306.04 523.90,306.11 524.40,306.41 524.90,306.65 525.40,306.48 525.90,306.47 526.40,306.12 526.90,306.33 527.40,306.10 527.90,306.58 528.40,305.94 528.90,306.12 529.40,306.21 529.90,306.37 530.40,305.82 530.90,305.96 531.40,305.72 531.90,305.50 532.40,306.32 532.90,306.06 533.40,305.32 533.90,305.46 534.40,305.95 534.90,305.49 535.40,305.28 535.90,306.03 536.40,305.36 536.90,305.34 537.40,305.60 537.90,305.08 538.40,305.27 538.90,305.25 539.40,305.38 539.90,304.78 540.40,305.35 540.90,305.01 541.40,305.44 541.90,304.80 542.40,304.45 542.90,304.37 543.40,304.07 543.90,304.38 544.40,304.27 544.90,304.52 545.40,304.15 545.90,303.74 546.40,304.31 546.90,303.71 547.40,303.87 547.90,304.20 548.40,304.04 548.90,303.25 549.40,303.38 549.90,303.81 550.40,303.59 550.90,303.35 551.40,303.38 551.90,302.22 552.40,302.78 552.90,302.28 553.40,302.46 553.90,302.44 554.40,302.63 554.90,302.76 555.40,302.49 555.90,302.17 556.40,301.79 556.90,302.18 557.40,301.62 557.90,300.68 558.40,301.01 558.90,300.89 559.40,300.00 559.90,299.97 560.40,299.87 560.90,298.58 561.40,297.82 561.90,296.79 562.40,295.17 562.90,293.75 563.40,291.65 563.90,289.78 564.40,287.55 564.90,286.71 565.40,286.01 565.90,287.31 566.40,288.47 566.90,291.17 567.40,293.58 567.90,295.53 568.40,296.67 568.90,298.16 569.40,299.30 569.90,300.02 570.40,300.73 570.90,301.68 571.40,301.60 571.90,301.82 572.40,302.68 572.90,303.29 573.40,302.69 573.90,304.24 574.40,304.03 574.90,304.42 575.40,304.11 575.90,304.57 576.40,305.39 576.90,305.54 577.40,305.24 577.90,305.04 578.40,305.21 578.90,305.82 579.40,305.19 579.90,305.20 580.40,305.55 580.90,305.99 581.40,305.35 581.90,305.91 582.40,305.97 582.90,305.93 583.40,305.86 583.90,306.28 584.40,306.18 584.90,305.48 585.40,306.58 585.90,306.19 586.40,306.14 586.90,305.90 587.40,305.92 587.90,305.12 588.40,305.91 588.90,306.17 589.40,306.15 589.90,305.66 590.40,305.02 590.90,305.40 591.40,305.63 591.90,306.13 592.40,305.04 592.90,305.54 593.40,305.65 593.90,305.57 594.40,305.22 594.90,304.15 595.40,305.24 595.90,304.94 596.40,304.95 596.90,304.29 597.40,304.31 597.90,304.86 598.40,304.13 598.90,304.00 599.40,303.57 599.90,304.10 600.40,302.89 600.90,303.10 601.40,303.25 601.90,302.89 602.40,303.03 602.90,302.67 603.40,302.84 603.90,302.06 604.40,301.91 604.90,301.87 605.40,300.96 605.90,301.92 606.40,300.93 606.90,301.49 607.40,301.45 607.90,301.15 608.40,300.73 608.90,300.31 609.40,299.67 609.90,300.52 610.40,300.14 610.90,300.76 611.40,299.97 611.90,300.24 612.40,299.83 612.90,300.09 613.40,299.78 613.90,299.82 614.40,299.20 614.90,299.60 615.40,299.80 615.90,300.30 616.40,299.93 616.90,299.39 617.40,300.36 617.90,299.89 618.40,300.11 618.90,299.31 619.40,298.36 619.90,299.10 620.40,298.80 620.90,298.99 621.40,297.99 621.90,297.74 622.40,296.95 622.90,296.67 623.40,295.25 623.90,294.72 624.40,292.84 624.90,290.87 625.40,288.36 625.90,286.66 626.40,285.86 626.90,285.55 627.40,287.83 627.90,289.62 628.40,292.53 628.90,295.11 629.40,296.77 629.90,297.40 630.40,299.50 630.90,300.01 631.40,300.84 631.90,301.62 632.40,301.89 632.90,302.91 633.40,303.01 633.90,304.04 634.40,304.08 634.90,303.33 635.40,304.16 635.90,304.36 636.40,304.67 636.90,304.86 637.40,305.32 637.90,305.33 638.40,305.12 638.90,305.77 639.40,306.04 639.90,305.81 640.40,306.31 640.90,306.11 641.40,305.83 641.90,305.95 642.40,306.15 642.90,306.38 643.40,306.30 643.90,306.63" fill="none" stroke="#f6dd2e" stroke-width="1.15" stroke-linejoin="round"/>
<line x1="505.4" y1="197.1" x2="505.4" y2="316.0" stroke="#4a4a4a" stroke-width="0.9" stroke-dasharray="4.2,2.6"/>
<line x1="566.0" y1="197.1" x2="566.0" y2="316.0" stroke="#4a4a4a" stroke-width="0.9" stroke-dasharray="4.2,2.6"/>
<line x1="627.5" y1="197.1" x2="627.5" y2="316.0" stroke="#4a4a4a" stroke-width="0.9" stroke-dasharray="4.2,2.6"/>
<rect x="481.1" y="197.1" width="163.29999999999995" height="118.9" fill="none" stroke="#3a3a3a" stroke-width="0.9"/>
<line x1="481.50" y1="316.0" x2="481.50" y2="313.2" stroke="#3a3a3a" stroke-width="0.8"/>
<line x1="511.20" y1="316.0" x2="511.20" y2="313.2" stroke="#3a3a3a" stroke-width="0.8"/>
<text x="511.20" y="328.5" font-size="10" text-anchor="middle" fill="#231f20" >794</text>
<line x1="540.90" y1="316.0" x2="540.90" y2="313.2" stroke="#3a3a3a" stroke-width="0.8"/>
<text x="540.90" y="328.5" font-size="10" text-anchor="middle" fill="#231f20" >796</text>
<line x1="570.60" y1="316.0" x2="570.60" y2="313.2" stroke="#3a3a3a" stroke-width="0.8"/>
<text x="570.60" y="328.5" font-size="10" text-anchor="middle" fill="#231f20" >798</text>
<line x1="600.30" y1="316.0" x2="600.30" y2="313.2" stroke="#3a3a3a" stroke-width="0.8"/>
<text x="600.30" y="328.5" font-size="10" text-anchor="middle" fill="#231f20" >800</text>
<line x1="630.00" y1="316.0" x2="630.00" y2="313.2" stroke="#3a3a3a" stroke-width="0.8"/>
<text x="630.00" y="328.5" font-size="10" text-anchor="middle" fill="#231f20" >802</text>
<text x="563" y="343.5" font-size="10" text-anchor="middle" fill="#231f20" >Wavelength (nm)</text>
<text transform="translate(471.7,256.5) rotate(-90)" font-size="10.4" text-anchor="middle" fill="#231f20">PL intensity (a. u.)</text>
<text x="505.5" y="193.2" font-size="8.7" text-anchor="middle" fill="#231f20" ><tspan font-style="italic">m</tspan> = 197</text>
<text x="566" y="193.2" font-size="8.7" text-anchor="middle" fill="#231f20" ><tspan font-style="italic">m</tspan> = 196</text>
<text x="628" y="193.2" font-size="8.7" text-anchor="middle" fill="#231f20" ><tspan font-style="italic">m</tspan> = 195</text>
<text x="536.5" y="218.5" font-size="9" text-anchor="middle" fill="#231f20" >1000 mV</text>
<text x="535.5" y="246.8" font-size="9" text-anchor="middle" fill="#231f20" >100 mV</text>
<text x="535.5" y="274.6" font-size="9" text-anchor="middle" fill="#231f20" >50 mV</text>
<text x="535.2" y="304.0" font-size="9" text-anchor="middle" fill="#231f20" >0 mV</text>
</svg></body></html>
